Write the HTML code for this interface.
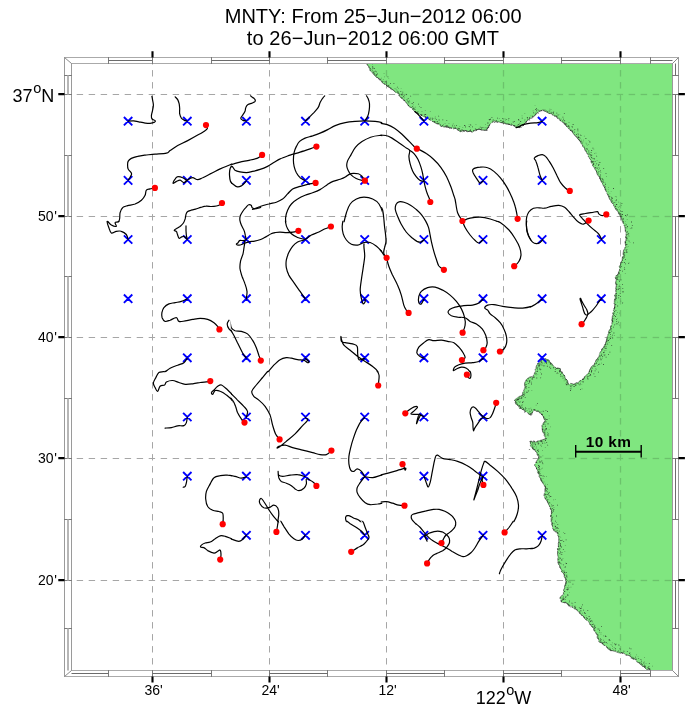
<!DOCTYPE html>
<html><head><meta charset="utf-8"><title>MNTY</title>
<style>html,body{margin:0;padding:0;background:#fff}svg{display:block;will-change:transform}text{font-family:"Liberation Sans",sans-serif;fill:#000}</style></head><body>
<svg width="691" height="710" viewBox="0 0 691 710">
<rect width="691" height="710" fill="#fff"/>
<defs>
<clipPath id="plot"><rect x="71.5" y="63.5" width="601.0" height="607.0"/></clipPath>
<clipPath id="t00"><rect x="59.2" y="49.2" width="173.1" height="173.1"/></clipPath>
<clipPath id="t01"><rect x="59.2" y="220.7" width="173.1" height="151.6"/></clipPath>
<clipPath id="t02"><rect x="59.2" y="370.7" width="173.1" height="151.6"/></clipPath>
<clipPath id="t03"><rect x="59.2" y="520.7" width="173.1" height="180.1"/></clipPath>
<clipPath id="t10"><rect x="230.7" y="49.2" width="151.6" height="173.1"/></clipPath>
<clipPath id="t11"><rect x="230.7" y="220.7" width="151.6" height="151.6"/></clipPath>
<clipPath id="t12"><rect x="230.7" y="370.7" width="151.6" height="151.6"/></clipPath>
<clipPath id="t13"><rect x="230.7" y="520.7" width="151.6" height="180.1"/></clipPath>
<clipPath id="t20"><rect x="380.7" y="49.2" width="150.6" height="173.1"/></clipPath>
<clipPath id="t21"><rect x="380.7" y="220.7" width="150.6" height="151.6"/></clipPath>
<clipPath id="t22"><rect x="380.7" y="370.7" width="150.6" height="151.6"/></clipPath>
<clipPath id="t23"><rect x="380.7" y="520.7" width="150.6" height="180.1"/></clipPath>
<clipPath id="t30"><rect x="529.7" y="49.2" width="162.1" height="173.1"/></clipPath>
<clipPath id="t31"><rect x="529.7" y="220.7" width="162.1" height="151.6"/></clipPath>
<clipPath id="t32"><rect x="529.7" y="370.7" width="162.1" height="151.6"/></clipPath>
<clipPath id="t33"><rect x="529.7" y="520.7" width="162.1" height="180.1"/></clipPath>
</defs>
<g stroke="#a6a6a6" stroke-width="1" stroke-dasharray="6.4 5.6" fill="none" clip-path="url(#plot)">
<path d="M152.5 58.1V676.5"/>
<path d="M269.5 58.1V676.5"/>
<path d="M386.5 58.1V676.5"/>
<path d="M503.5 58.1V676.5"/>
<path d="M620.5 58.1V676.5"/>
<path d="M64.7 94.5H678.5"/>
<path d="M64.7 216.5H678.5"/>
<path d="M64.7 337.5H678.5"/>
<path d="M64.7 458.5H678.5"/>
<path d="M64.7 580.5H678.5"/>
</g>
<path d="M366.5 63.5L367.2 64.7L368.5 66.2L369.3 68.2L369.7 70.0L370.8 71.3L372.1 72.3L373.7 74.5L374.5 75.2L376.4 77.2L377.6 77.7L379.4 78.4L380.5 79.9L380.9 80.8L382.3 82.7L383.4 83.5L385.2 84.3L386.3 84.9L387.0 86.1L389.2 87.4L390.3 88.5L391.9 89.1L393.9 90.6L394.7 91.4L396.1 92.9L397.5 93.2L398.9 94.1L399.4 96.0L400.2 96.8L401.1 98.1L403.1 99.1L404.3 99.9L405.1 101.4L406.0 102.3L407.3 104.1L407.9 104.9L408.5 106.0L410.4 107.5L411.8 107.7L412.5 109.3L413.2 110.1L414.6 110.8L415.7 112.6L417.2 112.7L418.9 114.2L419.9 114.5L421.9 115.8L423.6 116.5L424.3 116.7L425.8 118.1L427.9 118.0L428.4 118.9L429.9 120.0L431.7 120.5L432.3 121.4L434.1 122.4L436.1 123.3L436.9 123.9L438.4 124.0L440.0 125.6L441.2 126.4L442.3 126.2L443.6 126.9L445.1 126.6L446.9 127.0L448.7 127.3L450.1 127.6L451.9 128.0L453.6 128.8L456.0 128.2L456.9 129.4L458.4 130.1L460.3 132.1L461.5 131.3L462.6 130.7L464.5 130.8L466.7 130.5L467.3 131.8L469.4 131.2L471.0 131.4L472.3 132.0L474.1 131.1L474.8 130.2L476.1 130.1L477.9 129.5L479.2 129.0L481.3 130.1L482.9 130.1L484.4 130.2L485.2 130.1L486.9 129.7L487.0 128.6L487.8 127.7L489.1 125.9L490.1 123.9L492.0 122.5L493.0 121.7L494.8 121.0L496.8 122.1L498.6 121.9L499.9 122.5L500.7 122.6L503.2 122.9L504.5 123.0L505.3 123.7L507.0 124.2L509.3 124.1L510.1 125.1L512.0 124.7L512.8 125.2L515.2 126.5L515.8 127.0L518.3 127.3L520.0 127.7L521.0 125.8L523.3 125.3L524.0 124.4L525.1 123.0L526.9 121.3L527.4 120.4L528.7 119.7L530.0 118.5L531.1 118.1L532.6 116.6L534.1 116.2L535.2 115.2L536.5 113.8L537.8 112.2L539.1 111.3L539.9 111.0L542.6 110.1L544.9 111.0L546.1 111.8L548.1 112.9L549.0 113.4L550.7 113.8L552.9 114.8L554.2 115.9L556.1 116.2L557.0 117.4L558.1 118.6L559.3 119.5L560.6 121.0L562.1 122.0L563.6 122.3L564.2 124.2L565.7 124.3L565.9 125.7L566.9 126.6L567.9 128.2L569.9 129.5L570.2 130.4L571.9 130.9L573.2 133.2L573.5 134.4L574.8 135.1L576.5 136.8L576.6 137.6L578.1 138.7L578.6 139.9L580.1 140.8L580.8 142.6L581.1 143.7L582.7 145.1L582.9 146.9L584.6 148.2L584.6 148.7L585.2 150.8L586.2 151.4L587.1 153.8L588.3 154.5L588.3 156.7L589.5 157.8L589.6 158.5L591.1 160.4L591.0 162.5L592.4 163.7L592.5 165.2L593.2 166.7L594.3 167.5L595.2 169.6L595.6 170.1L596.6 171.7L596.8 173.0L597.4 174.5L598.5 176.0L599.7 177.4L600.1 178.7L600.6 180.0L601.2 181.4L602.5 183.5L602.6 184.8L604.2 185.8L604.8 187.6L605.1 189.5L605.7 190.6L606.8 192.6L607.1 193.8L608.2 195.0L608.6 196.1L608.9 197.3L609.7 199.5L610.8 200.2L611.4 202.5L613.2 203.8L613.3 204.7L614.2 206.5L615.0 207.9L616.2 210.1L618.0 211.1L618.2 213.1L619.1 213.8L619.6 215.4L621.0 217.0L621.5 218.5L621.8 219.8L622.4 221.5L622.9 222.6L623.7 224.4L624.6 226.3L625.1 228.2L625.4 230.2L625.3 231.3L626.3 232.8L626.3 235.2L625.3 237.1L626.2 238.5L625.9 240.4L625.0 241.8L625.3 243.8L625.6 245.5L625.0 247.2L624.8 248.7L623.9 249.5L623.4 251.6L623.1 253.8L623.3 255.3L622.9 257.0L622.2 257.8L622.1 260.4L621.2 261.8L620.9 262.9L620.5 264.8L619.3 266.6L619.7 268.2L619.3 270.9L618.6 271.9L618.2 274.0L617.2 275.2L615.8 275.8L615.3 277.8L616.1 279.6L616.0 281.0L615.5 283.1L616.3 285.3L616.1 286.5L615.8 288.4L615.6 289.6L615.9 291.4L615.8 294.0L614.5 295.1L615.4 297.3L614.8 298.2L614.4 300.6L614.3 301.9L614.1 303.5L614.9 304.7L614.6 306.8L614.4 308.7L613.4 310.6L613.5 311.3L612.7 313.5L613.0 315.0L612.3 316.7L612.2 318.9L611.5 320.5L612.2 321.4L611.9 323.8L611.6 324.9L610.4 326.7L610.7 328.6L609.4 330.1L608.8 331.3L608.1 333.9L607.8 335.7L607.3 336.3L607.1 337.7L606.4 340.0L606.4 341.3L605.6 342.8L605.5 343.8L604.7 344.7L603.8 346.6L603.0 348.3L601.6 349.1L601.6 350.6L600.2 352.3L599.2 354.3L599.4 355.3L598.4 356.9L597.7 358.6L596.2 359.7L595.3 362.1L594.7 362.7L594.2 365.1L592.7 365.5L591.4 366.9L590.6 368.3L589.6 370.0L589.0 372.2L588.2 373.0L586.9 374.6L585.9 375.8L584.3 376.8L584.3 377.6L582.6 379.2L581.9 379.7L580.0 380.8L578.7 381.8L577.9 383.0L576.4 382.7L573.9 384.3L573.0 384.0L570.7 383.4L568.6 384.5L568.1 382.7L567.3 380.3L565.3 378.5L565.1 377.7L564.9 376.3L563.8 374.9L562.8 373.3L561.4 372.1L560.6 370.8L560.2 368.6L557.9 368.0L556.8 368.1L554.4 366.9L553.7 366.3L552.4 364.6L551.4 363.1L550.1 362.5L549.9 361.5L548.9 360.1L546.3 359.1L545.4 358.9L543.1 358.8L541.9 360.3L540.4 360.9L539.2 362.8L537.7 363.2L536.9 365.1L536.3 366.2L536.0 368.6L535.2 369.6L535.3 371.5L534.6 373.1L533.4 375.4L533.0 377.3L531.5 376.7L529.5 377.2L528.4 378.0L526.7 378.8L525.7 381.0L525.1 381.8L524.5 384.1L525.0 386.7L524.3 388.7L524.1 389.9L522.7 392.5L522.9 392.9L522.3 394.7L521.4 396.1L519.8 396.2L518.5 397.1L517.8 397.3L516.4 398.5L514.2 400.3L515.5 401.3L515.3 402.8L516.4 404.8L517.2 405.3L519.0 406.1L519.4 408.3L521.3 408.2L521.8 409.2L524.4 410.3L525.6 412.0L526.5 412.1L528.7 413.4L529.3 414.5L530.8 414.8L531.1 413.7L533.0 411.9L533.7 409.5L534.6 410.5L537.1 411.6L538.2 411.2L539.3 412.6L541.0 413.3L541.9 415.0L543.0 416.1L543.5 417.3L543.9 419.0L545.1 420.4L543.7 422.7L543.0 423.3L542.0 425.4L542.0 428.0L542.4 430.2L542.4 430.5L542.9 432.5L544.4 433.8L544.2 435.5L545.2 437.5L545.8 439.4L544.3 439.0L543.0 439.7L541.3 440.2L539.8 440.5L537.5 441.1L535.7 442.4L534.6 441.5L532.7 442.1L531.2 441.1L530.0 441.4L530.5 442.9L530.3 445.9L531.8 447.2L531.9 447.7L533.1 448.7L535.2 450.4L536.1 451.6L537.0 453.1L537.2 454.9L538.7 455.9L539.0 458.3L537.5 459.8L536.4 461.4L535.4 463.4L534.8 464.3L534.7 466.0L536.3 467.3L536.6 468.7L537.7 470.6L537.3 471.5L538.2 473.5L539.1 474.4L539.2 476.8L540.3 478.0L540.9 480.4L541.8 481.7L542.9 483.2L544.4 485.6L544.3 486.1L545.3 487.5L544.9 489.8L545.0 491.2L544.7 492.7L544.4 493.3L544.0 495.6L544.9 497.8L545.2 498.9L546.5 500.2L547.2 501.3L548.4 503.8L548.6 505.0L550.2 507.3L550.0 507.9L551.4 510.5L551.4 511.0L551.4 513.5L550.8 515.9L551.0 517.2L551.3 519.1L551.2 521.6L552.1 522.6L551.7 524.5L552.5 526.1L552.4 527.6L553.5 530.0L553.8 530.8L555.9 531.4L557.2 532.7L557.6 534.9L558.4 536.3L558.8 538.3L558.8 540.1L558.8 541.5L558.3 543.4L558.4 544.9L558.3 547.5L557.4 548.7L557.7 550.6L557.5 552.9L557.7 554.8L558.0 556.3L557.9 558.3L557.8 561.0L558.0 561.8L558.4 563.9L559.4 565.3L560.3 568.0L561.1 569.5L561.4 571.4L562.5 572.8L563.7 573.3L564.3 575.7L564.2 576.4L565.3 578.1L565.7 580.2L565.9 582.0L565.2 584.8L564.6 585.9L564.7 587.9L563.7 589.7L563.4 592.5L563.5 594.4L561.7 595.7L560.4 596.9L559.9 598.1L560.8 599.8L561.2 601.7L562.3 602.5L564.7 602.5L566.6 603.0L568.0 604.4L568.4 605.6L569.7 605.8L571.5 606.3L573.1 607.3L574.3 608.8L575.7 609.1L576.6 609.6L577.5 611.0L579.5 612.6L580.6 614.4L581.4 614.9L583.2 615.9L583.7 617.5L585.1 618.7L586.5 620.3L588.2 621.0L589.2 622.6L589.7 624.4L590.8 624.8L591.6 626.6L593.5 628.0L593.7 628.9L594.0 630.9L595.5 632.0L596.3 633.6L597.4 635.5L597.2 637.3L597.6 638.4L598.7 639.6L598.9 641.8L600.1 642.5L602.4 642.9L602.8 644.4L604.4 645.4L606.0 645.8L606.7 647.0L607.6 648.7L609.7 649.5L610.0 650.6L612.5 650.7L614.0 651.1L615.0 651.2L616.6 651.6L618.3 652.7L620.3 653.1L621.9 652.7L623.3 653.1L625.1 654.1L626.0 655.0L628.4 655.3L629.9 655.9L630.7 657.1L632.8 658.9L634.4 659.1L636.2 660.0L636.6 661.7L638.3 662.4L639.6 663.8L640.6 664.6L642.1 665.6L643.1 666.4L644.5 666.9L645.3 668.2L646.4 669.5L648.4 669.2L650.7 670.5L672.5 670.5L672.5 63.5Z" fill="#80e680" stroke="none"/>
<clipPath id="land"><path d="M366.5 63.5L367.2 64.7L368.5 66.2L369.3 68.2L369.7 70.0L370.8 71.3L372.1 72.3L373.7 74.5L374.5 75.2L376.4 77.2L377.6 77.7L379.4 78.4L380.5 79.9L380.9 80.8L382.3 82.7L383.4 83.5L385.2 84.3L386.3 84.9L387.0 86.1L389.2 87.4L390.3 88.5L391.9 89.1L393.9 90.6L394.7 91.4L396.1 92.9L397.5 93.2L398.9 94.1L399.4 96.0L400.2 96.8L401.1 98.1L403.1 99.1L404.3 99.9L405.1 101.4L406.0 102.3L407.3 104.1L407.9 104.9L408.5 106.0L410.4 107.5L411.8 107.7L412.5 109.3L413.2 110.1L414.6 110.8L415.7 112.6L417.2 112.7L418.9 114.2L419.9 114.5L421.9 115.8L423.6 116.5L424.3 116.7L425.8 118.1L427.9 118.0L428.4 118.9L429.9 120.0L431.7 120.5L432.3 121.4L434.1 122.4L436.1 123.3L436.9 123.9L438.4 124.0L440.0 125.6L441.2 126.4L442.3 126.2L443.6 126.9L445.1 126.6L446.9 127.0L448.7 127.3L450.1 127.6L451.9 128.0L453.6 128.8L456.0 128.2L456.9 129.4L458.4 130.1L460.3 132.1L461.5 131.3L462.6 130.7L464.5 130.8L466.7 130.5L467.3 131.8L469.4 131.2L471.0 131.4L472.3 132.0L474.1 131.1L474.8 130.2L476.1 130.1L477.9 129.5L479.2 129.0L481.3 130.1L482.9 130.1L484.4 130.2L485.2 130.1L486.9 129.7L487.0 128.6L487.8 127.7L489.1 125.9L490.1 123.9L492.0 122.5L493.0 121.7L494.8 121.0L496.8 122.1L498.6 121.9L499.9 122.5L500.7 122.6L503.2 122.9L504.5 123.0L505.3 123.7L507.0 124.2L509.3 124.1L510.1 125.1L512.0 124.7L512.8 125.2L515.2 126.5L515.8 127.0L518.3 127.3L520.0 127.7L521.0 125.8L523.3 125.3L524.0 124.4L525.1 123.0L526.9 121.3L527.4 120.4L528.7 119.7L530.0 118.5L531.1 118.1L532.6 116.6L534.1 116.2L535.2 115.2L536.5 113.8L537.8 112.2L539.1 111.3L539.9 111.0L542.6 110.1L544.9 111.0L546.1 111.8L548.1 112.9L549.0 113.4L550.7 113.8L552.9 114.8L554.2 115.9L556.1 116.2L557.0 117.4L558.1 118.6L559.3 119.5L560.6 121.0L562.1 122.0L563.6 122.3L564.2 124.2L565.7 124.3L565.9 125.7L566.9 126.6L567.9 128.2L569.9 129.5L570.2 130.4L571.9 130.9L573.2 133.2L573.5 134.4L574.8 135.1L576.5 136.8L576.6 137.6L578.1 138.7L578.6 139.9L580.1 140.8L580.8 142.6L581.1 143.7L582.7 145.1L582.9 146.9L584.6 148.2L584.6 148.7L585.2 150.8L586.2 151.4L587.1 153.8L588.3 154.5L588.3 156.7L589.5 157.8L589.6 158.5L591.1 160.4L591.0 162.5L592.4 163.7L592.5 165.2L593.2 166.7L594.3 167.5L595.2 169.6L595.6 170.1L596.6 171.7L596.8 173.0L597.4 174.5L598.5 176.0L599.7 177.4L600.1 178.7L600.6 180.0L601.2 181.4L602.5 183.5L602.6 184.8L604.2 185.8L604.8 187.6L605.1 189.5L605.7 190.6L606.8 192.6L607.1 193.8L608.2 195.0L608.6 196.1L608.9 197.3L609.7 199.5L610.8 200.2L611.4 202.5L613.2 203.8L613.3 204.7L614.2 206.5L615.0 207.9L616.2 210.1L618.0 211.1L618.2 213.1L619.1 213.8L619.6 215.4L621.0 217.0L621.5 218.5L621.8 219.8L622.4 221.5L622.9 222.6L623.7 224.4L624.6 226.3L625.1 228.2L625.4 230.2L625.3 231.3L626.3 232.8L626.3 235.2L625.3 237.1L626.2 238.5L625.9 240.4L625.0 241.8L625.3 243.8L625.6 245.5L625.0 247.2L624.8 248.7L623.9 249.5L623.4 251.6L623.1 253.8L623.3 255.3L622.9 257.0L622.2 257.8L622.1 260.4L621.2 261.8L620.9 262.9L620.5 264.8L619.3 266.6L619.7 268.2L619.3 270.9L618.6 271.9L618.2 274.0L617.2 275.2L615.8 275.8L615.3 277.8L616.1 279.6L616.0 281.0L615.5 283.1L616.3 285.3L616.1 286.5L615.8 288.4L615.6 289.6L615.9 291.4L615.8 294.0L614.5 295.1L615.4 297.3L614.8 298.2L614.4 300.6L614.3 301.9L614.1 303.5L614.9 304.7L614.6 306.8L614.4 308.7L613.4 310.6L613.5 311.3L612.7 313.5L613.0 315.0L612.3 316.7L612.2 318.9L611.5 320.5L612.2 321.4L611.9 323.8L611.6 324.9L610.4 326.7L610.7 328.6L609.4 330.1L608.8 331.3L608.1 333.9L607.8 335.7L607.3 336.3L607.1 337.7L606.4 340.0L606.4 341.3L605.6 342.8L605.5 343.8L604.7 344.7L603.8 346.6L603.0 348.3L601.6 349.1L601.6 350.6L600.2 352.3L599.2 354.3L599.4 355.3L598.4 356.9L597.7 358.6L596.2 359.7L595.3 362.1L594.7 362.7L594.2 365.1L592.7 365.5L591.4 366.9L590.6 368.3L589.6 370.0L589.0 372.2L588.2 373.0L586.9 374.6L585.9 375.8L584.3 376.8L584.3 377.6L582.6 379.2L581.9 379.7L580.0 380.8L578.7 381.8L577.9 383.0L576.4 382.7L573.9 384.3L573.0 384.0L570.7 383.4L568.6 384.5L568.1 382.7L567.3 380.3L565.3 378.5L565.1 377.7L564.9 376.3L563.8 374.9L562.8 373.3L561.4 372.1L560.6 370.8L560.2 368.6L557.9 368.0L556.8 368.1L554.4 366.9L553.7 366.3L552.4 364.6L551.4 363.1L550.1 362.5L549.9 361.5L548.9 360.1L546.3 359.1L545.4 358.9L543.1 358.8L541.9 360.3L540.4 360.9L539.2 362.8L537.7 363.2L536.9 365.1L536.3 366.2L536.0 368.6L535.2 369.6L535.3 371.5L534.6 373.1L533.4 375.4L533.0 377.3L531.5 376.7L529.5 377.2L528.4 378.0L526.7 378.8L525.7 381.0L525.1 381.8L524.5 384.1L525.0 386.7L524.3 388.7L524.1 389.9L522.7 392.5L522.9 392.9L522.3 394.7L521.4 396.1L519.8 396.2L518.5 397.1L517.8 397.3L516.4 398.5L514.2 400.3L515.5 401.3L515.3 402.8L516.4 404.8L517.2 405.3L519.0 406.1L519.4 408.3L521.3 408.2L521.8 409.2L524.4 410.3L525.6 412.0L526.5 412.1L528.7 413.4L529.3 414.5L530.8 414.8L531.1 413.7L533.0 411.9L533.7 409.5L534.6 410.5L537.1 411.6L538.2 411.2L539.3 412.6L541.0 413.3L541.9 415.0L543.0 416.1L543.5 417.3L543.9 419.0L545.1 420.4L543.7 422.7L543.0 423.3L542.0 425.4L542.0 428.0L542.4 430.2L542.4 430.5L542.9 432.5L544.4 433.8L544.2 435.5L545.2 437.5L545.8 439.4L544.3 439.0L543.0 439.7L541.3 440.2L539.8 440.5L537.5 441.1L535.7 442.4L534.6 441.5L532.7 442.1L531.2 441.1L530.0 441.4L530.5 442.9L530.3 445.9L531.8 447.2L531.9 447.7L533.1 448.7L535.2 450.4L536.1 451.6L537.0 453.1L537.2 454.9L538.7 455.9L539.0 458.3L537.5 459.8L536.4 461.4L535.4 463.4L534.8 464.3L534.7 466.0L536.3 467.3L536.6 468.7L537.7 470.6L537.3 471.5L538.2 473.5L539.1 474.4L539.2 476.8L540.3 478.0L540.9 480.4L541.8 481.7L542.9 483.2L544.4 485.6L544.3 486.1L545.3 487.5L544.9 489.8L545.0 491.2L544.7 492.7L544.4 493.3L544.0 495.6L544.9 497.8L545.2 498.9L546.5 500.2L547.2 501.3L548.4 503.8L548.6 505.0L550.2 507.3L550.0 507.9L551.4 510.5L551.4 511.0L551.4 513.5L550.8 515.9L551.0 517.2L551.3 519.1L551.2 521.6L552.1 522.6L551.7 524.5L552.5 526.1L552.4 527.6L553.5 530.0L553.8 530.8L555.9 531.4L557.2 532.7L557.6 534.9L558.4 536.3L558.8 538.3L558.8 540.1L558.8 541.5L558.3 543.4L558.4 544.9L558.3 547.5L557.4 548.7L557.7 550.6L557.5 552.9L557.7 554.8L558.0 556.3L557.9 558.3L557.8 561.0L558.0 561.8L558.4 563.9L559.4 565.3L560.3 568.0L561.1 569.5L561.4 571.4L562.5 572.8L563.7 573.3L564.3 575.7L564.2 576.4L565.3 578.1L565.7 580.2L565.9 582.0L565.2 584.8L564.6 585.9L564.7 587.9L563.7 589.7L563.4 592.5L563.5 594.4L561.7 595.7L560.4 596.9L559.9 598.1L560.8 599.8L561.2 601.7L562.3 602.5L564.7 602.5L566.6 603.0L568.0 604.4L568.4 605.6L569.7 605.8L571.5 606.3L573.1 607.3L574.3 608.8L575.7 609.1L576.6 609.6L577.5 611.0L579.5 612.6L580.6 614.4L581.4 614.9L583.2 615.9L583.7 617.5L585.1 618.7L586.5 620.3L588.2 621.0L589.2 622.6L589.7 624.4L590.8 624.8L591.6 626.6L593.5 628.0L593.7 628.9L594.0 630.9L595.5 632.0L596.3 633.6L597.4 635.5L597.2 637.3L597.6 638.4L598.7 639.6L598.9 641.8L600.1 642.5L602.4 642.9L602.8 644.4L604.4 645.4L606.0 645.8L606.7 647.0L607.6 648.7L609.7 649.5L610.0 650.6L612.5 650.7L614.0 651.1L615.0 651.2L616.6 651.6L618.3 652.7L620.3 653.1L621.9 652.7L623.3 653.1L625.1 654.1L626.0 655.0L628.4 655.3L629.9 655.9L630.7 657.1L632.8 658.9L634.4 659.1L636.2 660.0L636.6 661.7L638.3 662.4L639.6 663.8L640.6 664.6L642.1 665.6L643.1 666.4L644.5 666.9L645.3 668.2L646.4 669.5L648.4 669.2L650.7 670.5L672.5 670.5L672.5 63.5Z"/></clipPath>
<g clip-path="url(#land)" fill="none" stroke-dasharray="6.4 5.6"><path d="M152.5 58.1V676.5M269.5 58.1V676.5M386.5 58.1V676.5M503.5 58.1V676.5M620.5 58.1V676.5M64.7 94.5H678.5M64.7 216.5H678.5M64.7 337.5H678.5M64.7 458.5H678.5M64.7 580.5H678.5" stroke="#78dc78" stroke-width="3" stroke-opacity="0.5"/><path d="M152.5 58.1V676.5M269.5 58.1V676.5M386.5 58.1V676.5M503.5 58.1V676.5M620.5 58.1V676.5M64.7 94.5H678.5M64.7 216.5H678.5M64.7 337.5H678.5M64.7 458.5H678.5M64.7 580.5H678.5" stroke="#6cc26c" stroke-width="1"/></g>
<path d="M366.5 63.5L367.2 64.7L368.5 66.2L369.3 68.2L369.7 70.0L370.8 71.3L372.1 72.3L373.7 74.5L374.5 75.2L376.4 77.2L377.6 77.7L379.4 78.4L380.5 79.9L380.9 80.8L382.3 82.7L383.4 83.5L385.2 84.3L386.3 84.9L387.0 86.1L389.2 87.4L390.3 88.5L391.9 89.1L393.9 90.6L394.7 91.4L396.1 92.9L397.5 93.2L398.9 94.1L399.4 96.0L400.2 96.8L401.1 98.1L403.1 99.1L404.3 99.9L405.1 101.4L406.0 102.3L407.3 104.1L407.9 104.9L408.5 106.0L410.4 107.5L411.8 107.7L412.5 109.3L413.2 110.1L414.6 110.8L415.7 112.6L417.2 112.7L418.9 114.2L419.9 114.5L421.9 115.8L423.6 116.5L424.3 116.7L425.8 118.1L427.9 118.0L428.4 118.9L429.9 120.0L431.7 120.5L432.3 121.4L434.1 122.4L436.1 123.3L436.9 123.9L438.4 124.0L440.0 125.6L441.2 126.4L442.3 126.2L443.6 126.9L445.1 126.6L446.9 127.0L448.7 127.3L450.1 127.6L451.9 128.0L453.6 128.8L456.0 128.2L456.9 129.4L458.4 130.1L460.3 132.1L461.5 131.3L462.6 130.7L464.5 130.8L466.7 130.5L467.3 131.8L469.4 131.2L471.0 131.4L472.3 132.0L474.1 131.1L474.8 130.2L476.1 130.1L477.9 129.5L479.2 129.0L481.3 130.1L482.9 130.1L484.4 130.2L485.2 130.1L486.9 129.7L487.0 128.6L487.8 127.7L489.1 125.9L490.1 123.9L492.0 122.5L493.0 121.7L494.8 121.0L496.8 122.1L498.6 121.9L499.9 122.5L500.7 122.6L503.2 122.9L504.5 123.0L505.3 123.7L507.0 124.2L509.3 124.1L510.1 125.1L512.0 124.7L512.8 125.2L515.2 126.5L515.8 127.0L518.3 127.3L520.0 127.7L521.0 125.8L523.3 125.3L524.0 124.4L525.1 123.0L526.9 121.3L527.4 120.4L528.7 119.7L530.0 118.5L531.1 118.1L532.6 116.6L534.1 116.2L535.2 115.2L536.5 113.8L537.8 112.2L539.1 111.3L539.9 111.0L542.6 110.1L544.9 111.0L546.1 111.8L548.1 112.9L549.0 113.4L550.7 113.8L552.9 114.8L554.2 115.9L556.1 116.2L557.0 117.4L558.1 118.6L559.3 119.5L560.6 121.0L562.1 122.0L563.6 122.3L564.2 124.2L565.7 124.3L565.9 125.7L566.9 126.6L567.9 128.2L569.9 129.5L570.2 130.4L571.9 130.9L573.2 133.2L573.5 134.4L574.8 135.1L576.5 136.8L576.6 137.6L578.1 138.7L578.6 139.9L580.1 140.8L580.8 142.6L581.1 143.7L582.7 145.1L582.9 146.9L584.6 148.2L584.6 148.7L585.2 150.8L586.2 151.4L587.1 153.8L588.3 154.5L588.3 156.7L589.5 157.8L589.6 158.5L591.1 160.4L591.0 162.5L592.4 163.7L592.5 165.2L593.2 166.7L594.3 167.5L595.2 169.6L595.6 170.1L596.6 171.7L596.8 173.0L597.4 174.5L598.5 176.0L599.7 177.4L600.1 178.7L600.6 180.0L601.2 181.4L602.5 183.5L602.6 184.8L604.2 185.8L604.8 187.6L605.1 189.5L605.7 190.6L606.8 192.6L607.1 193.8L608.2 195.0L608.6 196.1L608.9 197.3L609.7 199.5L610.8 200.2L611.4 202.5L613.2 203.8L613.3 204.7L614.2 206.5L615.0 207.9L616.2 210.1L618.0 211.1L618.2 213.1L619.1 213.8L619.6 215.4L621.0 217.0L621.5 218.5L621.8 219.8L622.4 221.5L622.9 222.6L623.7 224.4L624.6 226.3L625.1 228.2L625.4 230.2L625.3 231.3L626.3 232.8L626.3 235.2L625.3 237.1L626.2 238.5L625.9 240.4L625.0 241.8L625.3 243.8L625.6 245.5L625.0 247.2L624.8 248.7L623.9 249.5L623.4 251.6L623.1 253.8L623.3 255.3L622.9 257.0L622.2 257.8L622.1 260.4L621.2 261.8L620.9 262.9L620.5 264.8L619.3 266.6L619.7 268.2L619.3 270.9L618.6 271.9L618.2 274.0L617.2 275.2L615.8 275.8L615.3 277.8L616.1 279.6L616.0 281.0L615.5 283.1L616.3 285.3L616.1 286.5L615.8 288.4L615.6 289.6L615.9 291.4L615.8 294.0L614.5 295.1L615.4 297.3L614.8 298.2L614.4 300.6L614.3 301.9L614.1 303.5L614.9 304.7L614.6 306.8L614.4 308.7L613.4 310.6L613.5 311.3L612.7 313.5L613.0 315.0L612.3 316.7L612.2 318.9L611.5 320.5L612.2 321.4L611.9 323.8L611.6 324.9L610.4 326.7L610.7 328.6L609.4 330.1L608.8 331.3L608.1 333.9L607.8 335.7L607.3 336.3L607.1 337.7L606.4 340.0L606.4 341.3L605.6 342.8L605.5 343.8L604.7 344.7L603.8 346.6L603.0 348.3L601.6 349.1L601.6 350.6L600.2 352.3L599.2 354.3L599.4 355.3L598.4 356.9L597.7 358.6L596.2 359.7L595.3 362.1L594.7 362.7L594.2 365.1L592.7 365.5L591.4 366.9L590.6 368.3L589.6 370.0L589.0 372.2L588.2 373.0L586.9 374.6L585.9 375.8L584.3 376.8L584.3 377.6L582.6 379.2L581.9 379.7L580.0 380.8L578.7 381.8L577.9 383.0L576.4 382.7L573.9 384.3L573.0 384.0L570.7 383.4L568.6 384.5L568.1 382.7L567.3 380.3L565.3 378.5L565.1 377.7L564.9 376.3L563.8 374.9L562.8 373.3L561.4 372.1L560.6 370.8L560.2 368.6L557.9 368.0L556.8 368.1L554.4 366.9L553.7 366.3L552.4 364.6L551.4 363.1L550.1 362.5L549.9 361.5L548.9 360.1L546.3 359.1L545.4 358.9L543.1 358.8L541.9 360.3L540.4 360.9L539.2 362.8L537.7 363.2L536.9 365.1L536.3 366.2L536.0 368.6L535.2 369.6L535.3 371.5L534.6 373.1L533.4 375.4L533.0 377.3L531.5 376.7L529.5 377.2L528.4 378.0L526.7 378.8L525.7 381.0L525.1 381.8L524.5 384.1L525.0 386.7L524.3 388.7L524.1 389.9L522.7 392.5L522.9 392.9L522.3 394.7L521.4 396.1L519.8 396.2L518.5 397.1L517.8 397.3L516.4 398.5L514.2 400.3L515.5 401.3L515.3 402.8L516.4 404.8L517.2 405.3L519.0 406.1L519.4 408.3L521.3 408.2L521.8 409.2L524.4 410.3L525.6 412.0L526.5 412.1L528.7 413.4L529.3 414.5L530.8 414.8L531.1 413.7L533.0 411.9L533.7 409.5L534.6 410.5L537.1 411.6L538.2 411.2L539.3 412.6L541.0 413.3L541.9 415.0L543.0 416.1L543.5 417.3L543.9 419.0L545.1 420.4L543.7 422.7L543.0 423.3L542.0 425.4L542.0 428.0L542.4 430.2L542.4 430.5L542.9 432.5L544.4 433.8L544.2 435.5L545.2 437.5L545.8 439.4L544.3 439.0L543.0 439.7L541.3 440.2L539.8 440.5L537.5 441.1L535.7 442.4L534.6 441.5L532.7 442.1L531.2 441.1L530.0 441.4L530.5 442.9L530.3 445.9L531.8 447.2L531.9 447.7L533.1 448.7L535.2 450.4L536.1 451.6L537.0 453.1L537.2 454.9L538.7 455.9L539.0 458.3L537.5 459.8L536.4 461.4L535.4 463.4L534.8 464.3L534.7 466.0L536.3 467.3L536.6 468.7L537.7 470.6L537.3 471.5L538.2 473.5L539.1 474.4L539.2 476.8L540.3 478.0L540.9 480.4L541.8 481.7L542.9 483.2L544.4 485.6L544.3 486.1L545.3 487.5L544.9 489.8L545.0 491.2L544.7 492.7L544.4 493.3L544.0 495.6L544.9 497.8L545.2 498.9L546.5 500.2L547.2 501.3L548.4 503.8L548.6 505.0L550.2 507.3L550.0 507.9L551.4 510.5L551.4 511.0L551.4 513.5L550.8 515.9L551.0 517.2L551.3 519.1L551.2 521.6L552.1 522.6L551.7 524.5L552.5 526.1L552.4 527.6L553.5 530.0L553.8 530.8L555.9 531.4L557.2 532.7L557.6 534.9L558.4 536.3L558.8 538.3L558.8 540.1L558.8 541.5L558.3 543.4L558.4 544.9L558.3 547.5L557.4 548.7L557.7 550.6L557.5 552.9L557.7 554.8L558.0 556.3L557.9 558.3L557.8 561.0L558.0 561.8L558.4 563.9L559.4 565.3L560.3 568.0L561.1 569.5L561.4 571.4L562.5 572.8L563.7 573.3L564.3 575.7L564.2 576.4L565.3 578.1L565.7 580.2L565.9 582.0L565.2 584.8L564.6 585.9L564.7 587.9L563.7 589.7L563.4 592.5L563.5 594.4L561.7 595.7L560.4 596.9L559.9 598.1L560.8 599.8L561.2 601.7L562.3 602.5L564.7 602.5L566.6 603.0L568.0 604.4L568.4 605.6L569.7 605.8L571.5 606.3L573.1 607.3L574.3 608.8L575.7 609.1L576.6 609.6L577.5 611.0L579.5 612.6L580.6 614.4L581.4 614.9L583.2 615.9L583.7 617.5L585.1 618.7L586.5 620.3L588.2 621.0L589.2 622.6L589.7 624.4L590.8 624.8L591.6 626.6L593.5 628.0L593.7 628.9L594.0 630.9L595.5 632.0L596.3 633.6L597.4 635.5L597.2 637.3L597.6 638.4L598.7 639.6L598.9 641.8L600.1 642.5L602.4 642.9L602.8 644.4L604.4 645.4L606.0 645.8L606.7 647.0L607.6 648.7L609.7 649.5L610.0 650.6L612.5 650.7L614.0 651.1L615.0 651.2L616.6 651.6L618.3 652.7L620.3 653.1L621.9 652.7L623.3 653.1L625.1 654.1L626.0 655.0L628.4 655.3L629.9 655.9L630.7 657.1L632.8 658.9L634.4 659.1L636.2 660.0L636.6 661.7L638.3 662.4L639.6 663.8L640.6 664.6L642.1 665.6L643.1 666.4L644.5 666.9L645.3 668.2L646.4 669.5L648.4 669.2L650.7 670.5" fill="none" stroke="#1c1c1c" stroke-opacity="0.72" stroke-width="0.85" stroke-dasharray="6 0.9 3 0.7 9 1.3 2 0.6"/>
<g clip-path="url(#plot)"><path d="M366.9 64.5h.8v.8h-.8zM368.7 66.8h.8v.8h-.8zM372.3 65.9h.8v.8h-.8zM369.9 69.6h.8v.8h-.8zM370.2 67.9h.8v.8h-.8zM372.0 67.6h.8v.8h-.8zM374.2 68.0h.8v.8h-.8zM371.9 70.4h.8v.8h-.8zM373.3 67.7h.8v.8h-.8zM374.9 70.7h.8v.8h-.8zM373.4 71.6h.8v.8h-.8zM372.9 72.0h.8v.8h-.8zM373.7 73.5h.8v.8h-.8zM375.9 71.4h.8v.8h-.8zM374.3 73.4h.8v.8h-.8zM375.5 74.8h.8v.8h-.8zM375.9 75.3h.8v.8h-.8zM377.2 73.5h.8v.8h-.8zM376.4 74.3h.8v.8h-.8zM376.6 76.9h.8v.8h-.8zM378.0 78.1h.8v.8h-.8zM378.7 79.0h.8v.8h-.8zM379.7 79.6h.8v.8h-.8zM379.4 78.4h.8v.8h-.8zM379.6 79.6h.8v.8h-.8zM382.1 81.4h.8v.8h-.8zM385.0 81.4h.8v.8h-.8zM387.5 76.5h.8v.8h-.8zM385.9 80.7h.8v.8h-.8zM386.2 82.6h.8v.8h-.8zM384.0 83.8h.8v.8h-.8zM386.2 85.0h.8v.8h-.8zM387.7 85.1h.8v.8h-.8zM388.6 86.6h.8v.8h-.8zM390.2 83.2h.8v.8h-.8zM388.3 85.8h.8v.8h-.8zM389.6 87.3h.8v.8h-.8zM393.5 83.2h.8v.8h-.8zM390.7 88.6h.8v.8h-.8zM396.9 86.8h.8v.8h-.8zM394.3 90.8h.8v.8h-.8zM394.3 90.7h.8v.8h-.8zM396.8 91.6h.8v.8h-.8zM398.0 92.5h.8v.8h-.8zM400.4 91.2h.8v.8h-.8zM399.2 94.5h.8v.8h-.8zM400.7 94.0h.8v.8h-.8zM402.4 91.7h.8v.8h-.8zM401.8 93.6h.8v.8h-.8zM401.4 96.9h.8v.8h-.8zM403.1 96.3h.8v.8h-.8zM406.2 94.3h.8v.8h-.8zM402.9 99.0h.8v.8h-.8zM403.8 100.1h.8v.8h-.8zM403.4 100.0h.8v.8h-.8zM407.8 98.0h.8v.8h-.8zM410.3 95.8h.8v.8h-.8zM407.4 100.7h.8v.8h-.8zM408.2 101.6h.8v.8h-.8zM408.0 105.2h.8v.8h-.8zM411.7 103.1h.8v.8h-.8zM413.2 102.0h.8v.8h-.8zM412.3 106.2h.8v.8h-.8zM412.9 107.7h.8v.8h-.8zM412.4 108.6h.8v.8h-.8zM413.8 108.9h.8v.8h-.8zM418.2 103.7h.8v.8h-.8zM413.6 108.0h.8v.8h-.8zM415.1 111.6h.8v.8h-.8zM420.6 107.2h.8v.8h-.8zM417.3 111.8h.8v.8h-.8zM417.9 113.4h.8v.8h-.8zM421.1 114.2h.8v.8h-.8zM420.8 114.6h.8v.8h-.8zM421.3 115.3h.8v.8h-.8zM424.4 114.3h.8v.8h-.8zM425.3 114.1h.8v.8h-.8zM425.3 116.1h.8v.8h-.8zM425.4 117.1h.8v.8h-.8zM426.8 117.7h.8v.8h-.8zM428.9 118.7h.8v.8h-.8zM429.0 118.7h.8v.8h-.8zM429.9 117.8h.8v.8h-.8zM431.8 117.8h.8v.8h-.8zM431.9 118.7h.8v.8h-.8zM434.8 117.8h.8v.8h-.8zM432.8 121.2h.8v.8h-.8zM434.1 121.3h.8v.8h-.8zM434.1 121.0h.8v.8h-.8zM435.9 118.9h.8v.8h-.8zM434.3 121.4h.8v.8h-.8zM435.6 121.4h.8v.8h-.8zM438.3 115.7h.8v.8h-.8zM436.8 123.3h.8v.8h-.8zM437.1 120.9h.8v.8h-.8zM438.7 119.6h.8v.8h-.8zM438.2 123.0h.8v.8h-.8zM438.7 122.8h.8v.8h-.8zM439.8 124.3h.8v.8h-.8zM442.4 119.4h.8v.8h-.8zM442.0 125.2h.8v.8h-.8zM441.5 126.3h.8v.8h-.8zM445.2 126.4h.8v.8h-.8zM446.4 119.9h.8v.8h-.8zM446.2 125.6h.8v.8h-.8zM446.4 126.7h.8v.8h-.8zM447.1 125.6h.8v.8h-.8zM447.8 126.9h.8v.8h-.8zM448.4 126.8h.8v.8h-.8zM450.7 127.5h.8v.8h-.8zM449.6 128.0h.8v.8h-.8zM451.3 128.0h.8v.8h-.8zM455.2 127.6h.8v.8h-.8zM456.0 125.2h.8v.8h-.8zM454.7 128.3h.8v.8h-.8zM457.7 128.6h.8v.8h-.8zM458.1 128.3h.8v.8h-.8zM459.2 127.9h.8v.8h-.8zM457.7 130.0h.8v.8h-.8zM460.5 130.1h.8v.8h-.8zM464.2 125.1h.8v.8h-.8zM460.4 131.3h.8v.8h-.8zM462.7 130.3h.8v.8h-.8zM461.6 129.0h.8v.8h-.8zM464.1 130.7h.8v.8h-.8zM463.2 130.2h.8v.8h-.8zM463.3 131.2h.8v.8h-.8zM466.0 131.2h.8v.8h-.8zM464.9 130.3h.8v.8h-.8zM465.1 125.7h.8v.8h-.8zM468.8 126.1h.8v.8h-.8zM469.1 130.7h.8v.8h-.8zM468.4 131.2h.8v.8h-.8zM469.9 130.0h.8v.8h-.8zM469.7 130.7h.8v.8h-.8zM471.0 131.5h.8v.8h-.8zM471.9 131.8h.8v.8h-.8zM470.1 129.5h.8v.8h-.8zM473.0 130.3h.8v.8h-.8zM470.4 124.7h.8v.8h-.8zM474.7 130.5h.8v.8h-.8zM472.1 126.5h.8v.8h-.8zM476.0 129.5h.8v.8h-.8zM474.9 128.6h.8v.8h-.8zM476.2 129.7h.8v.8h-.8zM475.9 130.0h.8v.8h-.8zM476.4 129.2h.8v.8h-.8zM477.5 129.3h.8v.8h-.8zM479.2 129.0h.8v.8h-.8zM479.8 126.7h.8v.8h-.8zM479.9 129.2h.8v.8h-.8zM480.5 128.9h.8v.8h-.8zM481.7 126.9h.8v.8h-.8zM481.3 129.8h.8v.8h-.8zM483.9 130.0h.8v.8h-.8zM485.1 130.2h.8v.8h-.8zM487.1 127.7h.8v.8h-.8zM487.5 122.6h.8v.8h-.8zM486.1 130.3h.8v.8h-.8zM486.9 129.8h.8v.8h-.8zM481.3 127.7h.8v.8h-.8zM487.3 128.2h.8v.8h-.8zM488.3 127.0h.8v.8h-.8zM488.0 127.3h.8v.8h-.8zM489.1 124.7h.8v.8h-.8zM488.4 125.5h.8v.8h-.8zM488.8 119.2h.8v.8h-.8zM490.0 118.7h.8v.8h-.8zM489.7 119.1h.8v.8h-.8zM488.9 119.4h.8v.8h-.8zM492.8 121.4h.8v.8h-.8zM491.5 117.0h.8v.8h-.8zM492.8 119.6h.8v.8h-.8zM494.2 121.9h.8v.8h-.8zM495.9 120.5h.8v.8h-.8zM497.2 117.8h.8v.8h-.8zM496.2 120.4h.8v.8h-.8zM497.2 121.8h.8v.8h-.8zM500.5 120.0h.8v.8h-.8zM500.7 122.1h.8v.8h-.8zM502.3 121.0h.8v.8h-.8zM502.6 122.4h.8v.8h-.8zM502.3 118.0h.8v.8h-.8zM503.3 121.0h.8v.8h-.8zM503.3 122.9h.8v.8h-.8zM505.8 119.3h.8v.8h-.8zM504.8 122.8h.8v.8h-.8zM508.5 118.3h.8v.8h-.8zM508.1 124.2h.8v.8h-.8zM509.1 123.9h.8v.8h-.8zM508.7 124.2h.8v.8h-.8zM511.5 125.0h.8v.8h-.8zM512.8 121.6h.8v.8h-.8zM514.1 121.0h.8v.8h-.8zM513.8 125.6h.8v.8h-.8zM514.0 124.9h.8v.8h-.8zM513.4 125.0h.8v.8h-.8zM515.7 126.4h.8v.8h-.8zM518.5 119.7h.8v.8h-.8zM517.4 124.8h.8v.8h-.8zM518.3 124.0h.8v.8h-.8zM519.2 126.7h.8v.8h-.8zM518.5 126.4h.8v.8h-.8zM520.1 126.1h.8v.8h-.8zM520.7 127.3h.8v.8h-.8zM520.2 125.3h.8v.8h-.8zM521.7 124.3h.8v.8h-.8zM523.1 125.1h.8v.8h-.8zM523.0 124.4h.8v.8h-.8zM520.3 121.1h.8v.8h-.8zM518.1 119.0h.8v.8h-.8zM524.1 123.6h.8v.8h-.8zM521.8 117.8h.8v.8h-.8zM525.8 122.3h.8v.8h-.8zM526.2 121.0h.8v.8h-.8zM526.9 117.1h.8v.8h-.8zM529.2 117.5h.8v.8h-.8zM529.3 119.6h.8v.8h-.8zM531.4 118.0h.8v.8h-.8zM532.3 116.2h.8v.8h-.8zM532.4 117.1h.8v.8h-.8zM532.9 116.2h.8v.8h-.8zM534.9 114.3h.8v.8h-.8zM533.2 112.5h.8v.8h-.8zM535.6 112.8h.8v.8h-.8zM535.1 109.2h.8v.8h-.8zM537.8 112.8h.8v.8h-.8zM536.1 110.4h.8v.8h-.8zM536.1 108.0h.8v.8h-.8zM536.5 109.4h.8v.8h-.8zM539.5 111.0h.8v.8h-.8zM538.5 110.5h.8v.8h-.8zM541.4 110.4h.8v.8h-.8zM540.9 110.1h.8v.8h-.8zM543.8 110.7h.8v.8h-.8zM545.6 110.4h.8v.8h-.8zM545.7 110.5h.8v.8h-.8zM548.7 110.8h.8v.8h-.8zM547.1 111.2h.8v.8h-.8zM549.7 112.8h.8v.8h-.8zM551.6 112.0h.8v.8h-.8zM550.8 113.2h.8v.8h-.8zM553.0 112.0h.8v.8h-.8zM552.5 114.7h.8v.8h-.8zM552.9 113.3h.8v.8h-.8zM554.5 115.7h.8v.8h-.8zM556.4 112.7h.8v.8h-.8zM557.6 114.8h.8v.8h-.8zM556.5 116.0h.8v.8h-.8zM556.5 116.7h.8v.8h-.8zM557.7 114.5h.8v.8h-.8zM557.3 118.0h.8v.8h-.8zM563.9 113.3h.8v.8h-.8zM559.9 120.3h.8v.8h-.8zM562.5 116.8h.8v.8h-.8zM563.0 118.7h.8v.8h-.8zM564.3 120.4h.8v.8h-.8zM564.1 122.7h.8v.8h-.8zM564.8 123.7h.8v.8h-.8zM565.6 123.1h.8v.8h-.8zM565.5 124.6h.8v.8h-.8zM566.5 126.3h.8v.8h-.8zM567.9 125.0h.8v.8h-.8zM568.1 126.0h.8v.8h-.8zM568.8 126.8h.8v.8h-.8zM572.7 124.1h.8v.8h-.8zM571.9 126.6h.8v.8h-.8zM570.2 129.9h.8v.8h-.8zM570.4 129.4h.8v.8h-.8zM571.7 131.2h.8v.8h-.8zM574.4 129.0h.8v.8h-.8zM571.9 130.4h.8v.8h-.8zM577.5 128.8h.8v.8h-.8zM574.0 131.7h.8v.8h-.8zM577.5 130.4h.8v.8h-.8zM576.3 133.9h.8v.8h-.8zM574.0 134.4h.8v.8h-.8zM575.4 135.9h.8v.8h-.8zM578.1 133.7h.8v.8h-.8zM577.7 135.7h.8v.8h-.8zM580.0 134.8h.8v.8h-.8zM576.9 137.5h.8v.8h-.8zM578.3 136.8h.8v.8h-.8zM578.7 137.3h.8v.8h-.8zM578.0 137.3h.8v.8h-.8zM578.5 138.7h.8v.8h-.8zM579.3 139.7h.8v.8h-.8zM585.5 138.1h.8v.8h-.8zM580.6 141.1h.8v.8h-.8zM582.2 144.8h.8v.8h-.8zM589.5 141.6h.8v.8h-.8zM584.0 146.8h.8v.8h-.8zM586.2 148.5h.8v.8h-.8zM587.1 148.8h.8v.8h-.8zM588.4 150.6h.8v.8h-.8zM586.2 151.7h.8v.8h-.8zM592.5 147.7h.8v.8h-.8zM591.3 150.1h.8v.8h-.8zM588.5 152.6h.8v.8h-.8zM590.7 152.0h.8v.8h-.8zM589.3 153.8h.8v.8h-.8zM590.4 154.6h.8v.8h-.8zM590.7 154.9h.8v.8h-.8zM591.4 154.8h.8v.8h-.8zM596.3 155.8h.8v.8h-.8zM591.0 156.9h.8v.8h-.8zM593.8 158.4h.8v.8h-.8zM592.6 158.3h.8v.8h-.8zM594.2 158.5h.8v.8h-.8zM592.7 161.1h.8v.8h-.8zM591.2 160.9h.8v.8h-.8zM592.0 161.6h.8v.8h-.8zM592.6 161.6h.8v.8h-.8zM593.0 162.9h.8v.8h-.8zM594.7 160.9h.8v.8h-.8zM593.2 164.1h.8v.8h-.8zM598.9 162.3h.8v.8h-.8zM596.3 163.4h.8v.8h-.8zM595.1 167.0h.8v.8h-.8zM598.2 165.0h.8v.8h-.8zM598.5 164.1h.8v.8h-.8zM597.1 167.7h.8v.8h-.8zM596.2 170.8h.8v.8h-.8zM603.3 168.3h.8v.8h-.8zM596.3 171.8h.8v.8h-.8zM598.5 171.3h.8v.8h-.8zM600.1 170.4h.8v.8h-.8zM597.6 174.6h.8v.8h-.8zM599.9 174.6h.8v.8h-.8zM605.6 172.9h.8v.8h-.8zM599.5 176.2h.8v.8h-.8zM599.4 177.2h.8v.8h-.8zM600.1 178.6h.8v.8h-.8zM599.4 178.1h.8v.8h-.8zM602.2 178.6h.8v.8h-.8zM602.7 179.6h.8v.8h-.8zM600.9 180.7h.8v.8h-.8zM602.5 181.2h.8v.8h-.8zM603.4 182.0h.8v.8h-.8zM603.4 186.2h.8v.8h-.8zM605.0 184.2h.8v.8h-.8zM604.1 187.1h.8v.8h-.8zM605.4 189.0h.8v.8h-.8zM613.2 188.1h.8v.8h-.8zM607.5 194.3h.8v.8h-.8zM607.5 194.6h.8v.8h-.8zM608.4 195.8h.8v.8h-.8zM608.7 196.2h.8v.8h-.8zM611.1 197.6h.8v.8h-.8zM612.2 197.7h.8v.8h-.8zM611.0 199.4h.8v.8h-.8zM611.7 201.0h.8v.8h-.8zM616.1 199.6h.8v.8h-.8zM612.6 203.3h.8v.8h-.8zM613.8 202.3h.8v.8h-.8zM616.4 203.9h.8v.8h-.8zM615.9 204.1h.8v.8h-.8zM614.9 206.3h.8v.8h-.8zM615.2 206.3h.8v.8h-.8zM621.5 203.2h.8v.8h-.8zM615.7 208.1h.8v.8h-.8zM616.9 209.2h.8v.8h-.8zM619.9 210.6h.8v.8h-.8zM618.1 212.4h.8v.8h-.8zM619.6 212.9h.8v.8h-.8zM621.8 211.2h.8v.8h-.8zM618.9 212.6h.8v.8h-.8zM620.6 214.6h.8v.8h-.8zM622.1 214.1h.8v.8h-.8zM620.4 213.6h.8v.8h-.8zM620.2 215.7h.8v.8h-.8zM620.9 216.0h.8v.8h-.8zM627.2 214.5h.8v.8h-.8zM625.1 215.1h.8v.8h-.8zM623.2 218.6h.8v.8h-.8zM623.2 221.6h.8v.8h-.8zM631.1 221.7h.8v.8h-.8zM631.0 221.5h.8v.8h-.8zM626.0 224.5h.8v.8h-.8zM627.2 226.1h.8v.8h-.8zM631.9 225.3h.8v.8h-.8zM626.5 227.5h.8v.8h-.8zM624.8 227.3h.8v.8h-.8zM631.4 227.6h.8v.8h-.8zM624.9 230.3h.8v.8h-.8zM626.8 231.5h.8v.8h-.8zM628.3 233.3h.8v.8h-.8zM627.4 234.2h.8v.8h-.8zM625.9 237.1h.8v.8h-.8zM625.6 236.9h.8v.8h-.8zM626.5 237.9h.8v.8h-.8zM628.7 240.8h.8v.8h-.8zM625.3 241.7h.8v.8h-.8zM625.1 242.1h.8v.8h-.8zM633.1 242.4h.8v.8h-.8zM625.9 244.3h.8v.8h-.8zM626.6 244.0h.8v.8h-.8zM626.5 249.2h.8v.8h-.8zM625.8 249.9h.8v.8h-.8zM625.8 252.0h.8v.8h-.8zM626.4 251.0h.8v.8h-.8zM625.8 252.3h.8v.8h-.8zM624.1 252.0h.8v.8h-.8zM624.1 254.8h.8v.8h-.8zM623.5 253.5h.8v.8h-.8zM623.7 254.6h.8v.8h-.8zM624.0 256.5h.8v.8h-.8zM625.2 258.9h.8v.8h-.8zM622.8 258.2h.8v.8h-.8zM622.5 257.0h.8v.8h-.8zM622.0 259.8h.8v.8h-.8zM628.3 263.2h.8v.8h-.8zM623.9 262.1h.8v.8h-.8zM621.4 262.3h.8v.8h-.8zM625.2 263.5h.8v.8h-.8zM621.8 262.3h.8v.8h-.8zM624.0 267.5h.8v.8h-.8zM620.9 265.9h.8v.8h-.8zM620.1 266.8h.8v.8h-.8zM624.3 269.3h.8v.8h-.8zM622.1 270.7h.8v.8h-.8zM619.9 270.2h.8v.8h-.8zM619.7 270.2h.8v.8h-.8zM618.5 271.8h.8v.8h-.8zM619.2 272.7h.8v.8h-.8zM618.1 273.4h.8v.8h-.8zM617.1 274.6h.8v.8h-.8zM618.5 276.4h.8v.8h-.8zM617.1 277.4h.8v.8h-.8zM615.7 277.9h.8v.8h-.8zM616.7 277.5h.8v.8h-.8zM620.6 279.5h.8v.8h-.8zM618.5 279.5h.8v.8h-.8zM616.4 279.3h.8v.8h-.8zM617.1 279.2h.8v.8h-.8zM619.0 281.2h.8v.8h-.8zM622.2 284.0h.8v.8h-.8zM616.5 284.1h.8v.8h-.8zM615.9 283.4h.8v.8h-.8zM619.1 285.8h.8v.8h-.8zM622.4 288.2h.8v.8h-.8zM619.3 288.2h.8v.8h-.8zM617.9 288.6h.8v.8h-.8zM616.1 288.8h.8v.8h-.8zM617.7 289.1h.8v.8h-.8zM615.6 288.7h.8v.8h-.8zM615.9 289.3h.8v.8h-.8zM622.1 291.5h.8v.8h-.8zM615.6 290.4h.8v.8h-.8zM623.2 291.5h.8v.8h-.8zM616.1 293.0h.8v.8h-.8zM619.8 293.2h.8v.8h-.8zM618.0 295.3h.8v.8h-.8zM615.8 295.1h.8v.8h-.8zM615.7 295.9h.8v.8h-.8zM620.2 296.0h.8v.8h-.8zM616.2 297.4h.8v.8h-.8zM618.3 297.4h.8v.8h-.8zM615.7 298.3h.8v.8h-.8zM615.4 299.8h.8v.8h-.8zM614.6 298.7h.8v.8h-.8zM615.2 298.6h.8v.8h-.8zM622.3 302.4h.8v.8h-.8zM615.4 303.9h.8v.8h-.8zM614.7 303.7h.8v.8h-.8zM617.3 305.6h.8v.8h-.8zM614.2 307.1h.8v.8h-.8zM613.7 308.1h.8v.8h-.8zM615.5 309.9h.8v.8h-.8zM614.3 310.9h.8v.8h-.8zM614.2 311.5h.8v.8h-.8zM613.5 313.3h.8v.8h-.8zM614.1 315.2h.8v.8h-.8zM613.2 314.0h.8v.8h-.8zM615.2 316.1h.8v.8h-.8zM612.5 318.1h.8v.8h-.8zM611.9 320.1h.8v.8h-.8zM612.3 319.6h.8v.8h-.8zM616.1 319.3h.8v.8h-.8zM616.3 320.9h.8v.8h-.8zM618.1 321.7h.8v.8h-.8zM612.1 321.1h.8v.8h-.8zM615.9 323.5h.8v.8h-.8zM614.3 324.5h.8v.8h-.8zM613.2 326.8h.8v.8h-.8zM610.9 326.0h.8v.8h-.8zM610.3 328.4h.8v.8h-.8zM611.3 330.7h.8v.8h-.8zM610.7 328.8h.8v.8h-.8zM613.5 332.6h.8v.8h-.8zM609.6 332.0h.8v.8h-.8zM608.6 332.7h.8v.8h-.8zM608.8 331.9h.8v.8h-.8zM610.2 334.0h.8v.8h-.8zM612.3 334.7h.8v.8h-.8zM612.3 337.6h.8v.8h-.8zM610.2 338.1h.8v.8h-.8zM607.3 339.6h.8v.8h-.8zM608.0 340.1h.8v.8h-.8zM606.4 340.7h.8v.8h-.8zM605.7 341.6h.8v.8h-.8zM605.3 342.4h.8v.8h-.8zM607.3 343.7h.8v.8h-.8zM611.3 344.9h.8v.8h-.8zM605.0 343.9h.8v.8h-.8zM604.7 344.7h.8v.8h-.8zM604.3 345.9h.8v.8h-.8zM605.7 347.9h.8v.8h-.8zM605.4 348.2h.8v.8h-.8zM604.4 347.4h.8v.8h-.8zM609.5 351.8h.8v.8h-.8zM602.4 348.9h.8v.8h-.8zM603.6 352.1h.8v.8h-.8zM608.2 354.0h.8v.8h-.8zM604.5 354.4h.8v.8h-.8zM603.1 352.2h.8v.8h-.8zM604.3 354.8h.8v.8h-.8zM605.7 356.7h.8v.8h-.8zM601.1 353.7h.8v.8h-.8zM601.0 355.0h.8v.8h-.8zM602.2 356.0h.8v.8h-.8zM599.4 356.3h.8v.8h-.8zM599.7 356.5h.8v.8h-.8zM600.6 359.4h.8v.8h-.8zM600.4 358.5h.8v.8h-.8zM597.4 358.6h.8v.8h-.8zM603.2 364.1h.8v.8h-.8zM598.0 359.5h.8v.8h-.8zM599.3 363.8h.8v.8h-.8zM598.0 363.9h.8v.8h-.8zM595.9 363.0h.8v.8h-.8zM596.0 362.6h.8v.8h-.8zM594.7 366.3h.8v.8h-.8zM593.5 364.8h.8v.8h-.8zM593.5 366.2h.8v.8h-.8zM594.7 370.5h.8v.8h-.8zM598.1 371.8h.8v.8h-.8zM590.5 368.8h.8v.8h-.8zM591.2 370.2h.8v.8h-.8zM591.1 371.0h.8v.8h-.8zM593.5 373.4h.8v.8h-.8zM591.0 371.6h.8v.8h-.8zM589.2 371.2h.8v.8h-.8zM588.6 373.3h.8v.8h-.8zM594.6 376.3h.8v.8h-.8zM590.2 373.9h.8v.8h-.8zM588.4 373.0h.8v.8h-.8zM590.3 374.8h.8v.8h-.8zM589.4 375.2h.8v.8h-.8zM587.4 376.2h.8v.8h-.8zM586.9 377.5h.8v.8h-.8zM587.6 378.6h.8v.8h-.8zM584.1 377.6h.8v.8h-.8zM583.1 379.2h.8v.8h-.8zM582.5 378.8h.8v.8h-.8zM582.6 381.1h.8v.8h-.8zM582.0 379.2h.8v.8h-.8zM582.7 381.7h.8v.8h-.8zM579.9 383.5h.8v.8h-.8zM578.2 383.5h.8v.8h-.8zM579.4 384.4h.8v.8h-.8zM580.0 389.2h.8v.8h-.8zM575.6 384.5h.8v.8h-.8zM575.4 385.1h.8v.8h-.8zM575.1 384.5h.8v.8h-.8zM573.6 386.1h.8v.8h-.8zM573.7 384.3h.8v.8h-.8zM570.7 386.4h.8v.8h-.8zM571.6 385.0h.8v.8h-.8zM569.9 388.5h.8v.8h-.8zM570.3 385.8h.8v.8h-.8zM570.2 390.1h.8v.8h-.8zM566.7 383.9h.8v.8h-.8zM567.5 383.0h.8v.8h-.8zM566.4 384.5h.8v.8h-.8zM566.1 383.9h.8v.8h-.8zM567.3 382.3h.8v.8h-.8zM566.3 382.5h.8v.8h-.8zM566.5 380.7h.8v.8h-.8zM566.2 379.2h.8v.8h-.8zM562.6 377.7h.8v.8h-.8zM564.2 375.3h.8v.8h-.8zM560.3 375.8h.8v.8h-.8zM560.2 374.2h.8v.8h-.8zM561.4 373.3h.8v.8h-.8zM561.5 372.1h.8v.8h-.8zM561.7 372.0h.8v.8h-.8zM561.9 371.7h.8v.8h-.8zM560.3 371.2h.8v.8h-.8zM559.2 370.6h.8v.8h-.8zM558.5 368.2h.8v.8h-.8zM559.2 371.4h.8v.8h-.8zM559.6 370.0h.8v.8h-.8zM559.9 368.7h.8v.8h-.8zM556.9 368.0h.8v.8h-.8zM556.8 368.3h.8v.8h-.8zM556.7 367.8h.8v.8h-.8zM556.9 372.6h.8v.8h-.8zM554.9 369.3h.8v.8h-.8zM555.8 367.9h.8v.8h-.8zM554.8 371.1h.8v.8h-.8zM553.1 367.0h.8v.8h-.8zM550.3 368.0h.8v.8h-.8zM549.2 366.8h.8v.8h-.8zM551.5 364.5h.8v.8h-.8zM550.2 362.7h.8v.8h-.8zM550.0 363.6h.8v.8h-.8zM546.2 362.9h.8v.8h-.8zM548.7 361.6h.8v.8h-.8zM546.8 359.8h.8v.8h-.8zM547.5 360.2h.8v.8h-.8zM545.0 358.4h.8v.8h-.8zM545.7 360.5h.8v.8h-.8zM546.9 366.3h.8v.8h-.8zM546.2 362.2h.8v.8h-.8zM540.9 361.6h.8v.8h-.8zM541.5 361.9h.8v.8h-.8zM540.5 363.7h.8v.8h-.8zM543.3 365.4h.8v.8h-.8zM541.6 364.7h.8v.8h-.8zM538.5 362.9h.8v.8h-.8zM538.9 364.2h.8v.8h-.8zM539.3 365.1h.8v.8h-.8zM538.2 365.2h.8v.8h-.8zM538.7 366.2h.8v.8h-.8zM537.7 363.7h.8v.8h-.8zM538.5 366.2h.8v.8h-.8zM538.7 366.4h.8v.8h-.8zM537.2 367.6h.8v.8h-.8zM539.3 368.6h.8v.8h-.8zM540.4 369.0h.8v.8h-.8zM537.2 369.4h.8v.8h-.8zM536.9 371.1h.8v.8h-.8zM535.6 373.1h.8v.8h-.8zM541.2 373.6h.8v.8h-.8zM540.3 377.5h.8v.8h-.8zM534.0 376.7h.8v.8h-.8zM536.4 377.6h.8v.8h-.8zM531.8 378.3h.8v.8h-.8zM531.9 378.6h.8v.8h-.8zM533.0 376.9h.8v.8h-.8zM531.1 383.6h.8v.8h-.8zM530.8 381.7h.8v.8h-.8zM528.9 381.5h.8v.8h-.8zM527.9 378.5h.8v.8h-.8zM529.5 380.0h.8v.8h-.8zM529.3 381.3h.8v.8h-.8zM526.2 380.0h.8v.8h-.8zM527.1 380.7h.8v.8h-.8zM527.9 383.2h.8v.8h-.8zM525.6 383.9h.8v.8h-.8zM526.2 386.4h.8v.8h-.8zM525.5 386.4h.8v.8h-.8zM528.5 387.0h.8v.8h-.8zM524.8 387.3h.8v.8h-.8zM527.8 390.7h.8v.8h-.8zM526.3 391.7h.8v.8h-.8zM526.7 392.3h.8v.8h-.8zM523.8 392.4h.8v.8h-.8zM523.1 394.3h.8v.8h-.8zM523.9 394.6h.8v.8h-.8zM522.3 395.0h.8v.8h-.8zM524.8 397.2h.8v.8h-.8zM522.9 396.0h.8v.8h-.8zM522.3 402.1h.8v.8h-.8zM521.2 398.2h.8v.8h-.8zM521.1 397.0h.8v.8h-.8zM519.1 397.4h.8v.8h-.8zM519.7 397.9h.8v.8h-.8zM518.3 399.1h.8v.8h-.8zM517.6 398.0h.8v.8h-.8zM517.8 398.0h.8v.8h-.8zM516.6 399.8h.8v.8h-.8zM517.7 399.4h.8v.8h-.8zM516.7 399.1h.8v.8h-.8zM517.1 398.9h.8v.8h-.8zM515.8 402.4h.8v.8h-.8zM515.3 401.5h.8v.8h-.8zM522.7 401.2h.8v.8h-.8zM516.6 402.8h.8v.8h-.8zM519.7 401.5h.8v.8h-.8zM516.9 404.3h.8v.8h-.8zM518.9 405.1h.8v.8h-.8zM520.8 405.4h.8v.8h-.8zM520.2 406.6h.8v.8h-.8zM520.3 407.2h.8v.8h-.8zM519.8 408.3h.8v.8h-.8zM521.8 406.9h.8v.8h-.8zM522.8 408.9h.8v.8h-.8zM523.2 408.3h.8v.8h-.8zM524.9 407.7h.8v.8h-.8zM525.2 407.5h.8v.8h-.8zM525.4 410.5h.8v.8h-.8zM524.7 409.3h.8v.8h-.8zM528.6 408.4h.8v.8h-.8zM527.9 413.4h.8v.8h-.8zM531.6 412.5h.8v.8h-.8zM531.5 413.7h.8v.8h-.8zM530.8 414.5h.8v.8h-.8zM530.1 412.9h.8v.8h-.8zM524.1 411.6h.8v.8h-.8zM530.5 414.7h.8v.8h-.8zM529.7 411.0h.8v.8h-.8zM531.0 409.6h.8v.8h-.8zM534.2 409.3h.8v.8h-.8zM534.1 409.5h.8v.8h-.8zM537.1 403.2h.8v.8h-.8zM537.5 410.0h.8v.8h-.8zM542.7 410.7h.8v.8h-.8zM541.0 414.3h.8v.8h-.8zM545.5 410.2h.8v.8h-.8zM541.6 413.8h.8v.8h-.8zM547.2 411.1h.8v.8h-.8zM542.1 414.3h.8v.8h-.8zM543.4 416.6h.8v.8h-.8zM542.9 416.2h.8v.8h-.8zM543.6 417.6h.8v.8h-.8zM544.7 418.4h.8v.8h-.8zM546.6 418.9h.8v.8h-.8zM545.6 419.0h.8v.8h-.8zM546.7 419.2h.8v.8h-.8zM545.7 421.5h.8v.8h-.8zM547.8 423.4h.8v.8h-.8zM545.1 421.5h.8v.8h-.8zM544.0 422.4h.8v.8h-.8zM543.2 423.7h.8v.8h-.8zM544.9 426.3h.8v.8h-.8zM542.1 429.4h.8v.8h-.8zM542.4 428.6h.8v.8h-.8zM544.7 429.8h.8v.8h-.8zM546.2 428.1h.8v.8h-.8zM544.2 429.8h.8v.8h-.8zM546.2 428.6h.8v.8h-.8zM545.3 428.6h.8v.8h-.8zM542.6 429.5h.8v.8h-.8zM544.1 431.8h.8v.8h-.8zM544.6 432.8h.8v.8h-.8zM547.8 433.5h.8v.8h-.8zM547.4 434.6h.8v.8h-.8zM546.2 438.0h.8v.8h-.8zM547.3 444.8h.8v.8h-.8zM546.3 442.2h.8v.8h-.8zM545.1 440.1h.8v.8h-.8zM541.8 441.6h.8v.8h-.8zM542.3 442.9h.8v.8h-.8zM540.9 440.3h.8v.8h-.8zM540.9 441.1h.8v.8h-.8zM540.3 441.3h.8v.8h-.8zM540.5 444.7h.8v.8h-.8zM537.8 441.7h.8v.8h-.8zM535.0 444.5h.8v.8h-.8zM533.9 441.4h.8v.8h-.8zM531.5 441.4h.8v.8h-.8zM532.3 445.4h.8v.8h-.8zM528.9 448.9h.8v.8h-.8zM529.7 441.0h.8v.8h-.8zM533.4 440.6h.8v.8h-.8zM530.9 444.5h.8v.8h-.8zM532.6 443.7h.8v.8h-.8zM537.8 443.8h.8v.8h-.8zM537.0 441.5h.8v.8h-.8zM534.7 443.8h.8v.8h-.8zM532.4 447.8h.8v.8h-.8zM532.7 446.8h.8v.8h-.8zM532.1 447.6h.8v.8h-.8zM532.7 448.6h.8v.8h-.8zM538.4 443.0h.8v.8h-.8zM533.7 449.4h.8v.8h-.8zM534.5 449.3h.8v.8h-.8zM535.2 451.2h.8v.8h-.8zM537.7 449.6h.8v.8h-.8zM537.0 450.3h.8v.8h-.8zM538.2 451.2h.8v.8h-.8zM538.1 454.2h.8v.8h-.8zM537.3 454.8h.8v.8h-.8zM540.5 456.6h.8v.8h-.8zM538.1 457.0h.8v.8h-.8zM541.4 460.6h.8v.8h-.8zM539.9 461.6h.8v.8h-.8zM539.3 461.6h.8v.8h-.8zM536.2 462.1h.8v.8h-.8zM538.3 465.5h.8v.8h-.8zM538.1 467.0h.8v.8h-.8zM539.0 466.1h.8v.8h-.8zM538.2 465.1h.8v.8h-.8zM542.3 462.8h.8v.8h-.8zM538.4 465.2h.8v.8h-.8zM539.1 467.8h.8v.8h-.8zM536.2 468.1h.8v.8h-.8zM538.6 469.1h.8v.8h-.8zM538.0 471.1h.8v.8h-.8zM537.9 472.8h.8v.8h-.8zM538.8 472.0h.8v.8h-.8zM538.4 472.3h.8v.8h-.8zM539.6 473.0h.8v.8h-.8zM540.6 475.3h.8v.8h-.8zM539.7 474.7h.8v.8h-.8zM542.7 475.6h.8v.8h-.8zM541.0 478.7h.8v.8h-.8zM540.6 478.4h.8v.8h-.8zM541.8 480.7h.8v.8h-.8zM541.2 480.0h.8v.8h-.8zM542.7 483.0h.8v.8h-.8zM544.6 485.7h.8v.8h-.8zM545.2 487.2h.8v.8h-.8zM545.2 486.2h.8v.8h-.8zM545.6 487.8h.8v.8h-.8zM545.4 488.5h.8v.8h-.8zM546.6 487.9h.8v.8h-.8zM547.1 488.7h.8v.8h-.8zM545.8 490.5h.8v.8h-.8zM545.2 489.4h.8v.8h-.8zM548.8 492.2h.8v.8h-.8zM544.9 493.7h.8v.8h-.8zM545.7 494.0h.8v.8h-.8zM548.1 493.2h.8v.8h-.8zM547.1 494.0h.8v.8h-.8zM544.8 493.9h.8v.8h-.8zM545.9 496.2h.8v.8h-.8zM550.5 496.3h.8v.8h-.8zM548.7 494.9h.8v.8h-.8zM546.4 497.3h.8v.8h-.8zM545.4 498.3h.8v.8h-.8zM546.8 498.9h.8v.8h-.8zM550.2 495.9h.8v.8h-.8zM547.0 500.8h.8v.8h-.8zM547.5 501.8h.8v.8h-.8zM549.3 501.9h.8v.8h-.8zM548.4 503.5h.8v.8h-.8zM552.8 504.9h.8v.8h-.8zM549.2 505.4h.8v.8h-.8zM551.6 505.6h.8v.8h-.8zM557.2 504.7h.8v.8h-.8zM551.8 508.0h.8v.8h-.8zM550.3 508.5h.8v.8h-.8zM551.3 510.8h.8v.8h-.8zM553.4 509.1h.8v.8h-.8zM553.1 510.6h.8v.8h-.8zM551.8 512.2h.8v.8h-.8zM551.3 513.2h.8v.8h-.8zM550.4 515.0h.8v.8h-.8zM550.3 516.2h.8v.8h-.8zM556.1 515.6h.8v.8h-.8zM551.8 517.3h.8v.8h-.8zM552.0 517.4h.8v.8h-.8zM555.0 520.7h.8v.8h-.8zM552.4 523.1h.8v.8h-.8zM551.9 524.4h.8v.8h-.8zM552.2 525.8h.8v.8h-.8zM557.4 524.2h.8v.8h-.8zM555.2 526.4h.8v.8h-.8zM555.2 526.0h.8v.8h-.8zM554.7 525.8h.8v.8h-.8zM556.1 527.6h.8v.8h-.8zM557.6 528.1h.8v.8h-.8zM553.3 529.0h.8v.8h-.8zM556.9 527.2h.8v.8h-.8zM555.5 531.7h.8v.8h-.8zM556.7 530.3h.8v.8h-.8zM558.8 530.8h.8v.8h-.8zM557.0 532.3h.8v.8h-.8zM558.2 532.8h.8v.8h-.8zM558.6 536.2h.8v.8h-.8zM564.4 533.3h.8v.8h-.8zM560.1 539.9h.8v.8h-.8zM565.7 539.4h.8v.8h-.8zM561.3 540.2h.8v.8h-.8zM563.3 541.2h.8v.8h-.8zM558.8 542.2h.8v.8h-.8zM559.8 543.1h.8v.8h-.8zM560.1 544.6h.8v.8h-.8zM559.9 545.2h.8v.8h-.8zM560.5 546.0h.8v.8h-.8zM561.2 546.8h.8v.8h-.8zM558.2 546.3h.8v.8h-.8zM557.5 548.4h.8v.8h-.8zM558.9 548.0h.8v.8h-.8zM558.6 549.1h.8v.8h-.8zM562.9 548.9h.8v.8h-.8zM561.6 551.9h.8v.8h-.8zM560.1 551.6h.8v.8h-.8zM561.4 554.2h.8v.8h-.8zM559.4 553.3h.8v.8h-.8zM559.9 557.9h.8v.8h-.8zM559.5 557.6h.8v.8h-.8zM558.4 559.0h.8v.8h-.8zM561.4 559.6h.8v.8h-.8zM557.7 561.9h.8v.8h-.8zM559.1 561.9h.8v.8h-.8zM558.7 561.3h.8v.8h-.8zM558.8 562.6h.8v.8h-.8zM560.1 562.8h.8v.8h-.8zM566.2 563.1h.8v.8h-.8zM562.9 564.5h.8v.8h-.8zM559.4 566.7h.8v.8h-.8zM564.9 566.8h.8v.8h-.8zM561.6 570.6h.8v.8h-.8zM563.5 570.8h.8v.8h-.8zM564.2 572.1h.8v.8h-.8zM565.8 572.1h.8v.8h-.8zM564.4 574.7h.8v.8h-.8zM566.4 574.8h.8v.8h-.8zM566.1 575.8h.8v.8h-.8zM564.6 577.2h.8v.8h-.8zM565.5 578.3h.8v.8h-.8zM566.6 576.6h.8v.8h-.8zM564.8 577.7h.8v.8h-.8zM566.0 578.9h.8v.8h-.8zM568.4 581.5h.8v.8h-.8zM566.2 581.3h.8v.8h-.8zM565.6 582.1h.8v.8h-.8zM569.7 581.8h.8v.8h-.8zM572.5 583.8h.8v.8h-.8zM565.4 583.8h.8v.8h-.8zM566.2 582.7h.8v.8h-.8zM565.3 584.9h.8v.8h-.8zM567.6 587.7h.8v.8h-.8zM567.2 589.4h.8v.8h-.8zM567.6 588.9h.8v.8h-.8zM566.4 589.0h.8v.8h-.8zM564.4 591.2h.8v.8h-.8zM564.0 591.0h.8v.8h-.8zM567.0 594.6h.8v.8h-.8zM567.7 594.7h.8v.8h-.8zM565.3 597.2h.8v.8h-.8zM563.5 598.2h.8v.8h-.8zM562.9 596.6h.8v.8h-.8zM561.7 597.7h.8v.8h-.8zM565.5 596.2h.8v.8h-.8zM562.7 598.8h.8v.8h-.8zM560.9 601.0h.8v.8h-.8zM561.1 600.7h.8v.8h-.8zM562.6 599.1h.8v.8h-.8zM563.2 598.9h.8v.8h-.8zM561.6 600.1h.8v.8h-.8zM564.3 602.5h.8v.8h-.8zM564.7 598.9h.8v.8h-.8zM564.8 601.8h.8v.8h-.8zM569.1 601.4h.8v.8h-.8zM567.2 603.5h.8v.8h-.8zM567.9 604.1h.8v.8h-.8zM568.8 605.6h.8v.8h-.8zM570.3 606.4h.8v.8h-.8zM571.5 602.8h.8v.8h-.8zM574.7 602.3h.8v.8h-.8zM572.1 606.9h.8v.8h-.8zM574.7 605.7h.8v.8h-.8zM574.2 606.6h.8v.8h-.8zM575.2 607.0h.8v.8h-.8zM578.9 607.4h.8v.8h-.8zM576.5 608.9h.8v.8h-.8zM582.0 604.4h.8v.8h-.8zM581.2 607.8h.8v.8h-.8zM580.0 608.1h.8v.8h-.8zM578.7 611.8h.8v.8h-.8zM578.8 611.2h.8v.8h-.8zM580.2 610.4h.8v.8h-.8zM583.1 609.7h.8v.8h-.8zM579.5 613.2h.8v.8h-.8zM584.1 612.3h.8v.8h-.8zM581.1 614.8h.8v.8h-.8zM587.4 609.9h.8v.8h-.8zM584.7 613.1h.8v.8h-.8zM584.0 617.3h.8v.8h-.8zM586.3 617.6h.8v.8h-.8zM587.2 618.3h.8v.8h-.8zM588.7 616.1h.8v.8h-.8zM589.7 618.3h.8v.8h-.8zM588.8 619.0h.8v.8h-.8zM590.2 621.3h.8v.8h-.8zM589.8 620.5h.8v.8h-.8zM591.0 620.5h.8v.8h-.8zM592.0 624.0h.8v.8h-.8zM590.5 623.9h.8v.8h-.8zM592.9 623.8h.8v.8h-.8zM591.9 626.2h.8v.8h-.8zM593.8 626.2h.8v.8h-.8zM594.4 625.5h.8v.8h-.8zM593.7 627.2h.8v.8h-.8zM593.5 628.5h.8v.8h-.8zM595.0 627.2h.8v.8h-.8zM594.3 628.2h.8v.8h-.8zM601.0 626.3h.8v.8h-.8zM597.7 628.6h.8v.8h-.8zM594.5 630.0h.8v.8h-.8zM599.0 630.3h.8v.8h-.8zM597.4 633.9h.8v.8h-.8zM604.9 635.6h.8v.8h-.8zM598.2 637.9h.8v.8h-.8zM597.8 637.5h.8v.8h-.8zM605.5 636.1h.8v.8h-.8zM598.4 639.4h.8v.8h-.8zM600.7 639.0h.8v.8h-.8zM600.1 638.5h.8v.8h-.8zM599.8 640.5h.8v.8h-.8zM600.6 640.8h.8v.8h-.8zM599.9 642.2h.8v.8h-.8zM601.8 643.1h.8v.8h-.8zM602.6 642.3h.8v.8h-.8zM602.9 642.5h.8v.8h-.8zM604.3 641.6h.8v.8h-.8zM608.8 639.1h.8v.8h-.8zM605.8 642.1h.8v.8h-.8zM608.8 639.9h.8v.8h-.8zM606.8 647.2h.8v.8h-.8zM607.6 647.7h.8v.8h-.8zM609.4 647.7h.8v.8h-.8zM615.1 643.9h.8v.8h-.8zM610.1 649.2h.8v.8h-.8zM611.5 650.2h.8v.8h-.8zM614.3 643.4h.8v.8h-.8zM615.7 643.7h.8v.8h-.8zM614.9 648.0h.8v.8h-.8zM618.6 644.7h.8v.8h-.8zM619.8 648.7h.8v.8h-.8zM621.0 652.3h.8v.8h-.8zM621.9 652.7h.8v.8h-.8zM623.4 650.8h.8v.8h-.8zM622.1 653.0h.8v.8h-.8zM625.6 654.7h.8v.8h-.8zM626.9 651.2h.8v.8h-.8zM629.3 647.7h.8v.8h-.8zM629.5 652.4h.8v.8h-.8zM630.6 648.4h.8v.8h-.8zM629.1 653.2h.8v.8h-.8zM628.3 654.9h.8v.8h-.8zM630.8 657.7h.8v.8h-.8zM632.5 657.6h.8v.8h-.8zM633.5 657.9h.8v.8h-.8zM635.1 656.7h.8v.8h-.8zM635.6 658.6h.8v.8h-.8zM637.9 662.3h.8v.8h-.8zM640.5 659.0h.8v.8h-.8zM641.0 660.8h.8v.8h-.8zM639.1 661.9h.8v.8h-.8zM640.5 662.4h.8v.8h-.8zM640.9 663.0h.8v.8h-.8zM641.9 664.2h.8v.8h-.8zM643.4 662.6h.8v.8h-.8zM644.0 664.8h.8v.8h-.8zM642.5 666.0h.8v.8h-.8zM643.4 665.9h.8v.8h-.8zM645.2 665.8h.8v.8h-.8zM644.4 666.1h.8v.8h-.8zM648.9 663.0h.8v.8h-.8zM644.4 667.3h.8v.8h-.8zM647.7 666.9h.8v.8h-.8zM648.1 668.3h.8v.8h-.8zM648.5 665.9h.8v.8h-.8zM649.0 667.9h.8v.8h-.8zM649.3 669.6h.8v.8h-.8zM649.6 668.8h.8v.8h-.8z" fill="#1c1c1c" fill-opacity="0.85"/><path d="M372.2 64.4h.7v.7h-.7zM371.6 69.3h.7v.7h-.7zM374.3 71.5h.7v.7h-.7zM374.3 74.3h.7v.7h-.7zM375.9 74.2h.7v.7h-.7zM376.8 76.9h.7v.7h-.7zM383.7 73.1h.7v.7h-.7zM381.1 77.7h.7v.7h-.7zM384.3 76.6h.7v.7h-.7zM381.0 79.7h.7v.7h-.7zM382.9 79.2h.7v.7h-.7zM382.4 80.7h.7v.7h-.7zM382.9 81.3h.7v.7h-.7zM382.8 81.3h.7v.7h-.7zM384.3 81.6h.7v.7h-.7zM388.4 78.4h.7v.7h-.7zM386.0 81.1h.7v.7h-.7zM386.2 84.1h.7v.7h-.7zM385.6 84.3h.7v.7h-.7zM387.2 86.2h.7v.7h-.7zM388.7 84.7h.7v.7h-.7zM390.5 87.2h.7v.7h-.7zM391.8 89.2h.7v.7h-.7zM391.8 89.6h.7v.7h-.7zM392.6 88.9h.7v.7h-.7zM393.4 90.1h.7v.7h-.7zM394.6 88.3h.7v.7h-.7zM395.7 88.7h.7v.7h-.7zM398.1 88.1h.7v.7h-.7zM396.9 90.8h.7v.7h-.7zM396.5 89.8h.7v.7h-.7zM400.8 88.4h.7v.7h-.7zM397.9 91.3h.7v.7h-.7zM397.6 92.1h.7v.7h-.7zM398.5 93.2h.7v.7h-.7zM399.3 93.6h.7v.7h-.7zM398.4 95.0h.7v.7h-.7zM401.9 94.9h.7v.7h-.7zM401.6 95.0h.7v.7h-.7zM401.4 94.2h.7v.7h-.7zM403.9 95.5h.7v.7h-.7zM404.2 94.9h.7v.7h-.7zM401.7 98.2h.7v.7h-.7zM404.0 97.6h.7v.7h-.7zM402.5 97.3h.7v.7h-.7zM404.0 100.1h.7v.7h-.7zM406.3 98.9h.7v.7h-.7zM407.1 99.5h.7v.7h-.7zM405.1 101.8h.7v.7h-.7zM406.8 99.8h.7v.7h-.7zM409.4 101.2h.7v.7h-.7zM406.4 102.1h.7v.7h-.7zM409.1 100.1h.7v.7h-.7zM407.8 103.6h.7v.7h-.7zM409.4 102.6h.7v.7h-.7zM410.3 106.4h.7v.7h-.7zM412.8 104.5h.7v.7h-.7zM411.4 107.4h.7v.7h-.7zM412.3 108.9h.7v.7h-.7zM413.7 107.6h.7v.7h-.7zM415.1 106.7h.7v.7h-.7zM415.3 109.1h.7v.7h-.7zM419.2 106.0h.7v.7h-.7zM415.6 111.9h.7v.7h-.7zM416.8 111.6h.7v.7h-.7zM417.9 111.3h.7v.7h-.7zM421.6 111.3h.7v.7h-.7zM420.1 114.3h.7v.7h-.7zM421.5 114.5h.7v.7h-.7zM424.9 110.2h.7v.7h-.7zM422.5 114.4h.7v.7h-.7zM424.2 115.3h.7v.7h-.7zM429.9 111.0h.7v.7h-.7zM426.6 117.7h.7v.7h-.7zM428.8 119.1h.7v.7h-.7zM429.5 119.4h.7v.7h-.7zM432.2 118.9h.7v.7h-.7zM430.4 119.8h.7v.7h-.7zM433.0 118.4h.7v.7h-.7zM434.9 116.4h.7v.7h-.7zM437.1 121.9h.7v.7h-.7zM437.5 123.0h.7v.7h-.7zM440.4 125.0h.7v.7h-.7zM442.7 124.9h.7v.7h-.7zM444.0 126.7h.7v.7h-.7zM444.7 123.1h.7v.7h-.7zM443.3 124.3h.7v.7h-.7zM445.9 125.5h.7v.7h-.7zM445.1 125.4h.7v.7h-.7zM446.5 127.4h.7v.7h-.7zM448.4 126.5h.7v.7h-.7zM448.6 123.2h.7v.7h-.7zM449.0 127.7h.7v.7h-.7zM449.3 127.9h.7v.7h-.7zM452.4 126.2h.7v.7h-.7zM452.3 125.2h.7v.7h-.7zM452.3 124.8h.7v.7h-.7zM452.9 123.6h.7v.7h-.7zM454.2 127.0h.7v.7h-.7zM454.3 125.0h.7v.7h-.7zM453.3 127.2h.7v.7h-.7zM454.5 126.6h.7v.7h-.7zM459.5 126.1h.7v.7h-.7zM457.6 127.7h.7v.7h-.7zM458.9 129.9h.7v.7h-.7zM459.4 129.0h.7v.7h-.7zM460.0 130.3h.7v.7h-.7zM462.5 127.1h.7v.7h-.7zM460.2 131.3h.7v.7h-.7zM463.0 130.5h.7v.7h-.7zM462.0 131.6h.7v.7h-.7zM465.3 127.1h.7v.7h-.7zM466.6 130.1h.7v.7h-.7zM468.7 123.9h.7v.7h-.7zM467.7 131.4h.7v.7h-.7zM470.3 124.2h.7v.7h-.7zM469.7 126.9h.7v.7h-.7zM473.1 129.9h.7v.7h-.7zM473.7 130.0h.7v.7h-.7zM475.6 124.3h.7v.7h-.7zM478.0 128.7h.7v.7h-.7zM478.6 128.5h.7v.7h-.7zM478.1 129.0h.7v.7h-.7zM481.0 128.8h.7v.7h-.7zM481.1 129.0h.7v.7h-.7zM483.9 129.6h.7v.7h-.7zM483.4 127.3h.7v.7h-.7zM485.7 127.2h.7v.7h-.7zM485.0 124.0h.7v.7h-.7zM485.9 129.5h.7v.7h-.7zM485.7 129.3h.7v.7h-.7zM484.7 127.6h.7v.7h-.7zM486.9 127.4h.7v.7h-.7zM487.2 128.4h.7v.7h-.7zM488.5 126.4h.7v.7h-.7zM487.1 125.4h.7v.7h-.7zM487.6 122.8h.7v.7h-.7zM492.1 120.7h.7v.7h-.7zM492.0 122.4h.7v.7h-.7zM495.0 121.8h.7v.7h-.7zM495.8 120.5h.7v.7h-.7zM498.9 118.2h.7v.7h-.7zM499.1 121.5h.7v.7h-.7zM500.6 119.9h.7v.7h-.7zM502.0 122.1h.7v.7h-.7zM504.7 118.5h.7v.7h-.7zM504.2 123.0h.7v.7h-.7zM505.3 119.9h.7v.7h-.7zM506.2 123.3h.7v.7h-.7zM507.9 118.8h.7v.7h-.7zM507.0 123.0h.7v.7h-.7zM508.5 123.3h.7v.7h-.7zM508.3 120.4h.7v.7h-.7zM511.2 123.2h.7v.7h-.7zM511.0 124.8h.7v.7h-.7zM513.0 125.3h.7v.7h-.7zM512.3 124.0h.7v.7h-.7zM514.6 125.8h.7v.7h-.7zM515.5 124.9h.7v.7h-.7zM518.5 124.0h.7v.7h-.7zM519.1 122.7h.7v.7h-.7zM518.6 126.6h.7v.7h-.7zM517.7 127.1h.7v.7h-.7zM521.7 126.2h.7v.7h-.7zM519.7 123.5h.7v.7h-.7zM524.3 120.5h.7v.7h-.7zM525.4 121.6h.7v.7h-.7zM525.7 120.7h.7v.7h-.7zM521.7 115.5h.7v.7h-.7zM524.6 119.0h.7v.7h-.7zM527.5 118.8h.7v.7h-.7zM527.0 118.8h.7v.7h-.7zM527.0 117.7h.7v.7h-.7zM529.0 118.0h.7v.7h-.7zM524.5 113.3h.7v.7h-.7zM529.4 117.1h.7v.7h-.7zM530.4 118.4h.7v.7h-.7zM530.6 115.6h.7v.7h-.7zM532.3 114.9h.7v.7h-.7zM534.1 115.2h.7v.7h-.7zM535.0 114.8h.7v.7h-.7zM534.7 112.8h.7v.7h-.7zM532.8 110.5h.7v.7h-.7zM538.3 112.5h.7v.7h-.7zM534.7 105.4h.7v.7h-.7zM537.8 109.6h.7v.7h-.7zM542.9 109.8h.7v.7h-.7zM543.4 109.4h.7v.7h-.7zM544.6 109.1h.7v.7h-.7zM549.5 108.7h.7v.7h-.7zM549.6 110.6h.7v.7h-.7zM550.7 109.1h.7v.7h-.7zM550.7 112.9h.7v.7h-.7zM550.8 111.8h.7v.7h-.7zM553.4 111.0h.7v.7h-.7zM554.2 114.7h.7v.7h-.7zM556.0 115.5h.7v.7h-.7zM555.8 115.0h.7v.7h-.7zM559.5 114.4h.7v.7h-.7zM558.5 117.4h.7v.7h-.7zM559.0 118.4h.7v.7h-.7zM559.4 118.3h.7v.7h-.7zM559.9 119.0h.7v.7h-.7zM560.9 118.8h.7v.7h-.7zM562.1 120.0h.7v.7h-.7zM562.6 120.1h.7v.7h-.7zM562.1 121.4h.7v.7h-.7zM562.7 122.4h.7v.7h-.7zM564.0 120.1h.7v.7h-.7zM569.3 122.4h.7v.7h-.7zM566.6 124.4h.7v.7h-.7zM568.0 122.4h.7v.7h-.7zM567.4 126.2h.7v.7h-.7zM568.9 125.8h.7v.7h-.7zM571.5 126.0h.7v.7h-.7zM569.1 127.8h.7v.7h-.7zM570.8 129.7h.7v.7h-.7zM572.1 132.0h.7v.7h-.7zM573.6 129.9h.7v.7h-.7zM577.2 128.8h.7v.7h-.7zM572.4 131.5h.7v.7h-.7zM577.3 133.4h.7v.7h-.7zM576.1 134.3h.7v.7h-.7zM576.2 136.5h.7v.7h-.7zM581.1 135.3h.7v.7h-.7zM583.9 135.7h.7v.7h-.7zM580.3 137.7h.7v.7h-.7zM579.8 140.7h.7v.7h-.7zM579.1 140.5h.7v.7h-.7zM581.2 139.8h.7v.7h-.7zM583.3 139.8h.7v.7h-.7zM580.8 142.1h.7v.7h-.7zM582.2 143.5h.7v.7h-.7zM582.2 142.5h.7v.7h-.7zM582.7 141.6h.7v.7h-.7zM588.5 140.2h.7v.7h-.7zM585.7 142.8h.7v.7h-.7zM586.5 143.8h.7v.7h-.7zM586.4 143.8h.7v.7h-.7zM589.1 141.4h.7v.7h-.7zM588.4 144.1h.7v.7h-.7zM586.9 145.4h.7v.7h-.7zM584.7 148.6h.7v.7h-.7zM586.6 147.9h.7v.7h-.7zM586.3 149.9h.7v.7h-.7zM585.9 150.9h.7v.7h-.7zM593.5 148.7h.7v.7h-.7zM594.0 153.3h.7v.7h-.7zM590.1 154.4h.7v.7h-.7zM595.6 152.8h.7v.7h-.7zM590.5 156.1h.7v.7h-.7zM591.5 157.0h.7v.7h-.7zM591.1 157.5h.7v.7h-.7zM592.3 161.5h.7v.7h-.7zM596.7 160.2h.7v.7h-.7zM593.8 163.6h.7v.7h-.7zM592.9 163.7h.7v.7h-.7zM592.7 164.7h.7v.7h-.7zM595.0 165.2h.7v.7h-.7zM600.3 162.3h.7v.7h-.7zM595.2 167.2h.7v.7h-.7zM595.6 168.0h.7v.7h-.7zM596.3 167.5h.7v.7h-.7zM598.7 167.0h.7v.7h-.7zM599.0 168.3h.7v.7h-.7zM598.0 169.0h.7v.7h-.7zM596.1 171.5h.7v.7h-.7zM597.9 172.3h.7v.7h-.7zM597.4 172.1h.7v.7h-.7zM600.5 172.2h.7v.7h-.7zM598.2 173.0h.7v.7h-.7zM598.9 175.9h.7v.7h-.7zM600.2 176.7h.7v.7h-.7zM601.4 178.0h.7v.7h-.7zM606.1 176.0h.7v.7h-.7zM600.5 179.6h.7v.7h-.7zM602.6 181.4h.7v.7h-.7zM602.0 183.4h.7v.7h-.7zM605.1 182.7h.7v.7h-.7zM602.2 183.8h.7v.7h-.7zM602.6 184.7h.7v.7h-.7zM604.0 185.5h.7v.7h-.7zM605.1 186.6h.7v.7h-.7zM604.7 185.9h.7v.7h-.7zM605.1 186.3h.7v.7h-.7zM605.2 188.5h.7v.7h-.7zM605.1 189.0h.7v.7h-.7zM608.1 187.3h.7v.7h-.7zM605.0 189.4h.7v.7h-.7zM605.1 189.6h.7v.7h-.7zM607.9 189.4h.7v.7h-.7zM605.9 190.5h.7v.7h-.7zM607.9 191.5h.7v.7h-.7zM610.8 190.9h.7v.7h-.7zM609.5 193.4h.7v.7h-.7zM608.4 195.9h.7v.7h-.7zM609.6 196.3h.7v.7h-.7zM611.1 196.8h.7v.7h-.7zM608.7 196.5h.7v.7h-.7zM612.1 198.0h.7v.7h-.7zM614.9 196.2h.7v.7h-.7zM616.3 196.6h.7v.7h-.7zM612.0 200.1h.7v.7h-.7zM615.4 200.1h.7v.7h-.7zM615.5 201.8h.7v.7h-.7zM613.0 202.5h.7v.7h-.7zM618.2 201.8h.7v.7h-.7zM613.2 203.9h.7v.7h-.7zM613.7 204.4h.7v.7h-.7zM615.1 205.5h.7v.7h-.7zM616.6 206.4h.7v.7h-.7zM618.0 207.3h.7v.7h-.7zM620.9 205.0h.7v.7h-.7zM618.9 206.1h.7v.7h-.7zM618.9 209.1h.7v.7h-.7zM617.6 211.1h.7v.7h-.7zM621.0 211.3h.7v.7h-.7zM621.3 215.8h.7v.7h-.7zM620.3 215.9h.7v.7h-.7zM625.9 216.2h.7v.7h-.7zM626.6 214.8h.7v.7h-.7zM622.7 218.4h.7v.7h-.7zM622.1 218.5h.7v.7h-.7zM621.9 219.3h.7v.7h-.7zM623.0 220.7h.7v.7h-.7zM622.9 221.3h.7v.7h-.7zM626.8 219.3h.7v.7h-.7zM623.0 220.9h.7v.7h-.7zM623.5 222.7h.7v.7h-.7zM625.3 220.9h.7v.7h-.7zM624.9 223.6h.7v.7h-.7zM625.1 225.0h.7v.7h-.7zM624.8 224.7h.7v.7h-.7zM629.9 228.3h.7v.7h-.7zM626.8 231.0h.7v.7h-.7zM627.4 232.6h.7v.7h-.7zM625.6 233.1h.7v.7h-.7zM627.9 233.7h.7v.7h-.7zM625.6 234.1h.7v.7h-.7zM628.2 235.5h.7v.7h-.7zM626.3 235.8h.7v.7h-.7zM626.8 236.7h.7v.7h-.7zM628.8 235.8h.7v.7h-.7zM625.7 237.7h.7v.7h-.7zM627.0 238.5h.7v.7h-.7zM626.4 240.1h.7v.7h-.7zM627.7 239.7h.7v.7h-.7zM629.7 241.9h.7v.7h-.7zM625.3 240.9h.7v.7h-.7zM625.4 243.6h.7v.7h-.7zM625.4 246.5h.7v.7h-.7zM626.4 245.7h.7v.7h-.7zM625.0 245.3h.7v.7h-.7zM627.8 246.0h.7v.7h-.7zM626.6 247.4h.7v.7h-.7zM625.2 247.0h.7v.7h-.7zM624.5 248.8h.7v.7h-.7zM624.7 249.0h.7v.7h-.7zM627.1 252.1h.7v.7h-.7zM624.3 252.4h.7v.7h-.7zM623.6 253.3h.7v.7h-.7zM624.5 254.9h.7v.7h-.7zM623.8 257.0h.7v.7h-.7zM622.9 255.8h.7v.7h-.7zM622.5 256.7h.7v.7h-.7zM623.5 257.2h.7v.7h-.7zM622.1 258.8h.7v.7h-.7zM622.2 259.8h.7v.7h-.7zM628.7 262.4h.7v.7h-.7zM620.1 264.6h.7v.7h-.7zM624.9 273.0h.7v.7h-.7zM619.0 273.6h.7v.7h-.7zM617.8 275.5h.7v.7h-.7zM616.2 276.6h.7v.7h-.7zM616.4 276.9h.7v.7h-.7zM617.0 276.1h.7v.7h-.7zM617.2 277.7h.7v.7h-.7zM616.0 277.6h.7v.7h-.7zM619.3 279.9h.7v.7h-.7zM615.7 282.5h.7v.7h-.7zM619.6 283.9h.7v.7h-.7zM616.2 286.1h.7v.7h-.7zM617.8 286.5h.7v.7h-.7zM618.7 285.8h.7v.7h-.7zM616.1 292.9h.7v.7h-.7zM616.3 294.0h.7v.7h-.7zM619.4 295.2h.7v.7h-.7zM615.3 295.3h.7v.7h-.7zM617.4 301.8h.7v.7h-.7zM620.5 300.7h.7v.7h-.7zM614.9 301.4h.7v.7h-.7zM614.6 301.6h.7v.7h-.7zM614.3 302.9h.7v.7h-.7zM614.7 302.1h.7v.7h-.7zM622.3 302.9h.7v.7h-.7zM614.1 305.8h.7v.7h-.7zM615.3 306.7h.7v.7h-.7zM615.1 306.8h.7v.7h-.7zM613.7 308.1h.7v.7h-.7zM617.0 312.0h.7v.7h-.7zM619.3 312.7h.7v.7h-.7zM613.5 313.1h.7v.7h-.7zM616.0 314.3h.7v.7h-.7zM612.9 316.0h.7v.7h-.7zM614.2 318.6h.7v.7h-.7zM617.0 318.4h.7v.7h-.7zM613.1 321.6h.7v.7h-.7zM617.6 323.8h.7v.7h-.7zM617.1 323.3h.7v.7h-.7zM619.1 324.7h.7v.7h-.7zM611.1 328.0h.7v.7h-.7zM610.3 329.7h.7v.7h-.7zM609.9 332.0h.7v.7h-.7zM608.7 333.3h.7v.7h-.7zM614.3 335.2h.7v.7h-.7zM611.8 336.7h.7v.7h-.7zM610.5 336.2h.7v.7h-.7zM609.2 338.8h.7v.7h-.7zM609.1 339.1h.7v.7h-.7zM607.1 338.3h.7v.7h-.7zM607.5 340.8h.7v.7h-.7zM608.8 342.3h.7v.7h-.7zM606.8 342.7h.7v.7h-.7zM605.6 343.9h.7v.7h-.7zM605.5 344.2h.7v.7h-.7zM605.5 346.1h.7v.7h-.7zM606.3 346.5h.7v.7h-.7zM604.5 347.6h.7v.7h-.7zM605.7 350.4h.7v.7h-.7zM604.5 350.3h.7v.7h-.7zM601.3 350.4h.7v.7h-.7zM603.8 351.4h.7v.7h-.7zM602.8 353.7h.7v.7h-.7zM603.7 355.6h.7v.7h-.7zM600.4 355.2h.7v.7h-.7zM600.7 355.0h.7v.7h-.7zM602.1 357.7h.7v.7h-.7zM601.0 359.4h.7v.7h-.7zM596.8 359.8h.7v.7h-.7zM601.0 362.8h.7v.7h-.7zM597.2 361.2h.7v.7h-.7zM596.5 360.6h.7v.7h-.7zM597.0 365.3h.7v.7h-.7zM594.8 363.2h.7v.7h-.7zM595.0 363.6h.7v.7h-.7zM593.6 365.8h.7v.7h-.7zM596.2 368.7h.7v.7h-.7zM591.8 367.0h.7v.7h-.7zM595.0 368.5h.7v.7h-.7zM592.3 368.2h.7v.7h-.7zM591.5 367.8h.7v.7h-.7zM591.6 370.1h.7v.7h-.7zM586.5 375.6h.7v.7h-.7zM588.6 376.0h.7v.7h-.7zM587.8 375.8h.7v.7h-.7zM587.0 378.4h.7v.7h-.7zM580.7 381.4h.7v.7h-.7zM581.5 384.4h.7v.7h-.7zM580.3 381.5h.7v.7h-.7zM581.7 388.5h.7v.7h-.7zM576.2 382.9h.7v.7h-.7zM577.0 383.0h.7v.7h-.7zM572.9 384.4h.7v.7h-.7zM574.3 386.1h.7v.7h-.7zM571.0 388.5h.7v.7h-.7zM569.7 385.1h.7v.7h-.7zM565.1 383.5h.7v.7h-.7zM565.3 379.7h.7v.7h-.7zM563.8 380.5h.7v.7h-.7zM565.2 379.1h.7v.7h-.7zM564.5 378.8h.7v.7h-.7zM564.6 377.0h.7v.7h-.7zM564.3 376.9h.7v.7h-.7zM563.7 376.6h.7v.7h-.7zM562.0 376.1h.7v.7h-.7zM564.1 375.6h.7v.7h-.7zM563.7 375.2h.7v.7h-.7zM562.9 374.8h.7v.7h-.7zM561.0 375.8h.7v.7h-.7zM558.2 373.4h.7v.7h-.7zM559.3 370.4h.7v.7h-.7zM556.0 372.9h.7v.7h-.7zM556.0 368.3h.7v.7h-.7zM553.3 367.8h.7v.7h-.7zM550.4 366.7h.7v.7h-.7zM549.7 363.7h.7v.7h-.7zM550.0 363.4h.7v.7h-.7zM544.1 365.6h.7v.7h-.7zM546.9 364.8h.7v.7h-.7zM544.5 365.5h.7v.7h-.7zM545.8 362.5h.7v.7h-.7zM549.1 361.2h.7v.7h-.7zM548.1 360.9h.7v.7h-.7zM546.5 359.1h.7v.7h-.7zM544.8 361.7h.7v.7h-.7zM543.5 360.4h.7v.7h-.7zM543.9 362.8h.7v.7h-.7zM541.3 361.4h.7v.7h-.7zM541.9 363.0h.7v.7h-.7zM539.5 362.8h.7v.7h-.7zM539.7 368.4h.7v.7h-.7zM540.1 369.5h.7v.7h-.7zM540.3 372.4h.7v.7h-.7zM536.0 371.3h.7v.7h-.7zM537.5 374.4h.7v.7h-.7zM534.9 374.0h.7v.7h-.7zM535.9 374.5h.7v.7h-.7zM531.6 378.8h.7v.7h-.7zM530.2 377.3h.7v.7h-.7zM529.3 380.6h.7v.7h-.7zM528.8 379.9h.7v.7h-.7zM529.2 381.6h.7v.7h-.7zM526.7 379.4h.7v.7h-.7zM525.8 380.9h.7v.7h-.7zM529.0 382.6h.7v.7h-.7zM525.5 384.1h.7v.7h-.7zM525.9 384.3h.7v.7h-.7zM524.7 385.2h.7v.7h-.7zM526.2 388.1h.7v.7h-.7zM525.3 388.2h.7v.7h-.7zM531.5 390.2h.7v.7h-.7zM528.4 390.0h.7v.7h-.7zM524.2 391.1h.7v.7h-.7zM524.6 393.2h.7v.7h-.7zM523.6 394.5h.7v.7h-.7zM521.6 395.8h.7v.7h-.7zM522.0 397.5h.7v.7h-.7zM519.2 397.9h.7v.7h-.7zM519.1 402.0h.7v.7h-.7zM516.6 399.2h.7v.7h-.7zM521.8 404.0h.7v.7h-.7zM516.2 400.5h.7v.7h-.7zM514.9 399.9h.7v.7h-.7zM516.6 400.0h.7v.7h-.7zM514.6 400.4h.7v.7h-.7zM516.2 402.5h.7v.7h-.7zM518.4 401.0h.7v.7h-.7zM517.0 404.5h.7v.7h-.7zM517.6 404.6h.7v.7h-.7zM519.0 406.2h.7v.7h-.7zM518.4 406.6h.7v.7h-.7zM520.5 406.8h.7v.7h-.7zM521.9 405.6h.7v.7h-.7zM526.4 408.0h.7v.7h-.7zM529.2 410.8h.7v.7h-.7zM530.5 407.8h.7v.7h-.7zM529.6 414.2h.7v.7h-.7zM529.5 414.0h.7v.7h-.7zM528.8 413.6h.7v.7h-.7zM528.8 412.5h.7v.7h-.7zM534.6 409.0h.7v.7h-.7zM526.8 410.3h.7v.7h-.7zM531.9 412.4h.7v.7h-.7zM531.9 412.8h.7v.7h-.7zM532.3 411.5h.7v.7h-.7zM535.8 404.8h.7v.7h-.7zM534.8 409.2h.7v.7h-.7zM535.9 409.9h.7v.7h-.7zM535.0 410.2h.7v.7h-.7zM537.9 411.0h.7v.7h-.7zM539.2 411.1h.7v.7h-.7zM540.7 411.2h.7v.7h-.7zM539.5 412.6h.7v.7h-.7zM543.3 411.2h.7v.7h-.7zM542.0 415.2h.7v.7h-.7zM542.0 414.9h.7v.7h-.7zM544.7 418.5h.7v.7h-.7zM548.8 415.6h.7v.7h-.7zM548.8 417.9h.7v.7h-.7zM547.4 423.5h.7v.7h-.7zM544.8 424.2h.7v.7h-.7zM543.7 424.0h.7v.7h-.7zM545.1 425.4h.7v.7h-.7zM543.1 424.1h.7v.7h-.7zM550.2 426.6h.7v.7h-.7zM542.6 426.3h.7v.7h-.7zM542.5 426.7h.7v.7h-.7zM542.9 431.6h.7v.7h-.7zM548.8 429.4h.7v.7h-.7zM544.6 431.5h.7v.7h-.7zM543.8 432.4h.7v.7h-.7zM547.1 432.0h.7v.7h-.7zM544.0 433.5h.7v.7h-.7zM544.9 434.0h.7v.7h-.7zM545.4 435.1h.7v.7h-.7zM545.4 435.9h.7v.7h-.7zM544.6 436.0h.7v.7h-.7zM548.4 435.5h.7v.7h-.7zM545.4 438.4h.7v.7h-.7zM544.8 439.3h.7v.7h-.7zM544.4 441.9h.7v.7h-.7zM544.6 443.0h.7v.7h-.7zM543.6 440.8h.7v.7h-.7zM544.9 447.0h.7v.7h-.7zM541.3 446.0h.7v.7h-.7zM538.8 441.1h.7v.7h-.7zM537.7 443.0h.7v.7h-.7zM535.4 443.7h.7v.7h-.7zM535.4 441.6h.7v.7h-.7zM534.2 446.1h.7v.7h-.7zM534.0 441.8h.7v.7h-.7zM532.5 442.1h.7v.7h-.7zM529.5 448.9h.7v.7h-.7zM530.2 442.0h.7v.7h-.7zM532.2 443.2h.7v.7h-.7zM532.4 445.7h.7v.7h-.7zM533.8 443.2h.7v.7h-.7zM536.1 446.5h.7v.7h-.7zM533.0 449.0h.7v.7h-.7zM535.8 447.8h.7v.7h-.7zM537.1 451.9h.7v.7h-.7zM536.3 451.7h.7v.7h-.7zM537.5 453.9h.7v.7h-.7zM542.3 450.2h.7v.7h-.7zM539.2 455.5h.7v.7h-.7zM537.6 455.6h.7v.7h-.7zM542.5 455.6h.7v.7h-.7zM538.4 458.6h.7v.7h-.7zM538.8 460.5h.7v.7h-.7zM541.9 467.8h.7v.7h-.7zM537.5 462.6h.7v.7h-.7zM541.8 461.9h.7v.7h-.7zM542.1 462.4h.7v.7h-.7zM542.6 463.5h.7v.7h-.7zM537.9 467.5h.7v.7h-.7zM539.7 469.2h.7v.7h-.7zM539.8 469.4h.7v.7h-.7zM541.4 468.5h.7v.7h-.7zM539.0 470.7h.7v.7h-.7zM539.6 470.7h.7v.7h-.7zM537.6 472.1h.7v.7h-.7zM538.0 472.3h.7v.7h-.7zM539.0 473.3h.7v.7h-.7zM539.0 474.6h.7v.7h-.7zM541.2 475.2h.7v.7h-.7zM544.3 476.2h.7v.7h-.7zM546.3 476.1h.7v.7h-.7zM542.7 478.2h.7v.7h-.7zM541.2 480.3h.7v.7h-.7zM542.0 481.9h.7v.7h-.7zM543.7 481.4h.7v.7h-.7zM543.5 482.0h.7v.7h-.7zM545.1 483.7h.7v.7h-.7zM547.3 484.2h.7v.7h-.7zM545.3 485.7h.7v.7h-.7zM546.3 490.1h.7v.7h-.7zM546.9 491.1h.7v.7h-.7zM546.8 491.3h.7v.7h-.7zM547.1 491.7h.7v.7h-.7zM548.2 494.2h.7v.7h-.7zM544.7 495.3h.7v.7h-.7zM549.1 496.8h.7v.7h-.7zM548.9 496.4h.7v.7h-.7zM547.1 500.5h.7v.7h-.7zM548.4 499.2h.7v.7h-.7zM553.2 499.6h.7v.7h-.7zM554.9 499.2h.7v.7h-.7zM549.6 503.4h.7v.7h-.7zM551.0 504.1h.7v.7h-.7zM553.6 507.0h.7v.7h-.7zM549.9 507.8h.7v.7h-.7zM552.0 508.4h.7v.7h-.7zM551.0 509.1h.7v.7h-.7zM552.2 510.5h.7v.7h-.7zM551.3 513.4h.7v.7h-.7zM551.3 514.8h.7v.7h-.7zM551.2 515.5h.7v.7h-.7zM552.6 516.4h.7v.7h-.7zM551.5 517.8h.7v.7h-.7zM552.2 519.0h.7v.7h-.7zM550.7 518.9h.7v.7h-.7zM550.9 519.7h.7v.7h-.7zM551.4 520.6h.7v.7h-.7zM551.7 522.7h.7v.7h-.7zM551.4 522.2h.7v.7h-.7zM556.3 522.1h.7v.7h-.7zM554.1 523.5h.7v.7h-.7zM555.0 528.2h.7v.7h-.7zM554.6 529.0h.7v.7h-.7zM553.8 529.0h.7v.7h-.7zM556.2 531.5h.7v.7h-.7zM557.2 531.7h.7v.7h-.7zM557.3 533.4h.7v.7h-.7zM563.3 532.2h.7v.7h-.7zM558.7 534.3h.7v.7h-.7zM560.4 536.7h.7v.7h-.7zM558.5 537.9h.7v.7h-.7zM558.1 536.7h.7v.7h-.7zM558.8 539.2h.7v.7h-.7zM562.0 539.8h.7v.7h-.7zM559.7 544.4h.7v.7h-.7zM564.9 545.0h.7v.7h-.7zM559.7 546.1h.7v.7h-.7zM560.1 548.5h.7v.7h-.7zM558.8 550.0h.7v.7h-.7zM557.7 549.4h.7v.7h-.7zM558.0 552.3h.7v.7h-.7zM564.5 551.0h.7v.7h-.7zM560.6 553.7h.7v.7h-.7zM558.0 556.8h.7v.7h-.7zM562.6 558.0h.7v.7h-.7zM561.6 559.6h.7v.7h-.7zM561.2 559.6h.7v.7h-.7zM561.3 563.5h.7v.7h-.7zM558.3 564.4h.7v.7h-.7zM565.7 562.9h.7v.7h-.7zM559.7 566.8h.7v.7h-.7zM565.2 562.8h.7v.7h-.7zM565.1 566.3h.7v.7h-.7zM561.1 568.7h.7v.7h-.7zM563.9 566.7h.7v.7h-.7zM562.4 570.0h.7v.7h-.7zM562.4 571.9h.7v.7h-.7zM563.9 570.8h.7v.7h-.7zM563.0 573.3h.7v.7h-.7zM564.6 572.8h.7v.7h-.7zM564.2 574.1h.7v.7h-.7zM563.9 574.3h.7v.7h-.7zM564.3 575.3h.7v.7h-.7zM567.2 580.0h.7v.7h-.7zM565.3 579.9h.7v.7h-.7zM568.0 585.6h.7v.7h-.7zM570.6 586.8h.7v.7h-.7zM566.8 587.1h.7v.7h-.7zM568.8 586.9h.7v.7h-.7zM567.0 586.9h.7v.7h-.7zM567.7 588.8h.7v.7h-.7zM569.0 591.9h.7v.7h-.7zM563.8 593.8h.7v.7h-.7zM562.2 599.2h.7v.7h-.7zM560.1 597.3h.7v.7h-.7zM563.5 597.9h.7v.7h-.7zM562.5 601.9h.7v.7h-.7zM565.4 601.9h.7v.7h-.7zM566.3 603.1h.7v.7h-.7zM569.0 600.1h.7v.7h-.7zM567.9 602.7h.7v.7h-.7zM569.0 604.5h.7v.7h-.7zM569.4 605.4h.7v.7h-.7zM570.9 606.8h.7v.7h-.7zM572.5 603.5h.7v.7h-.7zM572.4 605.0h.7v.7h-.7zM574.8 608.8h.7v.7h-.7zM575.0 608.3h.7v.7h-.7zM575.4 607.5h.7v.7h-.7zM581.2 606.2h.7v.7h-.7zM581.2 610.6h.7v.7h-.7zM579.8 612.3h.7v.7h-.7zM580.6 613.8h.7v.7h-.7zM582.0 612.7h.7v.7h-.7zM583.1 616.2h.7v.7h-.7zM584.5 612.7h.7v.7h-.7zM585.7 615.1h.7v.7h-.7zM583.7 616.4h.7v.7h-.7zM584.3 617.1h.7v.7h-.7zM584.5 617.6h.7v.7h-.7zM585.2 618.9h.7v.7h-.7zM586.2 617.4h.7v.7h-.7zM586.2 619.1h.7v.7h-.7zM588.6 620.6h.7v.7h-.7zM592.3 621.5h.7v.7h-.7zM591.7 620.6h.7v.7h-.7zM589.4 623.3h.7v.7h-.7zM594.1 624.7h.7v.7h-.7zM592.6 627.2h.7v.7h-.7zM594.3 629.7h.7v.7h-.7zM598.9 628.7h.7v.7h-.7zM598.9 631.7h.7v.7h-.7zM595.7 633.0h.7v.7h-.7zM596.0 633.0h.7v.7h-.7zM599.5 631.9h.7v.7h-.7zM596.7 633.7h.7v.7h-.7zM600.8 632.4h.7v.7h-.7zM598.1 635.2h.7v.7h-.7zM600.6 633.8h.7v.7h-.7zM598.2 635.7h.7v.7h-.7zM603.3 635.6h.7v.7h-.7zM603.2 639.7h.7v.7h-.7zM600.3 640.5h.7v.7h-.7zM603.1 640.0h.7v.7h-.7zM601.2 642.4h.7v.7h-.7zM604.4 642.2h.7v.7h-.7zM604.2 645.2h.7v.7h-.7zM604.1 644.7h.7v.7h-.7zM606.8 643.3h.7v.7h-.7zM609.8 640.0h.7v.7h-.7zM611.9 642.5h.7v.7h-.7zM607.2 647.0h.7v.7h-.7zM610.6 644.1h.7v.7h-.7zM611.6 644.7h.7v.7h-.7zM608.8 649.1h.7v.7h-.7zM612.1 646.1h.7v.7h-.7zM609.8 648.8h.7v.7h-.7zM612.0 648.0h.7v.7h-.7zM610.6 650.2h.7v.7h-.7zM613.4 649.6h.7v.7h-.7zM615.2 644.9h.7v.7h-.7zM613.8 647.2h.7v.7h-.7zM615.1 648.8h.7v.7h-.7zM615.1 650.7h.7v.7h-.7zM615.0 650.0h.7v.7h-.7zM616.1 651.4h.7v.7h-.7zM618.4 644.6h.7v.7h-.7zM615.9 652.1h.7v.7h-.7zM617.5 651.9h.7v.7h-.7zM617.5 651.0h.7v.7h-.7zM618.3 651.0h.7v.7h-.7zM618.0 650.1h.7v.7h-.7zM619.5 648.3h.7v.7h-.7zM619.0 651.7h.7v.7h-.7zM620.5 652.9h.7v.7h-.7zM622.9 652.4h.7v.7h-.7zM624.4 651.4h.7v.7h-.7zM626.2 654.6h.7v.7h-.7zM629.6 655.4h.7v.7h-.7zM630.4 654.0h.7v.7h-.7zM631.0 656.6h.7v.7h-.7zM630.2 655.5h.7v.7h-.7zM632.5 656.9h.7v.7h-.7zM632.4 656.8h.7v.7h-.7zM632.8 657.5h.7v.7h-.7zM633.3 659.0h.7v.7h-.7zM636.0 654.5h.7v.7h-.7zM637.7 656.4h.7v.7h-.7zM636.3 659.2h.7v.7h-.7zM638.2 658.1h.7v.7h-.7zM637.9 658.2h.7v.7h-.7zM638.4 658.1h.7v.7h-.7zM644.0 657.0h.7v.7h-.7zM640.7 663.5h.7v.7h-.7zM641.4 664.0h.7v.7h-.7zM643.9 661.5h.7v.7h-.7zM643.6 665.3h.7v.7h-.7zM645.7 663.1h.7v.7h-.7zM644.5 667.1h.7v.7h-.7zM644.5 667.1h.7v.7h-.7zM647.0 667.4h.7v.7h-.7zM648.5 668.6h.7v.7h-.7zM652.3 665.7h.7v.7h-.7z" fill="#2a4a2a" fill-opacity="0.6"/></g>
<g stroke="#0000ff" stroke-width="1.9" fill="none">
<path d="M123.9 117.0l8.4 8.4M123.9 125.4l8.4 -8.4M183.1 117.0l8.4 8.4M183.1 125.4l8.4 -8.4M242.2 117.0l8.4 8.4M242.2 125.4l8.4 -8.4M301.3 117.0l8.4 8.4M301.3 125.4l8.4 -8.4M360.5 117.0l8.4 8.4M360.5 125.4l8.4 -8.4M419.7 117.0l8.4 8.4M419.7 125.4l8.4 -8.4M537.9 117.0l8.4 8.4M537.9 125.4l8.4 -8.4M123.9 176.2l8.4 8.4M123.9 184.6l8.4 -8.4M183.1 176.2l8.4 8.4M183.1 184.6l8.4 -8.4M242.2 176.2l8.4 8.4M242.2 184.6l8.4 -8.4M301.3 176.2l8.4 8.4M301.3 184.6l8.4 -8.4M360.5 176.2l8.4 8.4M360.5 184.6l8.4 -8.4M419.7 176.2l8.4 8.4M419.7 184.6l8.4 -8.4M478.8 176.2l8.4 8.4M478.8 184.6l8.4 -8.4M537.9 176.2l8.4 8.4M537.9 184.6l8.4 -8.4M123.9 235.3l8.4 8.4M123.9 243.7l8.4 -8.4M183.1 235.3l8.4 8.4M183.1 243.7l8.4 -8.4M242.2 235.3l8.4 8.4M242.2 243.7l8.4 -8.4M301.3 235.3l8.4 8.4M301.3 243.7l8.4 -8.4M360.5 235.3l8.4 8.4M360.5 243.7l8.4 -8.4M419.7 235.3l8.4 8.4M419.7 243.7l8.4 -8.4M478.8 235.3l8.4 8.4M478.8 243.7l8.4 -8.4M537.9 235.3l8.4 8.4M537.9 243.7l8.4 -8.4M597.1 235.3l8.4 8.4M597.1 243.7l8.4 -8.4M123.9 294.5l8.4 8.4M123.9 302.9l8.4 -8.4M183.1 294.5l8.4 8.4M183.1 302.9l8.4 -8.4M242.2 294.5l8.4 8.4M242.2 302.9l8.4 -8.4M301.3 294.5l8.4 8.4M301.3 302.9l8.4 -8.4M360.5 294.5l8.4 8.4M360.5 302.9l8.4 -8.4M419.7 294.5l8.4 8.4M419.7 302.9l8.4 -8.4M478.8 294.5l8.4 8.4M478.8 302.9l8.4 -8.4M537.9 294.5l8.4 8.4M537.9 302.9l8.4 -8.4M597.1 294.5l8.4 8.4M597.1 302.9l8.4 -8.4M183.1 353.6l8.4 8.4M183.1 362.0l8.4 -8.4M242.2 353.6l8.4 8.4M242.2 362.0l8.4 -8.4M301.3 353.6l8.4 8.4M301.3 362.0l8.4 -8.4M360.5 353.6l8.4 8.4M360.5 362.0l8.4 -8.4M419.7 353.6l8.4 8.4M419.7 362.0l8.4 -8.4M478.8 353.6l8.4 8.4M478.8 362.0l8.4 -8.4M537.9 353.6l8.4 8.4M537.9 362.0l8.4 -8.4M183.1 412.8l8.4 8.4M183.1 421.2l8.4 -8.4M242.2 412.8l8.4 8.4M242.2 421.2l8.4 -8.4M301.3 412.8l8.4 8.4M301.3 421.2l8.4 -8.4M360.5 412.8l8.4 8.4M360.5 421.2l8.4 -8.4M419.7 412.8l8.4 8.4M419.7 421.2l8.4 -8.4M478.8 412.8l8.4 8.4M478.8 421.2l8.4 -8.4M183.1 472.0l8.4 8.4M183.1 480.4l8.4 -8.4M242.2 472.0l8.4 8.4M242.2 480.4l8.4 -8.4M301.3 472.0l8.4 8.4M301.3 480.4l8.4 -8.4M360.5 472.0l8.4 8.4M360.5 480.4l8.4 -8.4M419.7 472.0l8.4 8.4M419.7 480.4l8.4 -8.4M478.8 472.0l8.4 8.4M478.8 480.4l8.4 -8.4M242.2 531.1l8.4 8.4M242.2 539.5l8.4 -8.4M301.3 531.1l8.4 8.4M301.3 539.5l8.4 -8.4M360.5 531.1l8.4 8.4M360.5 539.5l8.4 -8.4M419.7 531.1l8.4 8.4M419.7 539.5l8.4 -8.4M478.8 531.1l8.4 8.4M478.8 539.5l8.4 -8.4M537.9 531.1l8.4 8.4M537.9 539.5l8.4 -8.4"/>
</g>
<g fill="none" stroke="#000" stroke-width="1.2" stroke-linejoin="round" stroke-linecap="round">
<g clip-path="url(#t00)">
<path d="M128.1 121.1C129.0 121.0 132.0 120.7 133.8 120.8C135.6 121.0 137.0 121.5 138.8 121.8C140.7 122.2 143.2 122.8 145.1 123.1C147.0 123.3 148.5 123.5 150.1 123.3C151.7 123.2 153.8 122.5 154.6 122.1C155.5 121.6 155.5 121.1 155.1 120.6C154.7 120.1 152.7 119.9 152.1 119.1C151.5 118.3 151.3 117.1 151.4 115.6C151.5 114.1 152.3 111.8 152.6 110.1C153.0 108.3 153.4 106.7 153.4 105.1C153.4 103.4 152.9 101.5 152.6 100.1C152.4 98.6 152.0 96.9 151.9 96.3"/>
<path d="M187.2 121.1C186.6 120.9 184.9 120.6 183.9 120.1C183.0 119.6 182.1 119.1 181.4 118.1C180.7 117.0 180.0 115.4 179.7 113.8C179.4 112.3 179.7 110.5 179.7 108.8C179.6 107.2 179.5 105.4 179.2 103.8C178.8 102.3 178.3 100.7 177.7 99.6C177.0 98.4 175.6 97.3 175.2 96.8"/>
<path d="M235.0 170.2C234.5 169.5 232.8 166.6 232.0 166.4C231.1 166.2 230.4 167.4 230.0 168.9C229.6 170.4 229.4 173.1 229.5 175.2C229.6 177.3 229.8 179.8 230.5 181.4C231.2 183.0 232.6 183.8 233.7 184.7C234.9 185.6 236.9 186.6 237.5 186.9"/>
<path d="M128.1 180.2C128.4 179.7 129.5 178.2 130.1 177.2C130.7 176.1 131.6 174.9 131.6 173.9C131.6 173.0 130.7 172.2 130.1 171.4C129.5 170.6 128.5 170.0 128.1 168.9C127.7 167.9 127.6 166.4 127.6 165.2C127.6 163.9 127.5 162.5 128.1 161.4C128.7 160.3 129.8 159.2 131.3 158.4C132.9 157.6 135.3 156.9 137.6 156.4C139.9 155.8 142.2 155.5 145.1 155.1C148.0 154.8 151.6 154.5 155.1 154.1C158.7 153.8 163.9 153.7 166.4 153.1C168.9 152.6 168.3 151.9 170.1 150.6C172.0 149.4 174.7 147.3 177.7 145.6C180.6 144.0 184.3 142.4 187.7 140.6C191.0 138.9 195.0 136.7 197.7 135.1C200.4 133.6 202.4 132.4 203.9 131.4C205.5 130.3 206.7 129.7 207.2 128.8C207.7 128.0 207.4 127.0 207.2 126.3C207.0 125.7 206.2 125.3 205.9 125.1"/>
<path d="M187.2 180.7C186.4 180.2 184.2 178.3 182.7 177.7C181.1 177.0 179.0 176.3 177.7 176.7C176.3 177.0 175.4 178.5 174.7 179.7C173.9 180.8 172.9 183.1 173.1 183.4C173.4 183.7 175.2 182.0 176.4 181.4C177.6 180.9 178.9 180.0 180.2 180.2C181.4 180.4 182.7 182.8 183.9 182.7C185.2 182.6 186.2 180.5 187.7 179.7C189.1 178.8 191.0 177.7 192.7 177.7C194.3 177.7 196.0 179.7 197.7 179.7C199.4 179.7 200.6 178.6 202.7 177.7C204.8 176.7 207.3 175.4 210.2 173.9C213.1 172.5 216.9 170.5 220.2 168.9C223.6 167.4 227.3 165.8 230.2 164.7C233.2 163.5 235.6 162.8 237.7 162.1C239.9 161.5 242.1 161.1 243.0 160.9"/>
<path d="M154.9 187.9C154.1 188.1 151.5 188.6 150.1 188.9C148.7 189.3 147.2 189.1 146.4 190.2C145.5 191.2 145.9 193.5 145.1 195.2C144.3 196.9 143.0 198.7 141.4 200.2C139.7 201.7 137.4 203.0 135.1 204.0C132.8 204.9 129.7 205.1 127.6 205.7C125.5 206.3 123.8 206.5 122.6 207.7C121.3 208.9 120.6 210.8 120.1 212.7C119.6 214.6 120.0 217.1 119.6 219.0C119.2 220.9 118.3 222.7 117.6 224.0C116.8 225.2 116.1 226.3 115.1 226.5C114.0 226.7 112.6 226.1 111.3 225.2C110.1 224.4 107.8 221.1 107.6 221.5C107.3 221.9 109.0 225.8 110.1 227.7C111.1 229.7 113.2 232.1 113.8 233.0"/>
</g>
<g clip-path="url(#t01)">
<path d="M121.3 210.0C121.1 210.8 120.5 213.1 120.1 215.0C119.7 216.9 119.7 220.0 118.8 221.3C118.0 222.5 115.5 221.7 115.1 222.5C114.6 223.4 116.9 225.9 116.3 226.3C115.7 226.7 112.9 225.9 111.3 225.0C109.8 224.2 107.5 220.8 107.1 221.3C106.6 221.7 108.1 225.6 108.8 227.5C109.5 229.5 110.1 232.4 111.3 233.0C112.6 233.7 114.6 231.6 116.3 231.3C118.0 231.0 119.7 230.7 121.3 231.3C123.0 231.8 125.2 233.2 126.3 234.5C127.5 235.9 127.8 238.7 128.1 239.5"/>
<path d="M187.2 298.9C186.2 299.3 183.4 300.8 181.4 301.4C179.4 302.0 177.2 302.2 175.2 302.6C173.1 303.1 170.8 303.1 168.9 303.9C167.0 304.7 165.1 306.2 163.9 307.6C162.7 309.1 162.2 311.0 161.9 312.6C161.6 314.3 161.6 316.2 162.1 317.7C162.7 319.1 163.8 321.0 165.1 321.4C166.5 321.8 168.3 320.8 170.1 320.2C172.0 319.5 174.9 317.4 176.4 317.7C177.9 317.9 177.4 320.9 178.9 321.4C180.4 322.0 182.9 321.2 185.2 320.9C187.5 320.6 190.2 319.8 192.7 319.4C195.2 319.0 197.7 318.4 200.2 318.4C202.7 318.4 205.4 318.7 207.7 319.4C210.0 320.1 212.3 321.5 214.0 322.7C215.6 323.8 216.8 325.3 217.7 326.4C218.6 327.5 219.0 328.9 219.2 329.4"/>
<path d="M187.2 358.2C186.6 359.0 185.5 361.6 183.9 362.7C182.3 363.9 180.0 364.3 177.7 365.2C175.4 366.1 172.4 367.0 170.1 368.2C167.8 369.5 165.8 371.8 163.9 372.7C162.0 373.7 160.3 372.9 158.9 374.0C157.4 375.0 156.2 377.5 155.1 379.0C154.1 380.5 153.0 382.3 152.6 383.0"/>
<path d="M229.0 320.2C228.7 320.8 227.2 322.5 227.2 323.9C227.2 325.4 228.1 327.5 229.0 328.9C229.9 330.4 231.7 330.8 232.7 332.7C233.8 334.6 234.4 337.7 235.2 340.2C236.1 342.7 236.9 345.4 237.7 347.7C238.6 350.0 239.4 352.3 240.2 354.0C241.1 355.6 242.5 357.1 243.0 357.7"/>
</g>
<g clip-path="url(#t02)">
<path d="M187.2 358.0C186.6 359.0 185.5 362.5 183.9 363.8C182.3 365.0 180.0 364.9 177.7 365.5C175.4 366.1 172.3 366.6 170.1 367.5C168.0 368.5 166.5 370.4 164.6 371.3C162.8 372.1 160.3 371.5 158.9 372.5C157.4 373.6 156.8 375.8 155.9 377.5C155.0 379.3 153.5 381.4 153.4 383.0C153.2 384.7 154.4 386.2 155.1 387.5C155.8 388.9 156.8 391.5 157.6 391.3C158.5 391.1 159.0 387.3 160.1 386.3C161.3 385.2 163.6 385.7 164.6 385.0C165.7 384.3 165.1 382.8 166.4 382.0C167.7 381.3 170.6 380.4 172.6 380.5C174.7 380.6 176.8 381.9 178.9 382.5C181.0 383.2 182.9 384.1 185.2 384.3C187.5 384.5 190.2 384.1 192.7 383.8C195.2 383.5 197.9 382.9 200.2 382.5C202.5 382.2 204.7 382.0 206.4 381.8C208.2 381.6 209.8 381.4 210.5 381.3"/>
<path d="M187.2 417.3C187.0 418.2 187.0 421.2 186.4 422.6C185.9 424.0 185.4 425.1 183.9 425.6C182.5 426.1 179.7 425.5 177.7 425.8C175.6 426.2 173.5 427.2 171.4 427.6C169.3 428.0 166.2 428.0 165.1 428.1"/>
<path d="M187.2 476.7C187.0 477.7 186.8 481.0 186.4 482.7C186.1 484.3 185.7 485.7 185.2 486.4C184.6 487.2 183.5 487.1 183.2 487.2"/>
<path d="M243.0 477.7C241.7 477.5 237.8 476.8 235.2 476.4C232.7 476.0 230.2 475.3 227.7 475.2C225.2 475.0 222.5 475.2 220.2 475.7C217.9 476.1 215.6 476.3 214.0 477.7C212.3 479.0 211.5 481.6 210.2 483.9C209.0 486.2 207.2 488.9 206.4 491.4C205.7 493.9 205.5 496.4 205.7 499.0C205.9 501.5 206.5 504.6 207.7 506.5C208.9 508.3 210.8 509.4 212.7 510.2C214.6 511.1 217.3 511.0 219.0 511.5C220.6 512.0 222.0 512.0 222.7 513.2C223.4 514.5 223.2 517.1 223.2 519.0C223.2 520.8 222.8 523.4 222.7 524.2"/>
<path d="M243.0 403.8C241.7 402.8 237.8 399.8 235.2 397.6C232.7 395.3 230.0 392.1 227.7 390.0C225.4 388.0 223.1 385.7 221.5 385.0C219.8 384.4 219.0 385.5 217.7 386.3C216.5 387.1 215.0 389.0 214.0 390.0C212.9 391.1 211.7 391.8 211.5 392.5C211.2 393.3 212.1 394.6 212.7 394.3C213.3 394.0 214.0 391.0 215.2 390.5C216.5 390.0 218.3 390.5 220.2 391.3C222.1 392.0 224.4 393.4 226.5 395.1C228.6 396.7 231.1 398.8 232.7 401.3C234.4 403.8 235.2 407.4 236.5 410.1C237.7 412.8 239.2 415.7 240.2 417.6C241.3 419.5 242.5 420.7 243.0 421.3"/>
</g>
<g clip-path="url(#t03)">
<path d="M212.7 510.0C213.5 510.3 216.0 511.4 217.7 512.0C219.4 512.6 221.8 512.6 222.7 513.8C223.6 514.9 223.2 517.0 223.2 518.8C223.2 520.5 222.8 523.4 222.7 524.3"/>
<path d="M243.0 540.5C242.1 540.7 239.7 541.6 237.7 541.3C235.8 541.0 233.6 539.6 231.5 538.8C229.4 538.0 227.1 536.8 225.2 536.3C223.3 535.8 221.9 535.4 220.2 535.8C218.5 536.2 216.9 537.7 215.2 538.8C213.5 539.8 211.9 541.3 210.2 542.0C208.5 542.8 206.7 542.5 205.2 543.0C203.7 543.5 202.2 544.4 201.4 545.1C200.7 545.7 200.3 546.6 200.7 547.1C201.1 547.5 202.8 547.0 203.9 547.6C205.1 548.1 206.0 549.6 207.7 550.6C209.4 551.5 212.3 552.9 214.0 553.1C215.6 553.2 216.7 551.8 217.7 551.3C218.8 550.8 219.7 549.4 220.2 550.1C220.8 550.7 221.0 553.5 221.0 555.1C221.0 556.7 220.3 558.8 220.2 559.6"/>
</g>
<g clip-path="url(#t10)">
<path d="M246.3 121.1C245.7 120.9 243.5 120.6 242.5 120.1C241.6 119.6 240.7 119.0 240.8 118.1C240.9 117.2 242.3 115.7 243.0 114.6C243.7 113.5 244.6 112.5 245.0 111.3C245.5 110.2 245.3 108.7 245.8 107.6C246.3 106.4 247.0 105.3 248.0 104.6C249.1 103.8 250.9 103.6 252.0 103.1C253.2 102.5 254.6 102.0 255.1 101.3C255.5 100.6 255.1 99.5 254.5 98.8C254.0 98.1 252.7 97.6 252.0 97.1C251.4 96.6 250.8 96.0 250.5 95.8"/>
<path d="M305.1 121.1C305.7 120.5 307.4 119.0 308.9 117.6C310.3 116.2 312.3 114.2 313.9 112.6C315.4 110.9 317.1 109.2 318.1 107.6C319.2 105.9 319.4 104.1 320.1 102.6C320.9 101.0 321.9 99.4 322.6 98.3C323.4 97.2 324.3 96.2 324.7 95.8"/>
<path d="M364.7 121.1C365.2 120.3 367.0 118.2 367.7 116.3C368.5 114.5 368.9 112.2 369.2 110.1C369.5 108.0 369.6 105.7 369.5 103.8C369.3 101.9 368.7 100.1 368.2 98.8C367.7 97.5 366.8 96.3 366.5 95.8"/>
<path d="M262.1 154.9C261.3 155.4 259.6 157.3 257.6 158.1C255.6 159.0 253.0 159.5 250.0 160.1C247.1 160.8 243.2 161.4 240.0 162.1C236.9 162.9 233.8 163.8 231.3 164.7C228.8 165.5 226.9 166.4 225.0 167.2C223.1 167.9 220.8 169.0 220.0 169.4"/>
<path d="M316.4 146.6C315.3 147.0 312.8 148.0 310.1 148.9C307.4 149.8 303.5 151.1 300.1 152.1C296.8 153.2 293.4 154.0 290.1 155.1C286.8 156.3 282.8 157.6 280.1 158.9C277.4 160.1 275.9 161.4 273.8 162.6C271.7 163.9 269.9 165.3 267.6 166.4C265.3 167.5 262.6 168.6 260.1 169.4C257.6 170.2 254.8 170.9 252.5 171.4C250.3 172.0 248.4 172.6 246.3 172.7C244.2 172.7 241.9 172.3 240.0 171.9C238.2 171.5 236.4 171.1 235.0 170.2C233.7 169.2 232.9 166.6 232.0 166.4C231.2 166.2 230.4 167.4 230.0 168.9C229.6 170.4 229.4 173.1 229.5 175.2C229.6 177.3 229.8 179.8 230.5 181.4C231.2 183.0 232.6 183.8 233.8 184.7C234.9 185.6 236.3 186.7 237.5 186.9C238.8 187.1 240.0 186.6 241.3 185.9C242.5 185.2 244.2 183.6 245.0 182.7C245.9 181.8 246.1 181.0 246.3 180.7"/>
<path d="M305.1 180.7C304.3 180.2 301.6 179.0 300.1 177.7C298.7 176.3 297.4 174.5 296.4 172.7C295.4 170.8 294.6 168.5 294.1 166.4C293.6 164.3 293.4 162.4 293.4 160.1C293.4 157.8 293.6 154.9 294.1 152.6C294.6 150.3 295.4 148.3 296.4 146.4C297.3 144.5 298.2 142.7 299.6 141.4C301.1 140.0 303.0 139.0 305.1 138.1C307.3 137.2 310.1 136.7 312.6 135.9C315.1 135.0 317.6 134.1 320.1 133.1C322.6 132.1 325.2 130.9 327.7 129.6C330.2 128.3 332.2 126.8 335.2 125.6C338.1 124.4 341.8 123.3 345.2 122.6C348.5 121.9 351.9 121.6 355.2 121.3C358.5 121.0 361.4 120.8 364.7 120.8C368.0 120.8 372.0 121.0 375.2 121.3C378.4 121.7 381.0 122.3 384.0 123.1C386.9 123.9 391.5 125.8 393.0 126.3"/>
<path d="M315.6 182.9C314.3 183.2 310.2 183.8 307.6 184.4C305.0 185.0 302.6 185.7 300.1 186.4C297.6 187.2 294.7 187.7 292.6 188.9C290.5 190.2 289.3 192.3 287.6 193.9C285.9 195.6 284.5 197.6 282.6 199.0C280.7 200.3 278.6 201.4 276.3 202.2C274.0 203.0 271.5 203.2 268.8 204.0C266.1 204.7 262.8 205.5 260.1 206.5C257.3 207.4 253.8 209.0 252.5 209.5"/>
<path d="M342.7 233.0C342.9 231.3 343.3 226.1 343.9 222.7C344.6 219.4 345.4 215.9 346.4 212.7C347.5 209.6 348.5 206.3 350.2 204.0C351.9 201.7 354.2 200.1 356.4 199.0C358.7 197.8 361.2 197.2 364.0 197.2C366.7 197.2 370.2 197.8 372.7 199.0C375.2 200.1 377.3 201.7 379.0 204.0C380.6 206.3 381.8 209.6 382.7 212.7C383.7 215.9 384.2 219.4 384.7 222.7C385.2 226.1 385.6 231.3 385.7 233.0"/>
<path d="M330.9 226.5C330.0 226.8 327.2 227.5 325.2 228.2C323.1 229.0 320.6 230.2 318.9 231.0C317.2 231.8 315.8 232.7 315.1 233.0"/>
<path d="M365.2 180.7C364.6 179.9 363.1 177.5 362.0 176.3C360.8 175.2 359.7 174.3 358.3 173.8C357.0 173.4 355.4 173.4 354.0 173.4C352.5 173.5 351.1 173.5 349.7 174.1C348.2 174.7 346.9 176.2 345.3 177.0C343.8 177.9 342.3 178.5 340.2 179.2C338.2 179.9 335.2 180.5 333.0 181.4C330.8 182.3 329.4 183.3 327.2 184.7C325.1 186.1 322.4 188.3 320.0 189.6C317.6 190.9 315.1 191.8 312.6 192.7C310.2 193.6 307.6 194.2 305.1 195.2C302.6 196.2 299.9 197.5 297.6 199.0C295.3 200.4 293.0 202.1 291.4 204.0C289.7 205.8 288.6 207.9 287.6 210.2C286.6 212.5 285.8 215.2 285.6 217.7C285.4 220.2 285.8 222.7 286.3 225.2C286.9 227.8 288.4 231.7 288.8 233.0"/>
<path d="M420.0 164.7C419.2 163.3 417.2 158.5 415.5 156.0C413.8 153.6 412.1 152.3 409.7 150.3C407.3 148.2 403.9 145.7 401.0 143.7C398.1 141.8 395.0 140.0 392.3 138.7C389.7 137.4 387.3 136.6 385.1 136.1C382.9 135.6 381.7 135.3 379.3 135.5C376.9 135.7 373.5 136.2 370.6 137.2C367.7 138.2 364.5 139.9 362.0 141.6C359.4 143.3 357.3 145.2 355.4 147.4C353.6 149.6 352.4 152.3 351.1 154.6C349.8 156.9 348.2 159.2 347.5 161.1C346.8 163.0 346.6 164.6 346.8 166.2C346.9 167.7 347.5 169.1 348.2 170.5C348.9 172.0 349.8 173.5 351.1 174.9C352.4 176.2 354.4 177.6 356.2 178.5C358.0 179.4 360.5 180.0 362.0 180.3C363.4 180.7 364.6 180.6 365.1 180.6"/>
</g>
<g clip-path="url(#t11)">
<path d="M246.3 298.9C246.4 297.6 247.2 293.9 247.0 291.4C246.8 288.9 245.9 286.4 245.0 283.9C244.2 281.4 242.9 278.8 242.0 276.3C241.2 273.8 240.3 271.3 240.0 268.8C239.8 266.3 240.0 263.8 240.5 261.3C241.0 258.8 242.4 256.1 243.0 253.8C243.6 251.5 243.7 249.4 244.0 247.6C244.3 245.7 244.7 243.7 244.8 242.5C244.8 241.4 244.4 240.9 244.3 240.5"/>
<path d="M286.3 210.0C286.2 211.0 285.7 214.2 285.6 216.3C285.5 218.3 285.3 220.4 285.6 222.5C285.9 224.6 286.6 226.9 287.6 228.8C288.6 230.7 289.7 232.3 291.4 233.8C293.0 235.2 295.3 236.6 297.6 237.5C299.9 238.5 303.9 239.2 305.1 239.5"/>
<path d="M305.1 239.5C306.2 238.8 309.1 236.3 311.4 235.0C313.7 233.8 316.6 233.1 318.9 232.0C321.2 231.0 323.1 229.7 325.2 228.8C327.2 227.9 330.0 226.9 330.9 226.5"/>
<path d="M305.1 298.9C304.3 297.6 302.0 294.1 300.1 291.4C298.2 288.7 295.7 285.3 293.9 282.6C292.0 279.9 290.1 277.6 288.8 275.1C287.6 272.6 286.8 270.1 286.3 267.6C285.9 265.1 285.9 262.6 286.3 260.1C286.8 257.6 287.8 254.9 288.8 252.6C289.9 250.3 291.1 248.1 292.6 246.3C294.1 244.5 295.7 243.1 297.6 242.0C299.5 241.0 302.8 240.4 303.9 240.0"/>
<path d="M347.7 210.0C347.1 211.3 344.8 214.8 343.9 217.5C343.0 220.2 342.3 223.6 342.2 226.3C342.1 229.0 342.5 231.5 343.2 233.8C343.9 236.1 345.1 238.3 346.4 240.0C347.8 241.8 349.6 243.5 351.4 244.3C353.3 245.1 355.6 245.3 357.7 245.1C359.8 244.8 361.9 243.0 364.0 242.5C366.0 242.1 368.1 241.9 370.2 242.5C372.3 243.2 374.6 244.8 376.5 246.3C378.4 247.8 379.8 249.4 381.5 251.3C383.2 253.2 385.9 256.7 386.7 257.8"/>
<path d="M364.0 243.8C364.0 244.4 363.8 245.5 364.0 247.6C364.1 249.6 364.8 253.0 364.7 256.3C364.6 259.7 363.7 263.8 363.2 267.6C362.7 271.3 362.0 275.1 361.5 278.8C361.0 282.6 360.2 286.8 360.2 290.1C360.2 293.5 361.0 296.6 361.5 298.9C362.0 301.2 362.6 303.5 363.2 303.9C363.8 304.3 365.0 302.2 365.2 301.4C365.5 300.5 364.8 299.3 364.7 298.9"/>
<path d="M382.7 210.0C382.9 211.7 383.6 216.3 384.0 220.0C384.4 223.8 384.9 228.4 385.2 232.5C385.5 236.7 385.5 240.8 385.7 245.1C386.0 249.3 386.3 254.1 386.7 257.8C387.2 261.6 387.5 264.5 388.2 267.6C389.0 270.7 390.7 274.5 391.5 276.3C392.3 278.2 392.7 278.4 393.0 278.8"/>
<path d="M246.3 358.2C245.7 357.3 244.0 355.3 242.5 352.7C241.1 350.1 239.0 345.6 237.5 342.7C236.1 339.8 235.0 337.5 233.8 335.2C232.5 332.9 231.1 330.8 230.0 328.9C229.0 327.0 227.8 325.4 227.5 323.9C227.2 322.5 227.6 320.6 228.0 320.2C228.4 319.7 229.5 320.2 230.0 321.4C230.6 322.7 230.4 326.1 231.3 327.7C232.1 329.2 233.4 330.0 235.0 330.7C236.7 331.3 239.2 330.9 241.3 331.4C243.4 332.0 245.7 332.5 247.5 333.9C249.4 335.4 251.1 337.9 252.5 340.2C254.0 342.5 255.3 345.2 256.3 347.7C257.3 350.2 258.1 353.1 258.8 355.2C259.6 357.3 260.5 359.4 260.8 360.2"/>
<path d="M305.1 358.2C305.7 358.8 308.5 360.7 308.9 361.5C309.3 362.2 308.5 362.9 307.6 362.7C306.8 362.5 305.5 360.7 303.9 360.2C302.2 359.7 299.7 360.1 297.6 359.7C295.5 359.4 293.2 358.5 291.4 358.2C289.5 357.9 288.2 357.5 286.3 357.7C284.5 358.0 282.2 358.5 280.1 359.7C278.0 361.0 275.9 363.1 273.8 365.2C271.7 367.4 269.4 370.4 267.6 372.7C265.7 375.0 263.8 377.3 262.6 379.0C261.3 380.7 260.5 382.3 260.1 383.0"/>
<path d="M364.7 358.2C363.7 358.5 360.1 360.4 359.0 359.7C357.8 359.0 358.0 356.2 357.7 354.0C357.4 351.7 358.0 348.1 357.2 346.4C356.4 344.8 354.7 344.6 352.7 343.9C350.7 343.3 347.1 343.1 345.2 342.7C343.3 342.3 342.1 342.5 341.4 341.4C340.7 340.4 340.9 336.6 340.9 336.4C341.0 336.2 341.2 338.7 341.7 340.2C342.2 341.6 342.5 343.5 343.9 345.2C345.3 346.9 347.9 348.3 350.2 350.2C352.5 352.1 355.2 354.6 357.7 356.5C360.2 358.3 362.7 359.8 365.2 361.5C367.7 363.1 370.6 364.8 372.7 366.5C374.8 368.1 376.7 369.6 377.7 371.5C378.8 373.4 378.8 375.8 379.0 377.7C379.2 379.7 379.0 382.1 379.0 383.0"/>
</g>
<g clip-path="url(#t12)">
<path d="M281.3 360.0C280.3 360.6 277.2 362.1 275.1 363.8C273.0 365.4 270.9 367.7 268.8 370.0C266.7 372.3 264.6 375.0 262.6 377.5C260.5 380.0 258.1 382.7 256.3 385.0C254.5 387.3 252.2 389.4 251.8 391.3C251.4 393.2 252.6 394.8 253.8 396.3C255.0 397.8 256.9 398.4 258.8 400.1C260.7 401.7 263.2 403.8 265.1 406.3C266.9 408.8 268.8 412.0 270.1 415.1C271.3 418.2 271.7 422.0 272.6 425.1C273.5 428.2 274.4 431.5 275.6 433.9C276.7 436.2 278.9 438.4 279.6 439.4"/>
<path d="M305.1 417.3C305.5 417.8 308.0 418.7 307.6 420.1C307.2 421.5 304.7 423.3 302.6 425.6C300.5 427.9 297.8 431.2 295.1 433.9C292.4 436.5 288.8 439.3 286.3 441.4C283.8 443.5 281.6 445.2 280.1 446.4C278.5 447.5 277.3 448.1 277.1 448.1C276.9 448.1 277.5 446.9 278.8 446.4C280.2 445.9 282.8 444.9 285.1 445.1C287.4 445.3 289.7 446.8 292.6 447.6C295.5 448.5 299.3 449.3 302.6 450.1C306.0 451.0 309.7 451.9 312.6 452.6C315.6 453.4 317.8 454.3 320.1 454.6C322.4 455.0 324.5 455.3 326.4 454.6C328.3 454.0 330.6 451.3 331.4 450.6"/>
<path d="M364.7 358.0C365.6 359.2 368.3 363.0 370.2 365.0C372.2 367.0 375.0 368.3 376.5 370.0C377.9 371.7 378.6 373.1 379.0 375.0C379.4 376.9 378.9 379.5 378.7 381.3C378.6 383.0 378.3 384.8 378.2 385.5"/>
<path d="M220.0 385.0C220.8 385.5 223.1 386.1 225.0 387.5C226.9 389.0 229.2 391.7 231.3 393.8C233.4 395.9 235.4 398.0 237.5 400.1C239.6 402.1 242.1 404.4 243.8 406.3C245.5 408.2 247.1 409.5 247.5 411.3C248.0 413.2 246.5 416.3 246.3 417.3"/>
<path d="M220.0 391.3C221.0 391.7 224.2 392.3 226.3 393.8C228.3 395.3 231.0 398.0 232.5 400.1C234.1 402.1 234.7 404.2 235.5 406.3C236.4 408.4 236.6 410.5 237.5 412.6C238.5 414.7 240.1 417.2 241.3 418.8C242.4 420.5 244.0 422.0 244.5 422.6"/>
<path d="M364.7 417.3C364.0 418.2 361.6 420.5 360.2 422.6C358.8 424.7 357.6 427.4 356.4 430.1C355.3 432.8 354.2 435.9 353.2 438.9C352.2 441.8 351.4 444.7 350.7 447.6C350.0 450.5 349.2 453.7 348.9 456.4C348.6 459.1 348.6 461.6 348.9 463.9C349.2 466.2 349.9 468.9 350.7 470.2C351.5 471.4 352.9 471.6 353.9 471.4C355.0 471.2 355.9 468.9 357.2 468.9C358.5 468.9 360.2 470.1 361.5 471.4C362.7 472.7 364.2 475.8 364.7 476.7"/>
<path d="M364.7 476.7C366.0 476.8 369.9 477.9 372.7 477.7C375.5 477.4 378.1 476.0 381.5 475.2C384.9 474.3 391.1 473.1 393.0 472.7"/>
<path d="M364.7 476.7C364.0 477.7 361.5 480.8 360.2 482.7C359.0 484.5 357.7 486.0 357.2 487.7C356.7 489.4 356.7 491.0 357.2 492.7C357.7 494.4 358.9 496.0 360.2 497.7C361.5 499.4 363.5 501.5 365.2 502.7C366.9 503.9 368.1 504.5 370.2 504.7C372.3 504.9 375.2 504.3 377.7 504.0C380.2 503.6 382.7 503.1 385.2 502.7C387.8 502.3 391.7 501.7 393.0 501.5"/>
<path d="M305.1 476.7C303.9 476.3 300.1 474.9 297.6 474.7C295.1 474.4 292.6 474.9 290.1 475.2C287.6 475.5 284.5 476.4 282.6 476.4C280.7 476.4 279.6 476.0 278.8 475.2C278.1 474.3 278.1 471.0 278.1 471.4C278.1 471.8 278.3 476.0 278.8 477.7C279.4 479.3 280.1 480.5 281.3 481.4C282.6 482.3 284.7 482.5 286.3 483.2C288.0 483.9 289.9 484.7 291.4 485.7C292.8 486.6 293.9 488.1 295.1 488.9C296.4 489.8 297.4 490.8 298.9 490.7C300.3 490.6 302.6 489.3 303.9 488.2C305.1 487.1 306.0 485.5 306.4 483.9C306.8 482.4 305.7 479.5 306.4 478.9C307.0 478.3 308.9 479.5 310.1 480.2C311.4 480.8 312.8 481.7 313.9 482.7C314.9 483.6 316.0 485.4 316.4 485.9"/>
<path d="M220.0 475.7C221.3 475.6 225.0 475.0 227.5 475.2C230.0 475.3 232.7 475.9 235.0 476.4C237.3 476.9 239.4 478.1 241.3 478.2C243.2 478.2 245.5 476.9 246.3 476.7"/>
<path d="M222.0 524.2C222.2 523.4 222.9 520.7 223.0 519.0C223.1 517.3 223.0 515.0 222.5 514.0C222.0 512.9 220.4 512.9 220.0 512.7"/>
<path d="M276.3 531.7C276.5 530.2 277.2 525.7 277.6 522.7C278.0 519.8 278.8 516.5 278.8 514.0C278.8 511.5 278.4 509.2 277.6 507.7C276.7 506.3 275.3 505.2 273.8 505.2C272.4 505.2 270.5 507.3 268.8 507.7C267.2 508.1 265.3 508.3 263.8 507.7C262.4 507.1 260.8 505.2 260.1 504.0C259.3 502.7 259.3 501.1 259.6 500.2C259.8 499.3 260.6 498.2 261.3 498.5C262.0 498.7 262.8 499.9 263.8 501.5C264.9 503.0 266.1 505.4 267.6 507.7C269.0 510.0 270.7 512.7 272.6 515.2C274.5 517.7 277.0 520.2 278.8 522.7C280.7 525.2 282.7 528.5 283.8 530.2C285.0 532.0 285.3 532.5 285.6 533.0"/>
<path d="M364.7 533.0C364.4 531.7 363.7 527.4 362.7 525.2C361.7 523.1 360.4 521.4 359.0 520.2C357.5 519.1 355.6 519.0 353.9 518.2C352.3 517.5 350.3 516.0 348.9 515.7C347.6 515.4 346.3 515.5 345.9 516.5C345.5 517.4 345.7 520.0 346.4 521.5C347.1 522.9 348.5 524.1 350.2 525.2C351.9 526.4 354.4 527.2 356.4 528.2C358.5 529.3 361.7 531.0 362.7 531.5"/>
</g>
<g clip-path="url(#t13)">
<path d="M220.0 535.0C221.0 535.4 224.2 536.3 226.3 537.0C228.3 537.8 230.4 538.8 232.5 539.5C234.6 540.3 237.1 541.3 238.8 541.3C240.4 541.3 241.3 540.6 242.5 539.5C243.8 538.5 245.7 535.8 246.3 535.0"/>
<path d="M278.1 510.0C278.2 511.3 278.9 515.0 278.8 517.5C278.8 520.0 278.0 522.6 277.6 525.0C277.2 527.4 276.7 530.9 276.6 532.0"/>
<path d="M305.1 535.0C304.7 535.7 303.8 537.9 302.6 538.8C301.5 539.7 299.6 540.5 298.1 540.5C296.7 540.5 295.4 539.9 293.9 538.8C292.3 537.7 290.5 535.9 288.8 533.8C287.2 531.7 285.3 528.6 283.8 526.3C282.4 524.0 281.5 522.1 280.1 520.0C278.6 517.9 276.5 515.4 275.1 513.8C273.6 512.1 272.0 510.6 271.3 510.0"/>
<path d="M364.7 535.0C364.2 534.4 362.8 532.5 361.5 531.3C360.1 530.0 358.3 528.8 356.4 527.5C354.6 526.3 351.9 525.0 350.2 523.8C348.5 522.5 347.1 521.4 346.4 520.0C345.7 518.6 345.5 516.3 345.9 515.5C346.3 514.7 347.6 514.5 348.9 515.0C350.3 515.5 352.3 517.9 353.9 518.8C355.6 519.6 357.5 519.6 359.0 520.0C360.4 520.4 361.7 520.0 362.7 521.3C363.7 522.5 364.4 525.4 365.2 527.5C366.0 529.6 367.1 532.1 367.7 533.8C368.3 535.5 369.2 536.3 369.0 537.5C368.8 538.8 367.5 540.0 366.5 541.3C365.4 542.5 364.2 544.0 362.7 545.1C361.2 546.1 359.2 546.7 357.7 547.6C356.2 548.4 355.0 549.3 353.9 550.1C352.9 550.8 351.6 551.5 351.2 551.8"/>
</g>
<g clip-path="url(#t20)">
<path d="M370.0 121.3C371.7 121.6 377.1 122.6 380.0 123.2C382.9 123.7 384.8 123.8 387.2 124.6C389.6 125.5 392.0 126.7 394.5 128.2C396.9 129.8 399.3 131.8 401.7 134.0C404.1 136.2 406.8 139.1 408.9 141.2C411.1 143.4 413.4 145.8 414.7 147.1C416.0 148.3 416.0 148.3 416.9 148.8C417.7 149.3 418.2 149.1 419.8 149.9C421.4 150.7 424.0 152.0 426.3 153.6C428.6 155.1 431.1 157.1 433.5 159.3C436.0 161.6 438.6 164.4 440.8 167.3C442.9 170.2 444.9 173.4 446.6 176.7C448.2 179.9 449.7 183.7 450.9 186.8C452.1 190.0 453.1 193.3 453.8 195.5C454.5 197.7 454.6 197.1 455.2 200.0C455.9 202.9 456.4 209.2 457.6 212.7C458.8 216.2 461.6 219.6 462.4 221.0"/>
<path d="M370.0 135.6C371.7 135.5 377.4 135.1 380.0 135.0C382.6 135.0 383.8 135.0 385.8 135.5C387.7 135.9 389.4 136.7 391.6 137.9C393.7 139.1 396.4 141.1 398.8 142.7C401.2 144.3 404.2 146.5 406.0 147.8C407.8 149.0 409.2 148.9 409.7 150.4C410.1 151.8 408.9 154.2 408.9 156.4C409.0 158.7 409.5 161.3 410.1 163.7C410.7 166.1 411.5 168.7 412.6 170.9C413.6 173.1 415.0 175.1 416.2 176.7C417.4 178.3 418.6 179.6 419.8 180.3C421.0 181.1 422.8 181.2 423.4 181.3"/>
<path d="M409.7 150.4C410.4 150.9 412.6 152.1 414.0 153.6C415.4 155.1 416.8 157.2 417.9 159.3C419.0 161.5 420.0 164.2 420.8 166.6C421.6 169.0 422.2 171.5 422.7 173.8C423.2 176.1 423.3 177.9 423.8 180.3C424.3 182.7 424.9 185.9 425.6 188.3C426.2 190.7 427.0 192.8 427.7 194.8C428.5 196.7 429.5 198.8 429.9 200.0C430.3 201.2 430.3 201.6 430.3 202.0"/>
<path d="M424.1 121.0C423.5 120.3 421.7 118.4 420.5 117.1C419.3 115.8 417.9 114.2 416.9 113.3C415.9 112.4 415.1 111.9 414.7 111.6"/>
<path d="M483.2 180.7C482.7 181.1 481.3 183.6 480.2 183.2C479.0 182.8 477.6 179.9 476.4 178.2C475.2 176.4 473.7 174.2 473.1 172.7C472.6 171.2 472.0 170.1 473.1 169.2C474.3 168.2 477.7 167.4 480.2 167.2C482.6 166.9 485.4 166.9 487.7 167.7C490.0 168.4 491.8 169.7 493.9 171.4C496.0 173.1 498.1 175.2 500.2 177.7C502.3 180.2 504.6 183.3 506.4 186.4C508.3 189.6 510.0 193.1 511.5 196.4C512.9 199.8 514.2 202.7 515.2 206.5C516.3 210.2 517.3 216.7 517.7 218.7"/>
<path d="M462.4 221.0C463.7 220.5 467.2 218.9 470.1 218.2C473.1 217.6 476.8 217.1 480.2 217.2C483.5 217.4 486.8 218.1 490.2 219.0C493.5 219.9 497.3 221.3 500.2 222.7C503.1 224.2 505.4 226.0 507.7 227.7C510.0 229.5 512.9 232.1 514.0 233.0"/>
</g>
<g clip-path="url(#t21)">
<path d="M386.5 257.8C386.9 259.2 387.8 263.5 388.8 266.3C389.8 269.2 391.1 272.0 392.5 275.1C394.0 278.2 396.1 281.8 397.5 285.1C399.0 288.4 400.3 291.8 401.3 295.1C402.3 298.5 403.0 302.6 403.8 305.1C404.6 307.6 405.5 308.9 406.3 310.1C407.1 311.4 408.2 312.4 408.6 312.9"/>
<path d="M457.6 210.0C458.0 211.0 459.3 214.4 460.1 216.3C460.9 218.1 461.5 219.1 462.4 221.0C463.2 222.9 463.8 225.2 465.1 227.5C466.4 229.9 468.5 232.9 470.1 235.0C471.8 237.2 473.7 239.2 475.2 240.5C476.6 241.9 477.6 243.2 478.9 243.0C480.2 242.9 482.5 240.1 483.2 239.5"/>
<path d="M462.4 221.0C463.7 220.6 467.2 219.3 470.1 218.8C473.1 218.2 476.8 217.5 480.2 217.5C483.5 217.5 486.8 217.9 490.2 218.8C493.5 219.6 497.1 220.6 500.2 222.5C503.3 224.4 506.4 227.3 509.0 230.0C511.5 232.7 513.4 235.9 515.2 238.8C517.0 241.7 518.8 244.8 519.7 247.6C520.7 250.3 521.1 252.8 521.0 255.1C520.8 257.4 520.1 259.4 519.0 261.3C517.9 263.2 515.2 265.5 514.5 266.3"/>
<path d="M516.5 210.0L517.7 219.0"/>
<path d="M532.7 210.0C532.1 210.8 530.0 212.9 529.0 215.0C527.9 217.1 526.8 219.8 526.5 222.5C526.2 225.2 526.6 228.6 527.2 231.3C527.9 234.0 528.9 236.9 530.2 238.8C531.6 240.7 533.4 242.4 535.2 242.5C537.1 242.7 540.5 240.0 541.5 239.5"/>
<path d="M424.1 298.9C423.6 299.7 422.2 303.3 421.3 303.9C420.4 304.5 419.2 303.9 418.8 302.6C418.4 301.4 418.4 298.3 418.8 296.4C419.2 294.5 419.9 292.8 421.3 291.4C422.8 289.9 425.3 288.3 427.6 287.6C429.9 286.9 432.6 286.7 435.1 287.1C437.6 287.5 440.1 288.8 442.6 290.1C445.1 291.5 447.8 293.2 450.1 295.1C452.4 297.0 454.5 299.1 456.4 301.4C458.3 303.7 460.0 306.2 461.4 308.9C462.8 311.6 464.0 314.9 464.6 317.7C465.3 320.4 465.5 322.7 465.1 325.2C464.8 327.7 463.1 331.4 462.6 332.7"/>
<path d="M483.2 298.9C482.5 299.6 480.7 302.1 478.9 303.1C477.2 304.2 475.2 304.7 472.6 305.1C470.1 305.6 466.8 305.3 463.9 305.6C461.0 306.0 457.5 306.5 455.1 307.1C452.7 307.8 450.8 308.7 449.6 309.6C448.4 310.6 447.8 311.6 448.1 312.6C448.4 313.6 449.8 314.9 451.4 315.7C453.0 316.4 455.3 316.8 457.6 317.2C459.9 317.5 463.1 316.9 465.1 317.7C467.2 318.4 468.3 320.4 470.1 321.4C472.0 322.5 474.4 322.7 476.4 323.9C478.4 325.2 480.6 327.0 482.2 328.9C483.7 330.8 484.8 332.9 485.7 335.2C486.5 337.5 487.2 340.6 487.2 342.7C487.2 344.8 486.3 346.4 485.7 347.7C485.0 349.0 483.8 349.8 483.4 350.2"/>
<path d="M541.5 298.9C540.9 299.6 539.4 301.9 537.7 303.1C536.1 304.4 534.0 305.6 531.5 306.4C529.0 307.2 525.9 307.9 522.7 308.1C519.6 308.4 516.0 307.9 512.7 307.6C509.4 307.3 505.8 306.9 502.7 306.4C499.6 305.9 496.4 304.8 493.9 304.6C491.4 304.4 489.2 304.6 487.7 305.1C486.1 305.7 484.7 307.3 484.7 308.1C484.7 309.0 486.8 309.2 487.7 310.1C488.6 311.1 488.9 312.6 490.2 313.9C491.4 315.2 493.5 316.2 495.2 317.7C496.8 319.1 498.7 320.8 500.2 322.7C501.6 324.5 502.9 326.6 503.9 328.9C505.0 331.2 506.0 333.9 506.4 336.4C506.9 338.9 506.9 341.9 506.4 343.9C506.0 346.0 505.0 347.7 503.9 349.0C502.9 350.2 500.6 351.0 499.9 351.5"/>
<path d="M424.1 358.2C423.4 357.9 421.3 357.4 420.1 356.5C418.9 355.5 417.0 354.3 416.8 352.7C416.6 351.2 417.7 348.9 418.8 347.2C420.0 345.5 422.2 343.9 423.8 342.7C425.5 341.4 427.2 340.0 428.8 339.7C430.5 339.4 431.8 340.6 433.8 340.7C435.9 340.8 439.1 340.1 441.4 340.2C443.6 340.3 445.5 341.0 447.6 341.4C449.7 341.9 452.0 341.7 453.9 342.7C455.7 343.7 457.3 345.5 458.9 347.2C460.4 348.9 462.1 351.0 463.1 352.7C464.2 354.5 465.3 356.5 465.1 357.7C464.9 358.9 462.4 359.6 461.9 360.0"/>
<path d="M483.2 358.2C482.5 358.8 480.7 360.7 478.9 361.5C477.2 362.2 474.9 362.4 472.6 362.7C470.4 363.0 467.4 362.9 465.1 363.2C462.8 363.6 460.6 364.1 458.9 364.7C457.1 365.4 455.5 366.2 454.6 367.2C453.7 368.2 453.1 370.4 453.4 370.7C453.7 371.0 455.0 369.6 456.4 369.0C457.7 368.4 459.7 367.4 461.4 367.2C463.1 367.1 465.0 367.5 466.4 368.2C467.8 368.9 468.9 370.1 469.6 371.5C470.4 372.9 470.8 375.4 470.6 376.5C470.5 377.5 469.5 378.0 468.9 377.7C468.3 377.5 467.2 375.2 466.9 374.7"/>
<path d="M370.0 367.7C370.8 368.1 373.5 369.0 375.0 370.2C376.5 371.5 378.0 373.1 378.8 375.2C379.5 377.4 379.4 381.7 379.5 383.0"/>
</g>
<g clip-path="url(#t22)">
<path d="M370.0 477.2C371.3 476.9 375.0 476.2 377.5 475.7C380.0 475.1 382.5 474.5 385.0 473.9C387.5 473.3 390.0 472.6 392.5 471.9C395.0 471.2 397.9 470.3 400.0 469.7C402.2 469.0 404.7 468.1 405.6 468.2C406.4 468.2 405.3 470.5 405.1 470.2C404.8 469.9 404.2 467.4 403.8 466.4C403.4 465.4 402.8 464.5 402.5 464.2"/>
<path d="M370.0 504.7C370.8 504.6 373.3 504.4 375.0 504.0C376.7 503.5 378.1 502.6 380.0 502.2C381.9 501.8 384.2 501.5 386.3 501.7C388.4 501.9 390.4 502.6 392.5 503.2C394.6 503.8 396.8 504.8 398.8 505.2C400.8 505.6 403.6 505.6 404.5 505.7"/>
<path d="M424.1 476.7C424.5 477.7 425.7 480.9 426.3 482.7C427.0 484.4 427.5 487.2 428.1 487.2C428.7 487.2 429.4 485.1 430.1 482.7C430.8 480.3 431.5 475.8 432.1 472.7C432.7 469.5 433.3 466.6 433.8 463.9C434.4 461.2 435.0 457.8 435.6 456.4C436.2 454.9 436.4 454.8 437.6 455.1C438.8 455.5 440.5 457.6 442.6 458.4C444.7 459.1 447.6 459.1 450.1 459.6C452.6 460.1 454.9 460.5 457.6 461.4C460.3 462.3 463.7 463.7 466.4 465.2C469.1 466.6 471.6 468.5 473.9 470.2C476.2 471.8 478.6 474.1 480.2 475.2C481.7 476.3 482.7 476.4 483.2 476.7"/>
<path d="M483.4 484.9C483.2 484.1 482.2 481.6 482.2 480.2C482.1 478.8 483.5 476.3 483.2 476.7C482.8 477.1 481.1 480.4 480.2 482.7C479.2 484.9 478.5 487.9 477.7 490.2C476.8 492.5 475.8 494.9 475.2 496.4C474.5 498.0 473.7 500.7 473.9 499.7C474.1 498.7 475.6 493.4 476.4 490.2C477.2 486.9 478.1 483.5 478.9 480.2C479.7 476.8 480.6 473.1 481.4 470.2C482.2 467.2 483.3 464.1 483.9 462.6C484.5 461.2 484.1 461.0 485.2 461.4C486.2 461.8 488.1 463.5 490.2 465.2C492.3 466.8 495.2 469.1 497.7 471.4C500.2 473.7 502.9 476.2 505.2 478.9C507.5 481.6 509.6 484.8 511.5 487.7C513.3 490.6 515.3 493.5 516.5 496.4C517.6 499.4 518.3 502.3 518.5 505.2C518.6 508.1 518.0 511.3 517.2 514.0C516.5 516.7 515.3 519.1 514.0 521.5C512.6 523.9 510.5 526.4 509.0 528.2C507.4 530.0 505.4 531.6 504.7 532.2"/>
<path d="M370.0 367.5C370.8 367.9 373.5 368.8 375.0 370.0C376.5 371.3 378.1 373.1 378.8 375.0C379.5 376.9 379.3 379.5 379.3 381.3C379.2 383.0 378.4 384.8 378.3 385.5"/>
<path d="M466.9 375.0C467.2 375.5 468.3 377.6 468.9 378.0C469.5 378.4 470.4 378.7 470.6 377.5C470.9 376.4 470.9 373.0 470.1 371.3C469.4 369.5 467.8 367.8 466.4 367.0C464.9 366.2 463.1 366.2 461.4 366.3C459.7 366.3 457.7 366.9 456.4 367.5C455.0 368.1 453.6 370.4 453.4 370.0C453.2 369.6 454.0 366.3 455.1 365.0C456.2 363.8 458.0 362.8 460.1 362.5C462.2 362.2 465.1 363.1 467.6 363.0C470.1 362.9 472.6 362.8 475.2 362.0C477.7 361.2 481.8 358.7 483.2 358.0"/>
</g>
<g clip-path="url(#t23)">
<path d="M504.4 532.5C505.2 531.7 507.5 529.4 509.0 527.5C510.4 525.6 512.0 523.4 513.2 521.3C514.5 519.2 515.6 516.9 516.5 515.0C517.3 513.1 517.9 510.8 518.2 510.0"/>
<path d="M541.5 535.0C541.3 536.1 540.9 539.5 540.2 541.3C539.6 543.0 539.0 544.4 537.7 545.6C536.5 546.7 534.6 547.5 532.7 548.1C530.9 548.6 528.6 548.7 526.5 548.8C524.4 548.9 522.2 548.6 520.2 548.8C518.3 549.0 516.4 549.1 514.7 550.1C513.0 551.0 511.6 552.9 510.2 554.6C508.8 556.2 507.7 558.1 506.4 560.1C505.2 562.0 503.7 564.5 502.7 566.3C501.6 568.2 500.7 570.1 500.2 571.3C499.6 572.6 499.6 573.4 499.4 573.8"/>
</g>
<g clip-path="url(#t30)">
<path d="M542.3 180.7C541.9 179.8 540.7 177.3 540.0 175.2C539.3 173.0 538.7 170.0 538.0 167.7C537.4 165.4 536.7 163.0 536.0 161.4C535.4 159.8 533.9 159.1 534.3 158.1C534.6 157.2 536.7 156.2 538.0 155.6C539.4 155.1 541.0 154.5 542.3 154.6C543.5 154.8 544.4 155.3 545.5 156.4C546.7 157.5 548.0 159.5 549.3 161.4C550.5 163.3 551.8 165.4 553.1 167.7C554.3 170.0 555.6 172.7 556.8 175.2C558.1 177.7 559.1 180.5 560.6 182.7C562.0 184.8 564.0 186.8 565.6 188.2C567.1 189.6 569.1 190.5 569.8 190.9"/>
</g>
<g clip-path="url(#t31)">
<path d="M542.3 298.9C541.6 299.5 539.8 301.4 538.0 302.6C536.3 303.9 534.1 305.4 531.8 306.4C529.5 307.3 526.6 308.1 524.3 308.4C522.0 308.7 519.0 308.4 518.0 308.4"/>
</g>
<g clip-path="url(#t32)">
</g>
<g clip-path="url(#t33)">
<path d="M542.3 535.0C542.1 536.1 541.7 539.5 541.0 541.3C540.4 543.0 539.7 544.4 538.5 545.6C537.4 546.7 536.0 547.5 534.3 548.1C532.5 548.6 530.1 548.7 528.0 548.8C525.9 548.9 523.4 548.7 521.8 548.8C520.1 548.9 518.6 549.2 518.0 549.3"/>
</g>
<path d="M542.9 239.6C542.5 240.1 541.2 241.8 540.1 242.5C539.0 243.1 537.6 243.7 536.3 243.6C535.1 243.5 533.7 243.0 532.6 242.1C531.5 241.2 530.6 239.9 529.8 238.3C528.9 236.8 527.9 234.9 527.3 232.7C526.7 230.5 526.5 227.7 526.4 225.2C526.2 222.6 526.1 219.8 526.6 217.6C527.0 215.4 527.7 213.6 528.8 212.0C530.0 210.4 531.8 208.9 533.5 208.2C535.2 207.5 537.3 207.8 539.2 207.8C541.0 207.8 542.8 208.5 544.8 208.2C546.8 208.0 549.0 206.8 551.4 206.3C553.7 205.9 556.7 205.2 558.9 205.4C561.1 205.6 562.8 206.2 564.6 207.3C566.3 208.4 567.7 210.3 569.3 212.0C570.8 213.7 572.4 215.9 574.0 217.6C575.5 219.4 577.1 221.2 578.7 222.3C580.2 223.4 581.7 224.5 583.4 224.2C585.0 223.9 587.8 221.2 588.6 220.6"/>
<path d="M601.8 239.6C601.2 238.6 599.9 235.4 598.4 233.6C596.9 231.8 594.7 230.6 592.8 228.9C590.9 227.3 588.9 225.4 587.1 223.6C585.4 221.9 583.7 220.0 582.4 218.6C581.2 217.1 579.1 215.7 579.6 214.8C580.1 214.0 583.1 213.9 585.3 213.5C587.4 213.1 590.7 212.7 592.8 212.4C594.8 212.0 596.5 211.4 597.5 211.6C598.5 211.9 598.0 213.2 598.8 213.9C599.6 214.6 600.9 215.7 602.2 215.7C603.4 215.8 605.6 214.6 606.3 214.4"/>
<path d="M542.3 121.1C541.6 121.3 540.0 122.3 538.0 122.6C536.1 122.9 533.0 122.8 530.5 123.1C528.0 123.4 525.1 123.9 523.0 124.6C520.9 125.3 519.2 126.6 518.0 127.1C516.8 127.6 516.3 127.5 516.0 127.6"/>
<path d="M186.0 225.9C186.0 226.8 186.0 229.2 186.0 230.8C186.1 232.4 186.2 234.1 186.4 235.5C186.6 236.9 187.6 239.3 187.3 239.5C186.9 239.7 185.2 237.0 184.3 236.5C183.4 236.1 182.6 236.6 181.7 236.9C180.8 237.2 179.8 238.7 179.1 238.3C178.4 237.8 177.8 235.4 177.4 234.3C176.9 233.2 177.0 232.3 176.5 231.7C176.0 231.0 174.2 230.8 174.2 230.3C174.2 229.8 175.5 229.2 176.5 228.6C177.5 227.9 178.8 227.4 180.0 226.5C181.1 225.5 182.6 224.3 183.4 223.0C184.3 221.7 184.7 220.1 185.2 218.7C185.6 217.2 185.7 215.5 186.0 214.3C186.4 213.2 186.7 212.3 187.4 211.7C188.2 211.1 189.0 210.9 190.4 210.5C191.8 210.1 193.9 209.6 195.6 209.1C197.3 208.6 199.1 207.9 200.8 207.4C202.5 206.9 204.3 206.3 206.0 206.2C207.8 206.0 209.5 206.5 211.2 206.5C213.0 206.5 215.0 206.3 216.4 206.0C217.9 205.7 219.0 205.3 219.9 204.8C220.8 204.3 221.6 203.3 222.0 203.0"/>
<path d="M260.7 207.4C259.7 207.6 256.1 208.8 254.6 208.8C253.2 208.8 252.6 207.9 252.0 207.4C251.5 206.8 251.8 205.7 251.2 205.3C250.6 204.8 249.4 204.4 248.6 204.8C247.7 205.1 247.0 206.2 246.0 207.4C244.9 208.5 243.4 210.3 242.5 211.7C241.5 213.2 240.7 214.6 240.2 216.0C239.8 217.5 239.7 218.8 239.9 220.4C240.1 222.0 240.9 223.9 241.6 225.6C242.3 227.3 243.6 229.1 244.2 230.8C244.9 232.5 245.1 234.6 245.4 236.0C245.8 237.5 246.2 238.9 246.3 239.5"/>
<path d="M246.3 239.5C245.8 239.7 244.4 240.6 243.4 240.7C242.3 240.9 240.8 240.0 239.9 240.4C239.0 240.7 238.4 242.3 237.8 243.0C237.2 243.6 236.2 243.8 236.4 244.2C236.6 244.6 237.9 245.3 239.0 245.2C240.2 245.2 241.8 244.4 243.4 243.8C244.9 243.3 246.7 242.2 248.6 241.8C250.4 241.3 252.6 241.6 254.6 241.2C256.7 240.9 258.8 240.2 260.7 239.5C262.6 238.8 264.2 237.8 265.9 236.9C267.7 235.9 269.6 234.5 271.1 233.8C272.7 233.0 274.0 232.8 275.5 232.5C277.0 232.3 278.1 232.2 280.0 232.2C281.9 232.2 284.6 232.7 286.8 232.7C288.9 232.7 290.9 232.5 292.9 232.2C294.8 231.9 297.5 231.0 298.4 230.8"/>
<path d="M483.5 534.7C482.7 535.8 480.4 539.0 478.9 541.2C477.4 543.5 475.9 546.6 474.5 548.5C473.2 550.4 472.2 551.6 470.9 552.8C469.6 554.0 467.9 555.1 466.6 555.7C465.2 556.4 464.3 556.8 463.0 556.7C461.6 556.6 460.4 555.9 458.6 555.0C456.8 554.1 454.4 552.7 452.1 551.4C449.8 550.0 447.3 548.4 444.9 547.0C442.5 545.7 439.7 544.5 437.6 543.4C435.6 542.3 434.0 541.5 432.6 540.5C431.1 539.6 430.0 538.6 428.9 537.6C427.9 536.7 427.0 535.8 426.0 534.7C425.1 533.6 424.2 532.4 423.2 531.1C422.1 529.8 420.9 528.1 419.5 526.8C418.2 525.4 416.5 524.4 415.2 523.2C413.9 521.9 412.5 520.7 411.9 519.5C411.2 518.3 411.1 516.8 411.3 515.9C411.5 515.0 411.8 514.7 413.0 514.2C414.3 513.7 416.6 513.3 418.8 512.7C421.0 512.2 423.6 511.4 426.0 510.9C428.5 510.3 431.1 509.6 433.3 509.4C435.5 509.2 437.1 509.1 439.1 509.4C441.0 509.7 443.1 510.5 444.9 511.3C446.7 512.1 448.4 513.0 449.9 514.2C451.4 515.3 452.9 516.7 453.8 518.1C454.8 519.5 455.5 521.0 455.7 522.4C455.9 523.9 455.6 525.4 455.0 526.8C454.4 528.1 453.2 529.3 452.1 530.4C451.0 531.5 449.6 532.4 448.5 533.3C447.4 534.1 446.4 534.5 445.6 535.5C444.7 536.4 444.1 537.8 443.4 539.1C442.7 540.4 441.8 542.5 441.5 543.1"/>
<path d="M427.1 541.2C426.9 540.9 426.5 540.1 426.0 539.1C425.6 538.1 424.2 535.8 424.2 535.2C424.1 534.6 425.0 535.8 425.8 535.5C426.6 535.1 427.7 533.9 428.9 533.3C430.2 532.7 431.8 532.2 433.3 531.8C434.7 531.5 436.2 531.1 437.6 531.1C439.1 531.1 440.6 531.4 442.0 531.8C443.3 532.3 444.5 533.2 445.6 534.0C446.7 534.9 447.8 535.8 448.5 536.9C449.2 538.0 449.6 539.3 449.6 540.5C449.7 541.7 449.5 542.9 448.9 544.1C448.4 545.3 447.3 546.7 446.3 547.8C445.3 548.8 444.0 549.8 442.7 550.7C441.4 551.5 439.8 552.1 438.4 552.8C436.9 553.5 435.2 554.0 434.0 554.7C432.8 555.4 432.0 556.3 431.1 557.2C430.3 558.1 429.6 559.0 428.9 560.1C428.3 561.1 427.4 562.8 427.1 563.4"/>
<path d="M424.3 239.6C423.7 240.0 421.9 241.8 420.7 242.1C419.4 242.4 418.5 242.1 417.0 241.4C415.6 240.7 413.8 239.3 412.0 237.8C410.2 236.2 408.0 234.3 406.2 232.0C404.4 229.7 402.6 226.7 401.1 224.0C399.7 221.4 398.5 218.5 397.5 216.0C396.5 213.6 395.6 211.5 395.3 209.5C395.1 207.6 395.4 205.8 396.0 204.5C396.7 203.2 397.6 202.2 398.9 201.9C400.3 201.5 402.1 201.7 404.0 202.3C405.9 202.9 408.5 204.0 410.5 205.2C412.6 206.4 414.5 208.0 416.3 209.5C418.1 211.1 419.8 212.7 421.4 214.6C422.9 216.5 424.5 218.9 425.7 221.1C426.9 223.3 427.9 225.3 428.6 227.6C429.3 229.9 429.6 232.5 430.1 234.9C430.5 237.3 430.9 239.4 431.5 242.1C432.1 244.8 432.8 247.8 433.7 250.8C434.5 253.8 435.7 257.5 436.6 260.0C437.4 262.6 437.7 264.3 438.9 266.0C440.1 267.6 443.1 269.2 444.0 269.9"/>
<path d="M381.6 207.7C381.8 208.1 382.4 208.6 382.7 210.3C383.1 211.9 383.5 214.8 383.7 217.5C384.0 220.1 384.2 223.3 384.5 226.2C384.8 229.1 385.4 232.2 385.6 234.9C385.9 237.5 386.1 239.9 385.9 242.1C385.7 244.3 384.8 246.2 384.5 247.9C384.1 249.6 383.7 251.0 383.7 252.2C383.7 253.4 383.9 254.2 384.5 255.1C385.0 256.0 386.5 257.3 386.9 257.7"/>
<path d="M380.4 250.1C380.6 250.3 380.9 250.5 381.6 251.5C382.3 252.5 383.6 254.8 384.5 255.8C385.4 256.9 386.5 257.4 386.9 257.7"/>
<path d="M601.7 298.6C601.2 299.1 599.9 300.4 599.0 301.6C598.1 302.8 597.2 304.6 596.1 306.0C595.0 307.4 593.7 309.0 592.5 310.3C591.3 311.6 589.9 312.8 588.9 313.6C587.9 314.4 587.4 314.9 586.7 315.0C586.0 315.1 585.4 314.6 584.9 313.9C584.4 313.2 584.1 312.1 583.7 311.0C583.3 309.9 583.1 308.7 582.7 307.4C582.3 306.1 581.7 304.5 581.3 303.1C580.9 301.7 580.2 299.9 580.1 299.1C580.0 298.3 580.3 298.0 580.6 298.4C580.9 298.8 581.4 300.3 582.0 301.6C582.6 302.9 583.7 304.7 584.5 306.0C585.3 307.3 586.2 308.5 586.7 309.6C587.2 310.8 587.7 311.9 587.8 312.9C587.9 313.9 587.6 314.6 587.4 315.4C587.1 316.2 586.8 317.0 586.3 317.9C585.8 318.8 585.0 320.0 584.5 320.8C584.0 321.6 583.6 322.1 583.1 322.6C582.6 323.2 581.7 323.9 581.4 324.1"/>
<path d="M424.1 417.0C423.7 416.7 422.1 415.7 421.3 415.4C420.4 415.0 419.7 413.4 418.9 414.7C418.1 416.1 416.5 423.0 416.5 423.7C416.4 424.3 417.9 420.3 418.6 418.9C419.2 417.4 420.4 415.8 420.2 415.1C419.9 414.3 418.3 414.5 417.3 414.4C416.3 414.3 415.2 414.5 414.1 414.4C413.0 414.3 411.2 414.2 410.9 413.8C410.7 413.4 411.8 412.8 412.5 412.2C413.2 411.6 414.1 410.9 414.9 410.1C415.7 409.4 416.9 408.3 417.3 407.7C417.6 407.1 417.5 406.6 417.0 406.5C416.4 406.3 415.2 406.5 414.1 406.9C413.0 407.4 411.3 408.5 410.1 409.3C408.9 410.1 407.7 411.0 406.9 411.7C406.1 412.4 405.6 413.3 405.3 413.6"/>
<path d="M483.7 417.0C483.4 416.7 482.6 416.3 481.8 415.4C480.9 414.5 479.6 412.9 478.6 411.7C477.6 410.6 476.7 409.3 475.9 408.5C475.0 407.7 474.1 406.9 473.3 406.9C472.5 406.9 471.6 407.6 471.1 408.5C470.6 409.5 470.1 411.1 470.1 412.5C470.1 414.0 470.7 415.7 471.1 417.3C471.5 418.9 472.4 420.5 472.7 422.1C473.0 423.7 472.9 425.4 473.0 426.8C473.1 428.3 473.2 430.6 473.5 430.8C473.7 431.1 473.9 429.6 474.6 428.4C475.3 427.2 476.7 425.2 477.8 423.7C478.8 422.1 480.0 420.0 481.0 418.9C481.9 417.8 483.0 417.2 483.7 417.0C484.3 416.8 484.3 417.3 484.9 417.6C485.6 417.9 486.5 418.6 487.3 418.6C488.2 418.6 489.3 418.3 490.2 417.6C491.0 416.9 491.7 415.6 492.4 414.1C493.1 412.6 493.8 410.4 494.5 408.5C495.2 406.6 496.1 403.6 496.4 402.6"/>
</g>
<g fill="#ff0000">
<circle cx="206.0" cy="125.1" r="3.1"/>
<circle cx="154.9" cy="187.9" r="3.1"/>
<circle cx="222.0" cy="203.0" r="3.1"/>
<circle cx="262.1" cy="154.9" r="3.1"/>
<circle cx="316.4" cy="146.6" r="3.1"/>
<circle cx="315.6" cy="182.9" r="3.1"/>
<circle cx="364.9" cy="180.7" r="3.1"/>
<circle cx="330.9" cy="226.5" r="3.1"/>
<circle cx="298.4" cy="230.8" r="3.1"/>
<circle cx="416.8" cy="148.7" r="3.1"/>
<circle cx="430.3" cy="202.0" r="3.1"/>
<circle cx="462.4" cy="221.0" r="3.1"/>
<circle cx="517.6" cy="218.8" r="3.1"/>
<circle cx="569.8" cy="190.9" r="3.1"/>
<circle cx="606.3" cy="214.4" r="3.1"/>
<circle cx="588.6" cy="220.6" r="3.1"/>
<circle cx="514.2" cy="266.2" r="3.1"/>
<circle cx="219.4" cy="329.4" r="3.1"/>
<circle cx="210.3" cy="381.1" r="3.1"/>
<circle cx="386.6" cy="257.8" r="3.1"/>
<circle cx="260.8" cy="360.6" r="3.1"/>
<circle cx="443.9" cy="269.8" r="3.1"/>
<circle cx="408.6" cy="312.9" r="3.1"/>
<circle cx="462.6" cy="332.7" r="3.1"/>
<circle cx="483.4" cy="350.2" r="3.1"/>
<circle cx="499.9" cy="351.5" r="3.1"/>
<circle cx="461.9" cy="360.0" r="3.1"/>
<circle cx="466.9" cy="374.7" r="3.1"/>
<circle cx="581.6" cy="324.2" r="3.1"/>
<circle cx="222.7" cy="524.2" r="3.1"/>
<circle cx="378.2" cy="385.5" r="3.1"/>
<circle cx="244.5" cy="422.6" r="3.1"/>
<circle cx="279.6" cy="439.4" r="3.1"/>
<circle cx="331.4" cy="450.6" r="3.1"/>
<circle cx="316.4" cy="485.9" r="3.1"/>
<circle cx="276.4" cy="531.9" r="3.1"/>
<circle cx="405.3" cy="413.3" r="3.1"/>
<circle cx="496.2" cy="402.8" r="3.1"/>
<circle cx="402.5" cy="464.2" r="3.1"/>
<circle cx="483.4" cy="484.9" r="3.1"/>
<circle cx="404.5" cy="505.7" r="3.1"/>
<circle cx="504.6" cy="532.4" r="3.1"/>
<circle cx="220.2" cy="559.6" r="3.1"/>
<circle cx="351.2" cy="551.8" r="3.1"/>
<circle cx="441.5" cy="543.1" r="3.1"/>
<circle cx="427.1" cy="563.4" r="3.1"/>
</g>
<path d="M64.5 57.5H678.5V676.5H64.5ZM71.5 63.5V670.5H672.5V63.5Z" fill="#fff" fill-rule="evenodd"/>
<path d="M64.0 57.5H679.0M71.0 63.5H673.0M71.0 670.5H673.0M64.0 676.5H679.0" stroke="#aaa" stroke-width="1" fill="none"/>
<path d="M64.5 57.5V676.5M71.5 63.5V670.5M672.5 63.5V670.5M678.5 57.5V676.5" stroke="#9a9a9a" stroke-width="1" fill="none"/>
<path d="M64.5 57.5L71.5 63.5M678.5 57.5L672.5 63.5M64.5 676.5L71.5 670.5M678.5 676.5L672.5 670.5" stroke="#8a8a8a" stroke-width="1" fill="none"/>
<path d="M108.5 57.0V64.0M108.5 670.0V677.0M152.5 57.0V64.0M152.5 670.0V677.0M211.5 57.0V64.0M211.5 670.0V677.0M269.5 57.0V64.0M269.5 670.0V677.0M327.5 57.0V64.0M327.5 670.0V677.0M386.5 57.0V64.0M386.5 670.0V677.0M444.5 57.0V64.0M444.5 670.0V677.0M503.5 57.0V64.0M503.5 670.0V677.0M561.5 57.0V64.0M561.5 670.0V677.0M620.5 57.0V64.0M620.5 670.0V677.0M650.5 57.0V64.0M650.5 670.0V677.0M64.0 75.5H72.0M672.0 75.5H679.0M64.0 94.5H72.0M672.0 94.5H679.0M64.0 155.5H72.0M672.0 155.5H679.0M64.0 216.5H72.0M672.0 216.5H679.0M64.0 276.5H72.0M672.0 276.5H679.0M64.0 337.5H72.0M672.0 337.5H679.0M64.0 398.5H72.0M672.0 398.5H679.0M64.0 458.5H72.0M672.0 458.5H679.0M64.0 519.5H72.0M672.0 519.5H679.0M64.0 580.5H72.0M672.0 580.5H679.0M64.0 628.5H72.0M672.0 628.5H679.0" stroke="#7a7a7a" stroke-width="1" fill="none"/>
<path d="M675.5 63.5V75.5M675.5 94.5V155.5M675.5 216.5V276.5M675.5 337.5V398.5M675.5 458.5V519.5M675.5 580.5V628.5" stroke="#6c6c6c" stroke-width="1" fill="none"/>
<path d="M71.5 673.5H108.5M108.5 60.5H152.5M152.5 673.5H211.5M211.5 60.5H269.5M269.5 673.5H327.5M327.5 60.5H386.5M386.5 673.5H444.5M444.5 60.5H503.5M503.5 673.5H561.5M561.5 60.5H620.5M620.5 673.5H650.5M650.5 60.5H672.5" stroke="#6c6c6c" stroke-width="1" fill="none"/>
<path d="M68.0 75.5V94.5M68.0 155.5V216.5M68.0 276.5V337.5M68.0 398.5V458.5M68.0 519.5V580.5M68.0 628.5V670.5" stroke="#b6b6b6" stroke-width="2" fill="none"/>
<path d="M152.5 51.3V57.5M152.5 676.5V682.6M269.5 51.3V57.5M269.5 676.5V682.6M386.5 51.3V57.5M386.5 676.5V682.6M503.5 51.3V57.5M503.5 676.5V682.6M620.5 51.3V57.5M620.5 676.5V682.6M58.3 94.1H64.5M678.5 94.1H684.9M58.3 216.1H64.5M678.5 216.1H684.9M58.3 337.1H64.5M678.5 337.1H684.9M58.3 458.1H64.5M678.5 458.1H684.9M58.3 580.1H64.5M678.5 580.1H684.9" stroke="#000" stroke-width="2.1" fill="none"/>
<text x="373.2" y="23.3" font-size="20" text-anchor="middle">MNTY: From 25−Jun−2012 06:00</text>
<text x="373" y="45.4" font-size="20" letter-spacing="0.09" text-anchor="middle">to 26−Jun−2012 06:00 GMT</text>
<text x="12.6" y="101.8" font-size="18">37<tspan font-size="14.5" dy="-9" dx="0.5">o</tspan><tspan dy="9">N</tspan></text>
<text x="56.9" y="221.4" font-size="14" text-anchor="end">50<tspan dx="0.6">'</tspan></text>
<text x="56.9" y="342.4" font-size="14" text-anchor="end">40<tspan dx="0.6">'</tspan></text>
<text x="56.9" y="463.4" font-size="14" text-anchor="end">30<tspan dx="0.6">'</tspan></text>
<text x="56.9" y="585.4" font-size="14" text-anchor="end">20<tspan dx="0.6">'</tspan></text>
<text x="153.6" y="694.7" font-size="14" text-anchor="middle">36'</text>
<text x="270.6" y="694.7" font-size="14" text-anchor="middle">24'</text>
<text x="387.6" y="694.7" font-size="14" text-anchor="middle">12'</text>
<text x="621.6" y="694.7" font-size="14" text-anchor="middle">48'</text>
<text x="475.7" y="704.2" font-size="18">122<tspan font-size="14.5" dy="-9" dx="0.5">o</tspan><tspan dy="9">W</tspan></text>
<path d="M575.7 451.7H641.2" stroke="#000" stroke-width="1.9" fill="none"/><path d="M575.7 444.9V457.6M641.2 444.9V457.6" stroke="#000" stroke-width="1.4" fill="none"/>
<text x="608.5" y="447.1" font-size="15.4" font-weight="bold" letter-spacing="0.35" text-anchor="middle">10 km</text>
</svg></body></html>
